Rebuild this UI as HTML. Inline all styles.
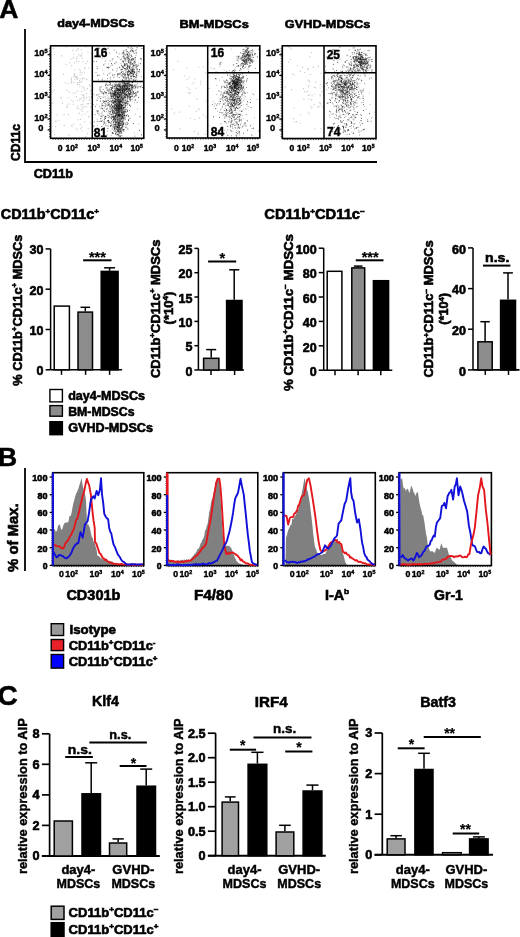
<!DOCTYPE html>
<html><head><meta charset="utf-8"><style>
html,body{margin:0;padding:0;background:#fff;}
svg{display:block;will-change:transform;font-family:"Liberation Sans", sans-serif;font-weight:bold;}
</style></head><body>
<svg width="520" height="937" viewBox="0 0 520 937">
<defs><filter id="soft" x="0" y="0" width="1" height="1"><feGaussianBlur stdDeviation="0.35"/></filter></defs>
<rect width="520" height="937" fill="#fff"/>
<text x="-0.7" y="17.6" font-size="26.5" stroke="#000" stroke-width="0.5">A</text>
<path d="M25 29V162H377" fill="none" stroke="#000" stroke-width="1.8"/>
<text x="57.3" y="27.4" font-size="11.8" textLength="77.3" lengthAdjust="spacingAndGlyphs" stroke="#000" stroke-width="0.6">day4-MDSCs</text>
<text x="179.6" y="27.8" font-size="11.8" textLength="69.2" lengthAdjust="spacingAndGlyphs" stroke="#000" stroke-width="0.6">BM-MDSCs</text>
<text x="284.8" y="27.8" font-size="11.8" textLength="85.6" lengthAdjust="spacingAndGlyphs" stroke="#000" stroke-width="0.6">GVHD-MDSCs</text>
<text x="19.8" y="142.5" font-size="12.5" text-anchor="middle" textLength="37.0" lengthAdjust="spacingAndGlyphs" transform="rotate(-90 19.8 142.5)" stroke="#000" stroke-width="0.6">CD11c</text>
<text x="33.7" y="178.3" font-size="12.5" textLength="39.3" lengthAdjust="spacingAndGlyphs" stroke="#000" stroke-width="0.6">CD11b</text>
<g filter="url(#soft)">
<path d="M120.2 104.1h.9M115.4 102.2h.9M117.2 121.3h.9M116.5 103.9h.9M120.4 130.1h.9M119.4 115.5h.9M118.9 108.3h.9M117.2 104.8h.9M111.4 94.2h.9M118.1 109.9h.9M120.1 111.7h.9M118.3 99.6h.9M118.8 115.6h.9M112.9 110.3h.9M115.8 108.1h.9M123.2 112.9h.9M118.9 105.3h.9M116.7 106.6h.9M119.3 116.5h.9M112.8 107.0h.9M127.0 100.0h.9M122.0 118.6h.9M119.3 126.2h.9M124.8 97.8h.9M119.8 108.6h.9M119.5 110.6h.9M114.3 103.3h.9M116.7 111.4h.9M122.6 109.3h.9M123.6 113.1h.9M113.7 104.6h.9M111.0 114.9h.9M118.6 109.6h.9M124.0 117.8h.9M118.0 119.1h.9M120.4 99.6h.9M114.5 97.9h.9M117.2 116.9h.9M123.7 119.1h.9M123.2 112.0h.9M113.8 104.8h.9M120.4 109.6h.9M115.4 118.5h.9M121.8 124.8h.9M118.7 100.8h.9M119.1 114.6h.9M114.8 115.7h.9M122.9 112.9h.9M119.8 114.6h.9M119.4 108.3h.9M116.6 117.7h.9M111.0 114.4h.9M114.5 100.2h.9M112.0 112.2h.9M122.0 101.3h.9M124.0 117.7h.9M118.4 108.2h.9M118.8 106.9h.9M124.0 117.7h.9M116.8 105.4h.9M116.3 112.7h.9M114.8 109.5h.9M120.3 109.4h.9M116.0 111.3h.9M116.8 94.1h.9M124.3 122.5h.9M117.2 111.5h.9M119.1 110.7h.9M123.7 110.1h.9M120.5 114.0h.9M121.2 106.5h.9M117.2 106.7h.9M114.0 110.0h.9M122.4 129.7h.9M121.0 118.7h.9M122.3 103.1h.9M122.4 105.8h.9M112.4 99.5h.9M118.3 119.0h.9M118.8 102.7h.9M116.4 95.4h.9M115.0 121.5h.9M115.5 88.6h.9M120.4 110.4h.9M118.6 90.8h.9M117.2 110.1h.9M123.6 112.0h.9M118.9 103.2h.9M116.2 128.6h.9M106.0 111.6h.9M119.2 110.9h.9M115.2 104.4h.9M123.5 107.2h.9M119.2 105.3h.9M121.2 108.6h.9M114.8 107.5h.9M113.7 106.4h.9M124.8 99.8h.9M117.1 120.4h.9M122.1 109.3h.9M108.5 104.8h.9M120.0 103.2h.9M118.8 110.4h.9M116.8 114.5h.9M117.4 97.6h.9M111.7 102.5h.9M122.9 111.7h.9M118.0 110.2h.9M125.0 103.8h.9M118.8 109.4h.9M125.4 109.8h.9M118.7 112.7h.9M122.5 117.9h.9M117.4 104.8h.9M118.1 109.4h.9M121.3 113.3h.9M125.1 104.0h.9M116.6 93.5h.9M119.8 99.2h.9M115.0 90.4h.9M120.8 106.1h.9M115.4 101.7h.9M125.1 110.9h.9M118.2 116.9h.9M124.9 107.8h.9M117.0 110.8h.9M118.2 105.9h.9M120.2 101.4h.9M119.8 117.4h.9M119.2 106.9h.9M120.6 123.9h.9M122.4 101.7h.9M128.0 119.7h.9M119.9 105.9h.9M118.8 111.4h.9M114.4 119.0h.9M119.5 119.3h.9M123.3 114.6h.9M121.1 111.7h.9M123.0 118.0h.9M115.9 88.1h.9M123.1 110.7h.9M114.1 104.9h.9M117.5 115.7h.9M117.5 103.0h.9M122.9 120.8h.9M117.2 111.8h.9M115.7 113.3h.9M114.9 120.9h.9M118.8 118.0h.9M122.4 122.5h.9M125.0 119.5h.9M115.9 114.0h.9M118.1 117.5h.9M118.4 109.7h.9M119.2 94.5h.9M118.8 110.6h.9M121.6 108.5h.9M123.4 103.9h.9M116.0 87.0h.9M120.5 110.9h.9M119.6 119.7h.9M119.2 113.6h.9M126.6 100.6h.9M114.8 120.4h.9M112.8 98.5h.9M122.0 116.5h.9M115.2 112.3h.9M114.7 98.2h.9M123.2 104.8h.9M114.7 93.3h.9M122.3 126.1h.9M117.4 96.3h.9M115.5 103.2h.9M117.4 107.2h.9M118.7 97.8h.9M118.7 113.9h.9M116.6 103.5h.9M114.8 93.8h.9M118.6 112.5h.9M120.0 104.1h.9M118.3 90.8h.9M119.9 131.2h.9M119.0 99.4h.9M119.3 119.5h.9M117.8 99.1h.9M117.5 124.5h.9M117.9 121.5h.9M119.9 98.8h.9M119.6 107.5h.9M120.8 107.6h.9M118.0 119.3h.9M119.8 116.7h.9M112.9 98.4h.9M123.7 97.8h.9M123.0 110.0h.9M119.9 122.9h.9M122.8 110.9h.9M108.9 99.2h.9M120.5 98.5h.9M119.4 96.9h.9M118.8 109.9h.9M121.3 96.9h.9M115.0 116.2h.9M120.2 121.7h.9M112.2 103.4h.9M110.0 100.2h.9M122.6 107.2h.9M120.5 109.9h.9M108.0 110.9h.9M118.5 119.2h.9M116.8 101.0h.9M126.8 100.1h.9M118.4 106.0h.9M124.9 104.1h.9M123.2 131.6h.9M113.0 116.2h.9M120.3 107.5h.9M116.4 101.7h.9M112.9 101.3h.9M121.0 105.4h.9M117.1 115.3h.9M123.1 105.6h.9M119.8 124.2h.9M115.1 107.8h.9M119.5 110.3h.9M120.8 112.9h.9M121.7 115.3h.9M119.9 113.8h.9M118.9 108.0h.9M116.0 121.0h.9M117.6 98.7h.9M112.6 107.3h.9M117.5 108.1h.9M121.0 108.9h.9M121.7 99.7h.9M125.8 99.2h.9M121.3 99.7h.9M110.9 110.0h.9M121.7 108.4h.9M117.6 119.7h.9M116.0 109.4h.9M123.9 99.1h.9M126.9 114.6h.9M111.8 103.2h.9M117.7 127.6h.9M118.7 114.8h.9M126.9 107.6h.9M121.8 107.5h.9M116.3 106.5h.9M124.8 105.2h.9M118.7 105.9h.9M117.8 108.7h.9M119.4 109.9h.9M117.3 99.1h.9M119.5 101.8h.9M125.0 111.6h.9M121.7 102.6h.9M124.6 123.3h.9M122.0 103.4h.9M117.8 108.4h.9M117.5 107.2h.9M120.7 107.6h.9M111.1 110.6h.9M121.8 126.5h.9M118.6 110.8h.9M121.5 114.1h.9M123.9 107.9h.9M120.6 90.7h.9M119.8 106.8h.9M113.6 107.1h.9M119.4 98.2h.9M117.9 110.2h.9M118.6 105.8h.9M116.1 104.1h.9M119.4 101.9h.9M118.8 121.9h.9M129.3 105.1h.9M115.0 115.7h.9M115.6 94.3h.9M117.1 106.2h.9M115.2 90.9h.9M117.1 113.2h.9M119.6 99.2h.9M118.7 100.5h.9M125.1 92.6h.9M118.6 90.0h.9M124.4 95.2h.9M129.2 98.4h.9M122.9 89.9h.9M121.3 89.4h.9M132.1 95.9h.9M127.4 89.1h.9M124.4 97.6h.9M123.9 90.9h.9M126.7 89.2h.9M126.8 93.2h.9M115.5 90.1h.9M137.7 91.3h.9M112.3 100.3h.9M117.5 90.0h.9M134.6 94.0h.9M113.5 91.1h.9M116.6 94.0h.9M129.1 90.8h.9M129.2 91.1h.9M114.5 93.1h.9M106.9 95.3h.9M116.9 86.7h.9M113.7 92.4h.9M126.7 94.6h.9M116.0 90.5h.9M123.4 89.8h.9M131.9 96.1h.9M116.8 90.0h.9M124.2 94.1h.9M122.8 83.7h.9M137.7 87.3h.9M113.7 95.7h.9M118.0 89.8h.9M117.6 93.5h.9M107.7 89.7h.9M120.1 93.7h.9M124.2 90.7h.9M113.4 88.2h.9M115.3 92.6h.9M119.9 90.9h.9M124.2 91.7h.9M122.1 90.9h.9M130.4 95.9h.9M127.9 101.8h.9M127.0 95.5h.9M123.6 97.1h.9M123.6 100.3h.9M128.9 97.4h.9M128.9 93.5h.9M120.3 88.1h.9M113.1 81.9h.9M137.1 83.6h.9M115.0 92.5h.9M124.5 100.3h.9M117.1 97.2h.9M126.2 94.2h.9M114.8 96.7h.9M121.9 88.4h.9M125.8 91.5h.9M118.4 88.1h.9M127.7 89.2h.9M121.6 89.1h.9M120.9 95.5h.9M120.1 89.6h.9M118.0 94.6h.9M117.7 96.7h.9M136.0 93.9h.9M125.1 92.6h.9M124.1 86.1h.9M131.9 91.0h.9M121.9 87.6h.9M115.8 94.5h.9M134.7 90.0h.9M119.6 89.9h.9M123.0 94.1h.9M119.6 82.5h.9M119.3 89.2h.9M108.5 97.5h.9M119.1 89.0h.9M115.3 89.4h.9M121.0 83.1h.9M126.2 89.4h.9M116.5 86.6h.9M117.5 92.1h.9M118.5 85.3h.9M110.9 92.6h.9M113.0 95.5h.9M113.5 91.4h.9M128.4 87.9h.9M117.2 96.6h.9M126.4 89.0h.9M119.6 90.5h.9M127.0 99.5h.9M113.0 93.5h.9M123.7 104.1h.9M123.1 93.2h.9M113.2 97.0h.9M115.9 96.1h.9M124.4 96.9h.9M112.3 97.3h.9M121.5 91.1h.9M127.0 87.9h.9M131.2 86.4h.9M109.7 93.1h.9M114.7 95.1h.9M130.7 92.7h.9M111.3 97.5h.9M123.1 86.5h.9M118.7 93.1h.9M116.7 94.0h.9M116.7 94.2h.9M133.7 84.5h.9M119.6 95.6h.9M125.6 94.8h.9M132.2 101.1h.9M117.4 93.4h.9M122.0 98.1h.9M116.8 85.0h.9M113.7 99.1h.9M122.4 99.4h.9M122.8 93.1h.9M112.3 95.3h.9M135.1 94.5h.9M132.9 97.2h.9M134.1 102.9h.9M125.8 94.5h.9M113.2 86.1h.9M106.5 90.5h.9M126.2 88.8h.9M129.3 86.5h.9M122.5 87.0h.9M130.5 94.3h.9M112.3 92.3h.9M120.4 84.8h.9M127.2 98.0h.9M128.9 86.2h.9M123.1 92.4h.9M111.8 87.8h.9M129.5 94.3h.9M118.4 101.5h.9M131.0 86.0h.9M121.6 83.0h.9M113.0 94.8h.9M126.3 86.9h.9M125.9 83.5h.9M132.6 94.7h.9M131.0 89.1h.9M120.2 98.8h.9M117.2 86.1h.9M111.7 90.9h.9M132.0 93.8h.9M116.5 87.0h.9M120.8 88.7h.9M112.1 90.6h.9M120.1 85.8h.9M123.1 91.5h.9M126.4 88.7h.9M119.8 94.5h.9M110.2 92.2h.9M122.4 97.8h.9M117.6 98.9h.9M122.6 99.5h.9M119.6 92.6h.9M112.1 98.4h.9M123.8 97.5h.9M114.3 86.6h.9M120.4 94.4h.9M124.7 90.6h.9M117.9 88.4h.9M123.0 97.6h.9M123.1 88.4h.9M124.9 96.3h.9M126.9 96.9h.9M107.8 96.9h.9M132.3 88.1h.9M137.9 91.7h.9M128.9 97.2h.9M121.2 96.1h.9M116.3 99.8h.9M116.4 84.7h.9M121.1 86.9h.9M120.9 95.1h.9M130.4 96.1h.9M136.7 87.8h.9M124.3 87.0h.9M119.0 83.8h.9M115.6 88.3h.9M126.5 85.3h.9M114.6 90.9h.9M119.4 88.9h.9M124.0 96.9h.9M115.1 90.8h.9M122.7 90.4h.9M119.8 94.8h.9M120.2 100.6h.9M129.1 84.0h.9M124.6 84.2h.9M120.7 75.9h.9M129.9 86.1h.9M117.4 85.9h.9M126.1 85.3h.9M127.4 88.2h.9M126.4 88.6h.9M124.8 81.3h.9M126.6 85.5h.9M123.0 80.5h.9M118.2 88.0h.9M122.5 85.9h.9M122.2 83.7h.9M127.8 86.2h.9M123.9 87.9h.9M120.5 90.7h.9M123.5 87.7h.9M125.7 86.6h.9M129.7 91.4h.9M124.8 83.5h.9M122.4 83.5h.9M128.4 94.3h.9M122.8 85.7h.9M128.8 84.0h.9M133.5 74.7h.9M126.6 80.5h.9M124.9 93.6h.9M124.1 86.4h.9M129.7 81.4h.9M123.4 89.8h.9M128.5 90.4h.9M120.2 85.9h.9M127.9 91.4h.9M124.7 86.1h.9M126.2 84.7h.9M133.2 86.9h.9M127.4 80.8h.9M119.8 86.2h.9M129.2 84.8h.9M120.0 95.9h.9M120.3 83.0h.9M126.1 90.0h.9M124.8 90.0h.9M120.1 87.8h.9M122.8 84.7h.9M123.9 82.0h.9M120.8 86.2h.9M120.5 85.3h.9M125.3 83.2h.9M128.6 87.7h.9M119.4 86.1h.9M128.1 88.4h.9M119.4 88.2h.9M118.8 125.9h.9M118.7 132.6h.9M120.3 124.8h.9M117.7 129.2h.9M117.1 128.2h.9M115.6 123.3h.9M112.9 122.5h.9M122.2 135.8h.9M118.2 120.3h.9M119.0 121.5h.9M124.5 126.4h.9M119.2 121.5h.9M118.4 124.3h.9M118.9 135.8h.9M110.8 135.6h.9M118.1 114.2h.9M120.3 121.4h.9M114.7 124.8h.9M122.4 118.8h.9M113.7 126.3h.9M122.1 124.3h.9M118.7 129.0h.9M115.7 125.3h.9M114.9 126.1h.9M111.8 129.2h.9M114.7 130.0h.9M115.8 135.1h.9M122.1 126.8h.9M121.6 124.5h.9M119.7 116.0h.9M114.7 119.3h.9M118.9 123.8h.9M117.8 129.3h.9M116.5 114.6h.9M123.4 124.7h.9M113.2 130.7h.9M115.8 121.1h.9M121.6 125.2h.9M115.7 132.4h.9M114.1 124.8h.9M115.9 124.9h.9M119.0 114.0h.9M119.7 131.6h.9M111.0 125.1h.9M123.5 129.4h.9M114.8 129.0h.9M117.2 134.5h.9M115.6 133.4h.9M124.1 117.3h.9M121.5 127.6h.9M116.4 121.9h.9M118.4 128.4h.9M115.5 127.7h.9M118.8 123.3h.9M111.8 121.0h.9M123.9 119.4h.9M125.7 125.1h.9M121.0 135.6h.9M126.4 126.9h.9M122.0 121.4h.9M119.4 114.4h.9M118.8 120.2h.9M115.1 126.0h.9M116.6 124.8h.9M117.2 129.5h.9M120.4 118.4h.9M119.9 125.1h.9M121.8 118.1h.9M117.9 123.6h.9M121.6 122.6h.9M114.8 126.8h.9M118.7 127.7h.9M118.3 120.3h.9M121.3 123.3h.9M119.1 132.4h.9M103.2 124.8h.9M112.5 105.8h.9M99.0 97.0h.9M111.6 123.8h.9M103.0 124.2h.9M113.8 113.4h.9M110.1 114.2h.9M101.6 103.7h.9M115.7 112.5h.9M112.9 94.5h.9M116.4 109.1h.9M112.6 133.7h.9M119.6 91.8h.9M102.0 111.9h.9M122.4 105.0h.9M111.6 110.6h.9M95.8 104.3h.9M106.6 126.0h.9M103.2 101.8h.9M102.0 120.3h.9M113.5 101.4h.9M112.3 96.4h.9M111.1 124.1h.9M110.9 96.0h.9M116.2 83.0h.9M108.2 98.5h.9M112.9 102.7h.9M110.1 117.4h.9M98.5 96.6h.9M93.1 104.6h.9M110.4 95.2h.9M111.4 125.1h.9M112.9 107.7h.9M110.4 130.8h.9M113.8 88.4h.9M108.9 112.1h.9M108.4 117.1h.9M113.5 103.4h.9M100.3 96.6h.9M104.0 127.6h.9M106.7 98.5h.9M112.8 110.4h.9M96.9 112.1h.9M102.8 115.5h.9M109.1 103.6h.9M109.2 108.1h.9M114.2 87.8h.9M113.3 108.6h.9M103.5 96.1h.9M99.3 106.7h.9M115.4 86.1h.9M103.8 111.7h.9M108.0 112.2h.9M110.2 112.3h.9M99.5 93.6h.9M99.5 113.8h.9M111.9 102.2h.9M103.9 91.8h.9M107.3 109.6h.9M131.0 71.5h.9M127.1 65.4h.9M120.4 69.7h.9M128.5 69.2h.9M122.7 61.9h.9M134.2 72.5h.9M132.0 84.7h.9M132.8 64.1h.9M126.6 73.7h.9M128.1 77.4h.9M133.0 80.3h.9M124.7 75.8h.9M130.5 61.4h.9M136.6 70.5h.9M135.0 64.9h.9M125.7 63.9h.9M132.1 69.5h.9M133.9 71.5h.9M137.4 73.2h.9M128.7 71.7h.9M131.0 71.0h.9M135.8 72.4h.9M133.4 65.6h.9M128.4 70.9h.9M128.9 61.4h.9M121.2 58.3h.9M129.7 63.7h.9M126.3 69.7h.9M132.5 68.9h.9M130.9 81.9h.9M133.4 79.9h.9M134.5 62.7h.9M129.6 63.0h.9M128.7 67.7h.9M136.1 67.0h.9M130.6 64.1h.9M130.5 74.8h.9M124.8 69.4h.9M129.7 68.0h.9M129.9 69.9h.9M125.3 65.5h.9M127.4 61.3h.9M132.3 71.0h.9M133.9 61.0h.9M120.4 69.6h.9M125.6 77.3h.9M129.3 83.3h.9M130.1 75.7h.9M128.1 70.3h.9M130.1 61.7h.9M119.7 74.6h.9M127.8 76.3h.9M127.7 67.7h.9M128.3 84.9h.9M124.9 68.8h.9M126.9 65.9h.9M121.3 53.9h.9M126.0 56.9h.9M123.0 54.1h.9M123.5 65.4h.9M124.3 70.2h.9M123.7 65.4h.9M125.3 64.0h.9M135.5 55.5h.9M126.5 67.6h.9M125.6 73.3h.9M135.2 74.8h.9M132.6 71.0h.9M126.5 67.6h.9M127.3 75.3h.9M129.3 68.1h.9M131.5 78.6h.9M124.8 73.9h.9M125.0 70.9h.9M131.3 56.7h.9M127.2 72.1h.9M130.1 62.2h.9M130.8 70.2h.9M127.4 71.6h.9M127.6 67.4h.9M129.0 75.0h.9M128.7 52.9h.9M132.6 65.7h.9M128.6 61.9h.9M137.0 75.9h.9M130.5 55.4h.9M135.7 67.9h.9M122.2 76.2h.9M125.7 69.7h.9M135.7 54.0h.9M131.0 49.8h.9M131.9 56.8h.9M123.4 52.5h.9M124.8 55.3h.9M129.0 54.5h.9M127.0 51.5h.9M126.2 53.1h.9M132.6 51.9h.9M124.2 57.9h.9M132.9 59.0h.9M133.1 52.7h.9M125.6 50.2h.9M124.0 59.2h.9M130.2 50.8h.9M129.9 57.5h.9M126.6 59.4h.9M130.3 51.2h.9M107.6 84.5h.9M119.5 68.2h.9M105.8 84.6h.9M110.4 79.7h.9M101.8 78.1h.9M110.2 66.2h.9M109.1 67.4h.9M102.3 70.3h.9M108.2 64.0h.9M104.5 80.3h.9M93.3 61.4h.9M104.6 63.8h.9M110.1 72.8h.9M126.7 68.7h.9M124.0 64.6h.9M117.3 74.4h.9M118.8 57.9h.9M91.9 88.4h.9M105.7 52.4h.9M107.7 47.9h.9M99.6 54.3h.9M135.5 52.6h.9M138.3 63.0h.9M119.8 72.4h.9M134.3 72.1h.9M136.0 75.3h.9M132.5 48.4h.9M101.8 58.2h.9M134.2 78.5h.9M114.3 94.3h.9M97.0 125.7h.9M93.9 121.6h.9M105.9 93.0h.9M104.9 98.9h.9M106.8 134.8h.9M137.2 108.9h.9M116.3 127.9h.9M126.9 115.0h.9M137.9 124.1h.9M95.3 132.0h.9M104.1 121.1h.9M135.7 84.7h.9M134.0 133.0h.9M111.7 128.3h.9M124.8 116.1h.9M96.6 119.6h.9M94.2 122.1h.9M96.1 132.5h.9M93.8 94.7h.9M135.2 114.4h.9" stroke="#000" stroke-width=".9" opacity="0.35"/>
<path d="M119.2 118.9h.9M124.4 104.9h.9M121.8 111.8h.9M113.8 106.6h.9M111.6 109.1h.9M113.9 120.2h.9M119.6 115.9h.9M108.9 116.4h.9M119.5 111.2h.9M117.1 124.2h.9M115.1 101.1h.9M115.8 115.3h.9M122.5 111.6h.9M114.1 108.8h.9M124.4 100.8h.9M119.5 99.9h.9M121.3 107.1h.9M121.7 110.0h.9M121.7 122.2h.9M116.3 118.0h.9M117.1 121.0h.9M117.1 110.3h.9M121.8 105.1h.9M125.1 97.2h.9M117.8 103.6h.9M118.5 119.7h.9M118.2 108.2h.9M119.0 106.0h.9M118.9 112.5h.9M117.6 103.5h.9M117.8 105.4h.9M119.7 110.8h.9M128.0 116.5h.9M115.7 119.2h.9M116.5 114.0h.9M119.8 128.3h.9M121.0 102.0h.9M121.1 123.5h.9M120.0 115.3h.9M110.5 107.1h.9M122.4 101.4h.9M122.1 95.7h.9M119.5 108.8h.9M112.9 113.2h.9M124.8 107.8h.9M118.7 117.9h.9M123.4 118.0h.9M116.8 106.1h.9M116.5 109.7h.9M113.9 101.3h.9M118.4 105.6h.9M116.2 112.0h.9M117.5 112.2h.9M117.8 124.1h.9M115.8 103.4h.9M125.6 105.8h.9M118.2 107.1h.9M116.5 90.1h.9M112.0 112.2h.9M120.8 96.8h.9M114.6 91.6h.9M114.1 100.8h.9M120.2 114.5h.9M118.9 97.3h.9M117.0 106.3h.9M122.9 123.8h.9M118.4 92.1h.9M122.1 116.5h.9M122.7 102.3h.9M125.1 97.3h.9M126.5 101.6h.9M112.2 102.0h.9M119.0 116.3h.9M120.0 103.1h.9M118.0 115.4h.9M112.4 116.4h.9M120.6 100.9h.9M120.4 107.1h.9M122.6 118.7h.9M118.9 109.0h.9M119.3 103.6h.9M117.8 115.7h.9M111.1 96.6h.9M114.3 107.2h.9M119.9 101.4h.9M116.3 112.1h.9M118.4 109.5h.9M119.0 107.9h.9M114.7 118.7h.9M118.3 89.7h.9M123.8 102.8h.9M125.1 118.0h.9M121.7 118.0h.9M119.9 120.0h.9M119.2 114.2h.9M121.2 100.0h.9M116.7 100.9h.9M121.0 128.9h.9M114.6 107.6h.9M118.1 102.0h.9M118.1 95.1h.9M115.6 100.4h.9M117.7 106.9h.9M119.0 122.8h.9M118.0 105.8h.9M118.2 102.1h.9M114.8 108.5h.9M114.0 108.3h.9M123.3 104.3h.9M120.0 114.4h.9M121.2 116.6h.9M119.2 120.8h.9M122.8 107.5h.9M115.6 97.4h.9M120.2 104.5h.9M119.9 94.2h.9M117.8 108.8h.9M118.7 108.3h.9M126.5 101.9h.9M121.4 112.4h.9M112.3 114.2h.9M111.2 108.7h.9M121.8 96.6h.9M118.4 98.8h.9M117.5 110.9h.9M116.3 96.1h.9M121.5 114.6h.9M118.3 114.4h.9M114.4 119.1h.9M123.4 120.6h.9M117.6 105.9h.9M113.2 121.3h.9M122.2 114.7h.9M118.2 110.9h.9M119.9 116.9h.9M112.1 111.9h.9M119.7 103.3h.9M120.6 105.1h.9M119.8 119.1h.9M122.2 126.2h.9M120.9 105.2h.9M111.4 98.5h.9M121.4 112.6h.9M117.8 104.9h.9M129.1 110.5h.9M116.4 111.8h.9M114.0 108.6h.9M114.8 116.6h.9M118.8 103.9h.9M117.8 113.9h.9M113.8 112.6h.9M122.5 121.9h.9M112.9 110.4h.9M116.9 101.8h.9M120.5 123.6h.9M121.4 110.5h.9M118.8 104.5h.9M114.7 108.7h.9M122.8 111.2h.9M115.4 101.3h.9M112.1 116.1h.9M111.8 95.5h.9M112.9 114.3h.9M114.6 110.6h.9M114.5 102.6h.9M115.8 122.2h.9M116.1 111.4h.9M121.3 111.2h.9M116.0 97.0h.9M120.7 121.2h.9M111.7 107.1h.9M126.4 95.2h.9M120.0 132.0h.9M115.0 107.2h.9M122.3 112.5h.9M115.1 110.5h.9M124.5 112.5h.9M114.5 99.2h.9M118.5 100.6h.9M115.9 113.5h.9M116.0 114.3h.9M118.8 113.9h.9M116.1 106.6h.9M110.7 114.3h.9M119.4 102.9h.9M119.6 87.6h.9M115.1 101.3h.9M116.8 122.5h.9M114.2 108.8h.9M117.2 94.5h.9M121.2 109.8h.9M120.0 108.1h.9M121.5 102.4h.9M120.7 106.1h.9M121.2 106.6h.9M113.0 121.4h.9M113.8 129.1h.9M116.5 113.1h.9M124.1 102.9h.9M120.1 106.2h.9M118.6 111.4h.9M114.0 104.1h.9M120.7 94.4h.9M115.9 100.9h.9M121.9 112.9h.9M120.6 101.0h.9M120.4 123.5h.9M112.4 106.0h.9M121.3 121.5h.9M118.8 96.1h.9M117.5 85.4h.9M116.6 131.5h.9M116.6 96.4h.9M118.9 103.2h.9M122.0 113.0h.9M121.2 109.7h.9M121.7 129.0h.9M123.5 111.2h.9M120.2 98.3h.9M122.1 120.3h.9M118.8 113.5h.9M122.6 108.5h.9M119.8 104.9h.9M118.9 114.5h.9M118.3 111.4h.9M115.3 108.7h.9M123.2 100.5h.9M118.0 107.3h.9M123.4 98.6h.9M116.2 115.8h.9M115.3 115.1h.9M119.3 132.0h.9M117.6 98.6h.9M116.5 123.4h.9M117.2 112.6h.9M123.8 115.5h.9M128.0 119.9h.9M119.3 112.5h.9M125.1 103.1h.9M118.5 103.6h.9M115.7 96.7h.9M112.4 126.2h.9M118.4 108.2h.9M117.7 94.4h.9M115.4 134.4h.9M114.9 117.7h.9M118.1 110.4h.9M121.8 121.8h.9M122.8 122.5h.9M118.1 114.8h.9M123.8 86.4h.9M117.0 105.1h.9M121.7 121.6h.9M121.6 122.5h.9M120.7 101.3h.9M116.6 103.9h.9M117.6 125.9h.9M123.4 115.3h.9M115.4 109.2h.9M114.2 94.4h.9M118.6 109.2h.9M116.6 115.4h.9M124.3 91.8h.9M114.7 98.4h.9M117.5 107.0h.9M118.0 104.5h.9M121.1 118.4h.9M121.8 105.6h.9M114.5 106.4h.9M118.2 110.9h.9M116.3 99.5h.9M116.9 101.7h.9M121.4 110.1h.9M112.7 111.8h.9M116.3 101.0h.9M121.2 111.4h.9M113.0 118.7h.9M125.3 101.9h.9M118.2 104.6h.9M112.9 127.5h.9M115.3 104.5h.9M114.1 104.2h.9M120.4 121.3h.9M119.4 111.4h.9M120.6 106.9h.9M118.3 105.7h.9M125.5 112.5h.9M114.2 101.1h.9M112.2 111.5h.9M116.1 100.0h.9M117.1 96.5h.9M122.1 98.0h.9M115.1 109.8h.9M113.2 103.4h.9M117.3 105.5h.9M121.2 113.8h.9M115.6 90.5h.9M107.7 91.1h.9M130.7 88.7h.9M116.5 95.7h.9M129.4 90.0h.9M130.7 89.7h.9M123.2 92.9h.9M122.6 86.2h.9M115.5 98.7h.9M120.0 97.0h.9M112.8 96.2h.9M126.5 88.3h.9M121.3 90.1h.9M116.7 93.0h.9M122.6 92.9h.9M120.3 97.7h.9M127.7 93.4h.9M117.7 91.1h.9M116.2 89.3h.9M130.3 91.9h.9M117.1 90.7h.9M129.8 94.3h.9M127.8 96.1h.9M120.8 88.1h.9M112.1 90.6h.9M128.9 90.5h.9M122.5 94.7h.9M124.6 84.9h.9M131.6 85.3h.9M123.0 86.1h.9M114.3 84.8h.9M119.3 90.4h.9M124.1 96.5h.9M111.1 89.0h.9M128.3 74.7h.9M115.3 95.1h.9M128.5 94.9h.9M129.2 99.2h.9M112.7 100.1h.9M105.9 92.9h.9M127.3 90.8h.9M114.5 91.1h.9M134.9 93.2h.9M123.7 91.4h.9M129.1 93.5h.9M129.9 84.6h.9M119.5 86.7h.9M135.3 95.4h.9M116.3 87.9h.9M129.9 90.8h.9M123.2 88.2h.9M126.0 92.2h.9M119.2 92.8h.9M113.7 93.9h.9M124.5 79.2h.9M122.4 88.5h.9M129.2 90.7h.9M132.9 88.1h.9M129.1 89.2h.9M129.9 85.2h.9M125.5 93.4h.9M121.4 93.0h.9M119.8 88.6h.9M119.8 92.0h.9M123.4 95.4h.9M128.5 96.3h.9M120.2 89.0h.9M126.2 88.2h.9M118.9 84.7h.9M112.6 86.8h.9M132.4 94.9h.9M121.4 96.7h.9M122.0 91.7h.9M129.8 92.1h.9M121.6 98.3h.9M121.4 98.7h.9M124.1 92.5h.9M136.7 102.5h.9M126.9 84.2h.9M128.5 80.8h.9M130.8 92.3h.9M112.2 81.3h.9M121.3 100.4h.9M117.2 97.9h.9M116.8 103.7h.9M132.6 91.1h.9M125.4 95.6h.9M126.9 90.3h.9M124.6 84.2h.9M120.3 85.2h.9M124.0 92.4h.9M120.9 97.6h.9M128.9 89.6h.9M130.5 94.5h.9M122.2 88.2h.9M121.5 95.6h.9M127.7 97.8h.9M134.2 88.2h.9M126.5 89.8h.9M131.6 91.8h.9M118.2 93.9h.9M121.4 96.4h.9M140.9 86.0h.9M122.7 98.5h.9M119.4 96.0h.9M120.8 100.5h.9M118.2 88.3h.9M116.5 94.0h.9M119.4 94.2h.9M114.2 84.1h.9M123.6 84.4h.9M120.7 88.8h.9M125.0 97.0h.9M128.6 93.9h.9M112.5 92.5h.9M124.5 96.2h.9M127.7 91.2h.9M122.7 84.9h.9M114.7 91.7h.9M124.7 93.4h.9M118.1 97.4h.9M127.6 94.3h.9M132.2 87.6h.9M121.9 96.0h.9M115.3 84.6h.9M120.2 105.0h.9M109.9 94.6h.9M117.4 88.6h.9M114.9 99.7h.9M126.2 94.5h.9M119.5 95.7h.9M113.9 86.2h.9M115.5 89.4h.9M119.9 91.4h.9M136.0 95.1h.9M136.7 87.9h.9M116.9 94.7h.9M121.1 96.0h.9M121.0 107.7h.9M121.9 87.5h.9M133.1 86.7h.9M121.6 89.3h.9M119.9 91.0h.9M122.2 84.9h.9M121.3 90.3h.9M116.6 95.4h.9M125.3 103.4h.9M111.0 88.1h.9M127.3 95.7h.9M119.1 89.5h.9M130.1 96.8h.9M102.3 93.4h.9M122.3 89.5h.9M139.4 87.0h.9M124.5 86.5h.9M133.0 92.8h.9M123.9 85.6h.9M115.4 92.7h.9M117.1 93.9h.9M130.0 100.1h.9M125.3 89.9h.9M125.4 90.3h.9M128.0 86.3h.9M125.9 89.4h.9M134.6 99.8h.9M120.0 94.3h.9M115.2 92.2h.9M108.9 89.0h.9M123.9 94.8h.9M120.3 93.1h.9M114.1 81.2h.9M122.0 87.2h.9M115.7 86.4h.9M135.1 92.6h.9M127.1 101.4h.9M116.6 88.6h.9M131.8 87.9h.9M116.4 90.7h.9M128.1 90.8h.9M114.8 95.0h.9M112.3 91.1h.9M115.0 96.0h.9M128.7 95.5h.9M120.1 97.4h.9M117.2 100.8h.9M124.3 84.1h.9M108.6 91.3h.9M117.0 92.8h.9M113.5 91.8h.9M116.3 105.4h.9M129.5 88.3h.9M132.2 96.4h.9M122.5 88.0h.9M130.3 97.7h.9M116.6 97.3h.9M115.1 82.0h.9M110.8 85.5h.9M115.4 95.7h.9M132.2 99.0h.9M135.7 93.0h.9M124.7 87.8h.9M129.1 93.3h.9M122.4 89.5h.9M116.0 95.2h.9M121.1 81.2h.9M128.5 84.3h.9M122.6 86.2h.9M127.9 83.3h.9M125.6 83.3h.9M125.8 92.3h.9M128.0 83.0h.9M114.6 86.3h.9M131.2 81.8h.9M124.1 94.6h.9M126.4 84.5h.9M121.4 94.3h.9M120.5 86.3h.9M129.0 88.5h.9M121.9 87.3h.9M125.3 84.5h.9M122.2 82.2h.9M128.9 90.0h.9M124.8 86.0h.9M127.3 88.0h.9M126.0 86.7h.9M130.9 85.0h.9M128.8 88.9h.9M121.7 75.8h.9M122.2 86.6h.9M123.9 88.8h.9M123.2 88.4h.9M124.7 88.8h.9M125.1 86.4h.9M118.3 84.3h.9M126.5 83.2h.9M124.9 94.7h.9M129.4 85.1h.9M127.1 81.6h.9M128.8 91.2h.9M119.3 85.0h.9M126.4 80.4h.9M123.6 82.2h.9M118.6 85.6h.9M127.4 85.0h.9M123.8 89.7h.9M121.7 86.2h.9M123.1 87.8h.9M133.1 92.4h.9M126.1 91.3h.9M127.4 90.0h.9M126.9 83.6h.9M122.6 90.1h.9M127.9 93.9h.9M124.9 85.2h.9M128.7 85.0h.9M123.8 85.1h.9M117.9 123.8h.9M123.8 116.2h.9M120.9 131.0h.9M115.5 124.7h.9M120.2 129.2h.9M119.4 131.3h.9M122.4 117.5h.9M119.8 135.7h.9M114.3 124.7h.9M114.2 126.4h.9M113.8 122.1h.9M117.4 134.8h.9M118.4 126.3h.9M120.3 130.2h.9M117.5 129.4h.9M119.6 133.5h.9M123.3 118.1h.9M112.9 133.2h.9M117.7 129.5h.9M115.5 121.5h.9M119.2 127.4h.9M115.9 129.1h.9M120.1 123.2h.9M118.1 129.1h.9M120.4 128.9h.9M122.6 127.0h.9M122.2 126.2h.9M115.6 122.6h.9M123.1 124.8h.9M119.1 121.2h.9M118.3 126.1h.9M116.5 117.5h.9M119.9 121.1h.9M111.8 133.4h.9M117.9 130.7h.9M117.7 121.7h.9M117.3 120.0h.9M118.0 130.9h.9M117.4 120.8h.9M121.5 114.3h.9M118.0 125.4h.9M117.8 125.4h.9M115.1 122.9h.9M114.3 131.3h.9M118.7 126.7h.9M114.3 121.2h.9M115.9 126.2h.9M114.2 118.6h.9M114.3 129.0h.9M119.4 131.2h.9M114.9 125.8h.9M118.3 129.7h.9M113.8 130.0h.9M118.4 122.4h.9M121.5 133.0h.9M119.1 125.7h.9M117.2 127.4h.9M122.4 123.8h.9M119.5 124.1h.9M118.3 129.3h.9M115.5 130.2h.9M120.1 118.3h.9M117.2 127.3h.9M112.8 111.8h.9M114.5 124.4h.9M107.8 117.6h.9M118.6 99.6h.9M100.4 121.1h.9M113.5 94.2h.9M105.8 83.1h.9M105.5 93.8h.9M109.0 84.7h.9M99.5 88.8h.9M107.1 105.2h.9M109.9 111.1h.9M112.7 126.6h.9M103.8 127.8h.9M115.5 125.8h.9M101.7 103.8h.9M107.3 131.1h.9M101.7 105.2h.9M117.2 114.8h.9M115.9 101.9h.9M104.7 101.1h.9M97.5 98.3h.9M111.2 93.9h.9M105.6 104.7h.9M91.7 113.1h.9M108.1 93.7h.9M104.1 91.9h.9M110.4 101.3h.9M103.4 121.7h.9M112.7 94.4h.9M101.9 92.0h.9M107.6 120.8h.9M113.9 128.9h.9M117.5 110.8h.9M101.5 120.8h.9M102.8 89.5h.9M120.9 108.8h.9M108.9 111.4h.9M107.1 78.6h.9M113.6 108.3h.9M104.4 103.1h.9M114.1 112.4h.9M102.2 108.8h.9M108.8 73.7h.9M109.6 118.0h.9M102.2 80.0h.9M95.1 106.6h.9M104.1 122.9h.9M104.8 96.9h.9M101.4 113.1h.9M98.7 115.0h.9M117.3 96.0h.9M104.5 105.8h.9M109.6 89.5h.9M108.4 115.5h.9M114.7 108.8h.9M103.2 110.4h.9M105.5 123.0h.9M103.0 94.1h.9M111.0 125.7h.9M103.4 93.6h.9M110.3 87.5h.9M103.8 108.1h.9M110.7 105.2h.9M109.6 84.9h.9M105.1 103.8h.9M94.7 114.6h.9M116.2 113.0h.9M107.6 120.5h.9M107.8 126.2h.9M113.5 101.5h.9M117.4 108.1h.9M95.9 110.9h.9M102.3 114.9h.9M102.6 97.4h.9M106.1 109.6h.9M119.7 133.2h.9M112.3 116.9h.9M104.4 116.3h.9M96.7 121.4h.9M106.8 105.8h.9M114.2 102.1h.9M134.9 59.8h.9M135.5 79.6h.9M125.7 78.3h.9M125.1 68.4h.9M132.8 69.3h.9M133.8 69.5h.9M135.6 74.3h.9M123.2 72.0h.9M132.8 62.9h.9M131.4 68.7h.9M136.5 71.9h.9M127.8 77.9h.9M136.3 65.3h.9M133.1 74.9h.9M131.1 60.1h.9M125.6 61.1h.9M133.7 69.9h.9M131.2 73.4h.9M131.4 60.6h.9M131.6 75.2h.9M127.7 57.1h.9M129.7 72.5h.9M123.1 68.0h.9M120.2 84.0h.9M129.1 71.6h.9M129.2 67.2h.9M132.8 73.2h.9M127.4 71.8h.9M123.8 83.2h.9M123.9 73.7h.9M118.9 77.5h.9M133.4 69.9h.9M134.9 62.2h.9M132.9 77.0h.9M135.8 67.0h.9M128.0 62.7h.9M131.3 70.7h.9M140.3 59.1h.9M133.6 61.3h.9M126.9 75.0h.9M127.1 58.9h.9M122.3 73.6h.9M131.4 67.5h.9M128.7 71.3h.9M122.5 56.7h.9M119.9 73.7h.9M134.2 53.3h.9M132.0 69.1h.9M132.9 79.7h.9M135.6 64.5h.9M127.3 67.1h.9M115.5 82.4h.9M120.6 63.9h.9M120.9 86.0h.9M132.8 80.1h.9M122.2 67.1h.9M125.2 72.3h.9M130.4 76.3h.9M133.4 81.7h.9M126.3 67.9h.9M129.7 51.8h.9M137.7 71.5h.9M126.9 63.9h.9M129.7 72.1h.9M131.2 64.2h.9M131.8 76.0h.9M129.6 66.6h.9M128.4 65.5h.9M126.7 58.1h.9M132.5 70.2h.9M127.1 64.4h.9M133.1 71.3h.9M130.2 60.9h.9M131.7 73.6h.9M131.0 62.9h.9M134.3 57.9h.9M133.1 65.2h.9M123.5 66.5h.9M136.0 66.8h.9M132.1 71.2h.9M129.5 73.5h.9M130.3 78.3h.9M127.0 68.3h.9M121.8 66.1h.9M131.8 82.8h.9M122.6 61.7h.9M127.9 61.1h.9M127.1 54.5h.9M122.4 61.3h.9M124.4 65.4h.9M127.3 57.5h.9M123.5 50.4h.9M135.0 50.6h.9M131.9 51.3h.9M130.1 48.1h.9M128.5 58.5h.9M129.2 53.8h.9M124.8 58.1h.9M122.2 53.0h.9M130.3 51.1h.9M126.6 53.6h.9M123.5 58.0h.9M123.2 51.1h.9M130.6 55.1h.9M131.3 47.2h.9M128.8 59.0h.9M116.8 68.4h.9M97.9 79.8h.9M121.3 75.2h.9M95.6 72.4h.9M116.4 70.8h.9M109.3 53.0h.9M130.5 71.7h.9M134.6 67.8h.9M121.7 69.1h.9M96.4 66.7h.9M124.8 85.0h.9M107.9 68.3h.9M91.7 121.4h.9M96.2 61.4h.9M136.0 49.9h.9M107.0 67.5h.9M103.3 73.8h.9M109.6 60.9h.9M141.1 76.9h.9M104.8 60.9h.9M114.2 50.1h.9M123.7 58.3h.9M136.0 52.7h.9M126.1 69.9h.9M101.6 52.4h.9M99.8 57.0h.9M117.3 76.9h.9M111.8 59.9h.9M139.2 72.1h.9M101.3 49.2h.9M93.5 61.5h.9M108.1 67.1h.9M121.0 69.8h.9M112.4 58.7h.9M139.8 58.3h.9M125.1 68.8h.9M107.6 48.5h.9M101.7 79.9h.9M118.7 53.8h.9M127.5 123.5h.9M93.3 131.3h.9M110.7 114.7h.9M132.7 93.1h.9M97.6 135.8h.9M134.5 136.1h.9M128.3 101.6h.9M127.9 85.8h.9M119.4 136.3h.9M103.4 128.6h.9M101.0 86.8h.9M96.1 95.0h.9M122.1 91.3h.9" stroke="#000" stroke-width=".9" opacity="0.55"/>
<path d="M119.0 114.4h.9M117.9 99.1h.9M115.0 110.9h.9M117.0 117.0h.9M121.0 107.7h.9M115.3 104.7h.9M113.6 119.3h.9M116.8 126.8h.9M118.6 110.0h.9M119.4 107.9h.9M119.3 99.3h.9M122.4 114.7h.9M116.4 110.6h.9M114.2 128.7h.9M118.2 115.3h.9M118.7 109.9h.9M118.2 115.3h.9M115.8 90.9h.9M121.6 116.7h.9M117.7 103.0h.9M117.5 107.4h.9M117.3 119.1h.9M121.6 105.4h.9M121.7 115.1h.9M119.0 108.7h.9M121.3 104.4h.9M112.2 109.3h.9M110.9 104.2h.9M118.3 115.9h.9M118.2 106.3h.9M114.9 92.4h.9M115.6 108.4h.9M118.5 89.8h.9M120.5 117.1h.9M115.6 101.2h.9M117.9 109.2h.9M115.1 113.9h.9M115.8 107.6h.9M122.9 112.9h.9M119.1 102.0h.9M117.7 112.3h.9M119.0 126.2h.9M113.5 117.2h.9M124.6 106.6h.9M113.2 93.6h.9M121.9 102.8h.9M118.9 102.9h.9M119.3 107.1h.9M118.4 99.9h.9M117.0 100.0h.9M121.5 108.5h.9M117.8 113.8h.9M118.4 123.9h.9M121.7 100.7h.9M116.7 106.9h.9M113.5 116.1h.9M122.8 108.6h.9M122.3 106.0h.9M122.5 99.6h.9M124.9 105.6h.9M114.4 117.5h.9M114.9 116.5h.9M110.6 95.8h.9M119.2 90.0h.9M119.2 103.6h.9M115.6 113.1h.9M112.9 124.9h.9M115.1 99.2h.9M121.0 118.8h.9M115.0 108.1h.9M119.8 99.6h.9M115.9 106.7h.9M127.1 111.3h.9M113.4 107.2h.9M113.2 102.9h.9M122.0 110.9h.9M118.7 101.2h.9M110.2 126.3h.9M116.9 130.3h.9M124.3 115.7h.9M119.6 104.3h.9M119.2 115.3h.9M118.8 105.6h.9M122.2 98.8h.9M121.0 117.9h.9M123.4 113.3h.9M113.9 112.0h.9M125.9 115.5h.9M120.5 102.6h.9M119.3 102.9h.9M117.9 102.4h.9M120.3 91.9h.9M119.0 108.7h.9M125.3 124.1h.9M122.7 109.0h.9M119.4 129.8h.9M118.2 112.0h.9M116.5 108.5h.9M119.3 101.8h.9M117.6 108.0h.9M119.4 101.1h.9M112.6 113.6h.9M122.5 105.8h.9M115.9 109.3h.9M127.1 110.9h.9M120.3 109.0h.9M114.6 93.0h.9M124.1 107.7h.9M126.8 104.8h.9M116.6 119.0h.9M113.6 118.7h.9M115.2 116.0h.9M118.8 116.6h.9M121.0 107.4h.9M113.4 96.3h.9M112.2 120.1h.9M115.9 103.3h.9M114.3 106.1h.9M123.3 96.0h.9M117.1 107.9h.9M118.5 105.7h.9M117.4 116.7h.9M113.8 101.1h.9M117.5 100.6h.9M115.3 99.4h.9M124.4 111.0h.9M124.4 103.0h.9M114.5 101.2h.9M118.3 115.6h.9M125.4 103.6h.9M119.7 108.2h.9M112.3 133.0h.9M123.3 107.9h.9M120.3 115.1h.9M117.0 119.8h.9M116.9 104.4h.9M119.0 96.4h.9M116.4 99.0h.9M115.1 96.8h.9M116.0 108.1h.9M121.4 107.3h.9M118.6 122.7h.9M114.7 115.6h.9M118.8 118.4h.9M115.1 124.4h.9M114.2 109.2h.9M117.7 116.5h.9M118.9 115.1h.9M113.7 111.4h.9M113.4 102.5h.9M117.6 98.0h.9M124.6 109.5h.9M107.7 103.0h.9M121.1 97.9h.9M117.9 97.5h.9M113.0 95.1h.9M111.4 116.8h.9M118.9 106.2h.9M118.7 123.5h.9M118.6 106.1h.9M118.8 111.9h.9M124.2 111.6h.9M126.5 97.3h.9M121.4 106.3h.9M115.2 115.4h.9M118.1 122.4h.9M116.8 90.4h.9M113.6 117.1h.9M113.6 117.4h.9M116.5 110.3h.9M118.4 133.0h.9M117.3 115.0h.9M119.4 122.2h.9M118.4 90.3h.9M112.3 100.6h.9M120.1 125.4h.9M120.5 120.0h.9M116.4 108.6h.9M112.8 102.6h.9M118.4 101.4h.9M117.5 115.0h.9M126.0 115.8h.9M125.4 111.5h.9M118.0 114.2h.9M116.2 105.6h.9M120.6 105.2h.9M123.0 107.8h.9M123.3 102.1h.9M117.8 115.3h.9M115.5 122.4h.9M117.7 110.4h.9M125.8 102.9h.9M120.3 92.7h.9M118.8 104.6h.9M124.4 115.4h.9M115.1 101.3h.9M118.2 108.1h.9M122.1 117.7h.9M121.0 105.6h.9M115.4 123.0h.9M115.6 113.3h.9M121.7 121.7h.9M120.0 106.9h.9M122.7 119.0h.9M127.0 103.3h.9M119.9 101.5h.9M113.3 119.1h.9M116.0 105.9h.9M121.5 112.6h.9M121.0 115.5h.9M117.6 92.9h.9M123.5 112.2h.9M114.9 105.4h.9M117.5 110.0h.9M129.1 105.1h.9M118.6 101.1h.9M121.8 116.6h.9M127.2 98.1h.9M126.7 122.4h.9M118.2 111.8h.9M112.2 117.2h.9M120.5 109.0h.9M117.7 108.0h.9M109.8 109.1h.9M120.0 104.8h.9M119.1 107.8h.9M117.0 97.6h.9M119.3 116.0h.9M111.0 104.8h.9M120.4 112.3h.9M113.0 119.6h.9M120.2 114.7h.9M116.8 105.9h.9M112.3 112.6h.9M118.9 101.5h.9M126.4 109.6h.9M118.8 94.6h.9M118.7 114.5h.9M128.1 120.4h.9M118.7 103.0h.9M122.7 118.2h.9M120.1 89.8h.9M125.2 100.2h.9M119.3 101.5h.9M111.2 101.2h.9M116.3 110.1h.9M116.9 112.5h.9M115.3 116.5h.9M110.7 101.9h.9M116.4 104.7h.9M120.5 110.6h.9M120.2 100.1h.9M116.0 105.5h.9M116.4 114.6h.9M119.2 96.7h.9M120.7 108.4h.9M113.2 116.5h.9M118.0 105.3h.9M116.4 108.5h.9M121.2 119.0h.9M122.9 116.2h.9M114.4 105.5h.9M118.9 104.6h.9M110.6 96.9h.9M118.3 97.3h.9M111.9 100.4h.9M117.1 108.9h.9M122.2 114.0h.9M115.5 102.3h.9M124.4 83.5h.9M130.6 92.9h.9M106.6 88.0h.9M126.5 88.2h.9M105.4 92.2h.9M117.4 73.7h.9M128.1 92.5h.9M109.1 82.5h.9M117.1 89.1h.9M120.1 87.4h.9M114.8 97.9h.9M134.1 96.8h.9M109.9 92.4h.9M130.2 91.1h.9M130.1 93.2h.9M115.9 88.6h.9M117.3 99.3h.9M138.0 97.4h.9M127.6 103.8h.9M125.4 94.7h.9M118.5 94.0h.9M116.7 84.7h.9M122.8 97.8h.9M130.1 106.1h.9M127.0 96.4h.9M124.8 87.6h.9M125.2 89.0h.9M118.2 96.8h.9M119.9 89.7h.9M112.2 85.1h.9M113.9 98.5h.9M119.5 95.8h.9M124.6 86.0h.9M121.5 90.0h.9M111.2 96.3h.9M118.8 90.6h.9M116.7 96.5h.9M124.5 89.4h.9M127.1 86.1h.9M130.4 93.9h.9M122.1 91.9h.9M115.2 94.9h.9M119.0 86.6h.9M126.1 94.7h.9M120.7 104.4h.9M117.4 90.5h.9M112.4 93.7h.9M129.4 98.9h.9M114.4 92.8h.9M124.8 97.9h.9M118.4 91.4h.9M134.1 93.3h.9M121.3 92.9h.9M136.2 81.5h.9M117.0 92.3h.9M126.7 101.4h.9M134.6 86.0h.9M124.1 94.1h.9M105.7 87.9h.9M123.9 91.6h.9M129.1 93.9h.9M131.9 82.6h.9M120.3 92.2h.9M122.9 92.1h.9M124.4 97.6h.9M115.7 94.3h.9M118.5 92.8h.9M121.6 92.2h.9M121.2 97.1h.9M131.3 96.4h.9M137.3 91.9h.9M124.3 81.6h.9M115.0 94.7h.9M119.7 101.6h.9M121.6 86.7h.9M114.2 90.3h.9M125.7 94.2h.9M121.2 94.6h.9M114.7 102.2h.9M122.7 89.0h.9M120.9 93.7h.9M111.1 89.5h.9M114.4 95.0h.9M132.8 93.1h.9M131.9 87.3h.9M116.8 97.3h.9M113.7 94.3h.9M122.3 90.5h.9M116.2 92.6h.9M114.3 91.2h.9M122.0 99.7h.9M125.4 90.7h.9M134.8 100.1h.9M107.3 89.9h.9M117.3 90.5h.9M122.8 77.0h.9M115.8 91.8h.9M127.5 96.7h.9M118.5 90.2h.9M126.6 85.3h.9M110.7 93.8h.9M123.7 90.0h.9M129.7 100.8h.9M128.8 95.2h.9M134.0 85.9h.9M124.1 90.4h.9M117.7 96.0h.9M122.0 86.2h.9M131.3 89.0h.9M114.0 94.0h.9M117.4 85.8h.9M105.4 92.6h.9M136.8 92.2h.9M123.0 89.9h.9M118.8 86.0h.9M128.0 93.2h.9M125.7 102.6h.9M125.4 95.1h.9M135.0 87.8h.9M112.3 93.6h.9M119.5 86.9h.9M122.1 92.8h.9M112.6 93.9h.9M129.3 94.6h.9M129.4 96.5h.9M124.4 96.8h.9M118.0 83.9h.9M135.4 95.9h.9M119.6 95.6h.9M125.6 88.7h.9M115.6 85.2h.9M130.2 97.1h.9M128.7 97.2h.9M124.0 90.9h.9M118.1 93.9h.9M123.6 82.6h.9M126.8 86.8h.9M122.5 89.1h.9M120.2 101.9h.9M126.5 95.0h.9M115.1 85.3h.9M115.5 95.4h.9M130.1 97.9h.9M127.0 88.0h.9M118.8 95.0h.9M125.3 85.2h.9M108.7 90.3h.9M119.3 84.2h.9M125.5 89.6h.9M117.0 93.1h.9M118.2 89.4h.9M110.6 90.9h.9M112.1 86.9h.9M117.2 102.1h.9M114.1 92.3h.9M125.3 88.4h.9M140.0 86.8h.9M135.5 85.8h.9M108.7 93.1h.9M128.1 89.7h.9M129.1 88.7h.9M112.1 88.3h.9M117.9 86.2h.9M128.8 79.0h.9M122.6 91.3h.9M117.1 88.5h.9M135.2 87.2h.9M114.6 88.8h.9M117.0 89.8h.9M131.9 89.9h.9M127.2 86.1h.9M132.9 91.7h.9M122.7 93.3h.9M120.5 92.0h.9M126.6 95.8h.9M130.3 90.0h.9M118.4 90.1h.9M121.5 88.7h.9M114.4 93.7h.9M114.6 93.6h.9M122.0 92.1h.9M130.9 85.6h.9M127.1 91.6h.9M127.7 88.9h.9M121.7 93.3h.9M124.2 86.4h.9M132.1 86.6h.9M123.1 85.4h.9M124.6 85.4h.9M122.0 90.4h.9M131.2 87.0h.9M114.2 86.7h.9M118.4 94.1h.9M135.4 77.0h.9M130.7 87.7h.9M128.7 80.5h.9M128.2 88.1h.9M119.6 86.7h.9M126.4 89.3h.9M118.9 82.0h.9M128.9 85.0h.9M122.2 87.7h.9M123.0 98.8h.9M120.4 90.0h.9M130.2 85.4h.9M124.2 93.7h.9M130.5 84.6h.9M126.2 88.7h.9M117.2 90.0h.9M122.7 80.6h.9M122.0 80.5h.9M119.1 86.1h.9M127.1 83.6h.9M125.6 83.1h.9M124.2 88.9h.9M128.9 89.0h.9M126.9 87.5h.9M132.3 85.4h.9M126.0 89.5h.9M117.6 86.4h.9M115.8 87.4h.9M124.0 87.3h.9M126.1 86.1h.9M116.6 88.2h.9M124.5 80.4h.9M119.2 89.1h.9M118.3 89.5h.9M129.0 86.5h.9M121.9 82.1h.9M120.5 87.9h.9M124.6 84.1h.9M127.5 84.8h.9M118.7 92.6h.9M113.1 117.0h.9M115.0 119.3h.9M121.3 127.7h.9M120.6 125.0h.9M121.2 127.0h.9M119.7 129.1h.9M126.8 124.4h.9M121.7 112.8h.9M119.7 120.3h.9M117.9 123.1h.9M123.6 129.6h.9M120.2 136.8h.9M121.1 132.8h.9M119.6 136.1h.9M119.2 125.0h.9M124.2 113.7h.9M117.7 125.8h.9M115.0 133.7h.9M116.8 126.7h.9M115.6 127.0h.9M118.0 124.1h.9M121.4 125.1h.9M116.4 132.3h.9M122.2 130.1h.9M116.9 126.4h.9M116.4 129.1h.9M120.8 131.6h.9M115.3 131.8h.9M116.6 122.2h.9M123.0 123.5h.9M122.4 116.2h.9M123.0 129.6h.9M111.9 132.5h.9M117.7 127.3h.9M114.4 113.5h.9M122.7 124.4h.9M114.4 128.7h.9M117.6 130.5h.9M116.6 117.9h.9M114.1 127.3h.9M119.3 129.8h.9M115.2 120.0h.9M116.6 126.8h.9M114.6 120.9h.9M118.1 131.2h.9M116.8 127.5h.9M117.6 127.9h.9M118.6 128.0h.9M114.5 124.4h.9M119.8 128.0h.9M118.1 125.0h.9M117.6 134.2h.9M121.7 128.1h.9M118.2 135.8h.9M117.7 123.5h.9M117.6 131.4h.9M117.8 127.7h.9M120.3 131.0h.9M119.4 127.9h.9M119.6 125.4h.9M117.5 125.0h.9M116.6 126.9h.9M118.3 134.7h.9M123.4 130.7h.9M125.5 127.6h.9M118.4 131.6h.9M114.5 127.8h.9M118.5 125.3h.9M110.9 121.9h.9M122.2 124.9h.9M111.1 117.0h.9M101.9 108.7h.9M113.8 116.6h.9M110.1 125.6h.9M102.8 100.9h.9M112.5 108.0h.9M110.8 88.0h.9M112.0 106.5h.9M105.4 116.5h.9M107.6 102.8h.9M105.3 106.2h.9M98.7 121.6h.9M111.0 118.7h.9M103.3 102.3h.9M119.4 100.9h.9M98.4 133.7h.9M105.3 125.2h.9M110.0 106.0h.9M117.3 130.9h.9M103.9 119.7h.9M105.2 116.8h.9M105.4 84.9h.9M99.6 89.9h.9M115.6 115.9h.9M110.6 98.4h.9M99.9 101.0h.9M110.0 82.8h.9M109.3 113.7h.9M112.5 96.5h.9M100.3 98.5h.9M101.4 126.6h.9M108.5 105.0h.9M111.7 87.7h.9M113.0 122.9h.9M106.6 108.4h.9M100.6 108.2h.9M100.8 121.5h.9M112.1 110.7h.9M97.5 113.2h.9M107.4 128.4h.9M104.1 118.1h.9M100.4 118.6h.9M101.0 92.0h.9M107.0 121.0h.9M102.9 93.1h.9M120.8 101.6h.9M97.7 111.1h.9M96.6 100.3h.9M109.3 106.7h.9M100.6 116.1h.9M108.2 120.5h.9M99.9 91.1h.9M104.6 101.4h.9M103.7 122.9h.9M109.2 122.3h.9M108.1 122.6h.9M105.2 118.5h.9M104.3 101.4h.9M102.5 105.6h.9M106.0 101.7h.9M117.1 110.7h.9M107.3 115.0h.9M110.9 107.7h.9M110.2 93.6h.9M97.5 94.8h.9M104.2 111.1h.9M112.5 105.9h.9M105.0 116.8h.9M106.5 100.4h.9M108.3 104.9h.9M108.4 105.0h.9M110.3 111.7h.9M108.2 121.1h.9M130.0 72.5h.9M133.6 65.5h.9M132.5 64.4h.9M120.4 59.7h.9M140.0 63.7h.9M128.1 60.3h.9M130.7 78.9h.9M130.8 76.6h.9M126.4 77.9h.9M126.7 71.9h.9M134.2 72.1h.9M138.6 71.1h.9M132.2 63.6h.9M129.4 62.8h.9M124.2 63.6h.9M131.9 71.6h.9M131.2 56.1h.9M141.1 59.0h.9M123.4 77.3h.9M124.4 75.3h.9M132.6 66.4h.9M137.3 66.2h.9M127.8 75.1h.9M132.3 71.2h.9M132.7 69.0h.9M125.8 79.1h.9M130.1 73.2h.9M128.8 56.1h.9M122.9 67.3h.9M135.7 77.7h.9M132.5 73.3h.9M137.7 65.1h.9M122.8 74.4h.9M129.5 59.7h.9M131.1 73.5h.9M137.0 69.2h.9M134.7 80.5h.9M127.6 76.9h.9M134.1 72.9h.9M127.7 72.3h.9M127.0 68.9h.9M121.2 65.7h.9M123.3 78.0h.9M127.3 83.0h.9M139.0 69.5h.9M131.7 85.3h.9M125.8 63.8h.9M129.5 66.2h.9M125.5 54.8h.9M134.5 65.8h.9M123.0 62.1h.9M137.5 86.4h.9M132.6 74.7h.9M136.3 69.0h.9M131.7 59.9h.9M124.7 64.6h.9M127.9 71.4h.9M134.2 76.7h.9M131.9 69.8h.9M127.9 75.6h.9M133.9 72.2h.9M130.3 63.1h.9M122.1 66.9h.9M131.3 59.5h.9M128.9 71.4h.9M126.8 57.3h.9M134.6 80.9h.9M133.1 76.3h.9M132.7 67.0h.9M133.3 71.9h.9M131.6 70.9h.9M124.1 68.5h.9M124.5 76.1h.9M133.5 76.5h.9M128.0 70.3h.9M127.2 66.3h.9M130.7 76.7h.9M124.5 74.5h.9M128.8 82.7h.9M133.3 58.7h.9M123.1 55.9h.9M129.4 73.9h.9M129.9 69.9h.9M121.4 81.7h.9M127.4 74.4h.9M124.6 85.9h.9M127.3 73.2h.9M124.3 65.6h.9M129.8 64.8h.9M121.7 69.4h.9M131.9 81.8h.9M128.5 66.5h.9M132.8 74.1h.9M129.0 67.6h.9M128.0 83.0h.9M134.3 61.7h.9M127.6 56.8h.9M128.4 79.0h.9M127.1 66.0h.9M124.9 77.8h.9M131.8 72.4h.9M129.2 68.5h.9M128.5 74.7h.9M130.7 72.6h.9M130.9 70.0h.9M124.9 74.7h.9M134.4 63.0h.9M124.0 54.1h.9M124.7 60.7h.9M128.2 58.4h.9M126.9 54.6h.9M128.7 60.1h.9M131.8 58.5h.9M123.5 56.7h.9M127.8 52.8h.9M132.2 50.5h.9M127.3 54.9h.9M131.3 59.1h.9M127.7 47.7h.9M124.5 58.7h.9M133.2 59.7h.9M131.6 50.8h.9M135.0 57.6h.9M133.2 51.2h.9M126.5 51.5h.9M122.9 52.7h.9M106.1 55.7h.9M113.5 77.2h.9M122.7 61.0h.9M111.0 63.6h.9M121.6 71.4h.9M114.4 63.7h.9M117.0 74.9h.9M123.7 82.8h.9M107.6 67.4h.9M121.1 72.5h.9M111.7 65.1h.9M113.7 74.8h.9M121.9 79.7h.9M116.0 52.2h.9M106.6 67.3h.9M112.1 75.1h.9M115.7 62.2h.9M122.5 73.8h.9M112.2 69.9h.9M103.3 64.9h.9M118.4 74.7h.9M125.2 59.0h.9M128.2 62.3h.9M117.3 56.8h.9M127.6 55.7h.9M141.5 48.5h.9M136.6 47.7h.9M122.8 53.1h.9M119.2 67.3h.9M97.1 75.2h.9M118.7 73.7h.9M136.2 73.9h.9M96.8 68.6h.9M127.0 74.3h.9M124.2 64.8h.9M98.8 48.2h.9M107.2 75.0h.9M131.6 49.0h.9M125.7 49.8h.9M136.1 75.8h.9M95.3 49.2h.9M109.8 77.8h.9M98.6 75.3h.9M109.9 84.0h.9M107.4 85.4h.9M97.3 111.1h.9M139.5 116.8h.9M116.7 134.4h.9M101.5 106.1h.9M113.0 97.3h.9M109.8 123.2h.9M141.1 134.9h.9M105.2 85.6h.9M130.5 99.6h.9M114.0 95.6h.9M124.1 86.0h.9M109.0 101.6h.9M139.1 130.3h.9M123.9 114.9h.9M129.5 118.3h.9M128.1 115.9h.9M132.9 123.6h.9M99.6 87.2h.9M101.4 116.6h.9M142.0 87.6h.9M127.4 129.0h.9M107.8 100.5h.9M93.4 126.2h.9" stroke="#000" stroke-width=".9" opacity="0.8"/>
<path d="M82.5 61.5h1.1M88.1 67.7h1.1M90.2 122.9h1.1M88.2 117.0h1.1M87.4 52.3h1.1M72.8 58.3h1.1M83.5 96.3h1.1M75.8 61.8h1.1M70.6 82.4h1.1M70.9 78.1h1.1M83.5 100.3h1.1M77.0 84.6h1.1M76.3 50.4h1.1M79.4 98.8h1.1M87.9 103.6h1.1M77.0 82.6h1.1M71.2 80.7h1.1M82.8 97.6h1.1M63.5 114.6h1.1M81.1 91.4h1.1M89.3 99.7h1.1M82.5 86.9h1.1M86.3 79.6h1.1M84.0 67.8h1.1M85.8 93.6h1.1M81.2 81.4h1.1M73.4 82.6h1.1M78.2 108.5h1.1M79.4 98.7h1.1M90.1 107.1h1.1M83.4 100.3h1.1M74.0 75.0h1.1M74.2 70.2h1.1M78.5 69.3h1.1M91.1 114.7h1.1M82.7 106.2h1.1M79.6 72.2h1.1M73.9 63.0h1.1M87.1 88.3h1.1M82.3 77.9h1.1M79.6 124.5h1.1M80.8 55.9h1.1M78.7 82.4h1.1M89.9 90.9h1.1M80.4 104.6h1.1M87.1 133.6h1.1M79.0 80.5h1.1M73.4 76.0h1.1M77.9 49.3h1.1M72.7 93.4h1.1M84.1 106.8h1.1M80.1 82.3h1.1M84.5 114.0h1.1M86.6 88.7h1.1M55.0 121.3h1.1M82.5 95.3h1.1M65.6 64.7h1.1M81.3 74.0h1.1M73.0 54.3h1.1M80.8 49.8h1.1M90.9 93.9h1.1M66.3 107.1h1.1M81.5 131.0h1.1M79.4 86.8h1.1M64.9 82.8h1.1M85.2 63.6h1.1M80.3 109.7h1.1M75.9 96.6h1.1M74.2 74.9h1.1M76.8 100.3h1.1M65.6 46.9h1.1M72.6 104.3h1.1M77.1 91.0h1.1M76.9 79.4h1.1M79.4 78.8h1.1M71.6 126.5h1.1M84.3 121.8h1.1M76.1 128.2h1.1M69.1 62.7h1.1M73.5 73.6h1.1M76.9 107.9h1.1M86.8 61.4h1.1M83.9 72.2h1.1M77.3 48.3h1.1M80.2 128.8h1.1M81.7 111.4h1.1M75.1 92.8h1.1M83.7 78.8h1.1M85.8 79.2h1.1M72.4 101.5h1.1M81.5 72.3h1.1M81.3 115.0h1.1M76.2 77.2h1.1M84.5 68.8h1.1M88.2 116.6h1.1M89.0 84.8h1.1M78.5 100.2h1.1M81.5 78.9h1.1M71.2 100.0h1.1M81.8 58.4h1.1M87.1 111.8h1.1M81.2 53.9h1.1M85.2 47.0h1.1M81.4 94.8h1.1M86.0 97.4h1.1M90.3 90.3h1.1M78.2 61.3h1.1M81.6 107.5h1.1M79.6 55.8h1.1M76.8 77.8h1.1M79.8 70.7h1.1M70.9 79.7h1.1M86.0 106.8h1.1M90.2 103.3h1.1M72.3 50.4h1.1M74.3 79.6h1.1M79.6 75.0h1.1M86.7 103.9h1.1M82.3 104.4h1.1M78.8 84.3h1.1M73.0 57.6h1.1M83.4 88.1h1.1M76.3 76.2h1.1M88.4 100.5h1.1M89.8 86.1h1.1M69.0 104.0h1.1M76.0 78.5h1.1M77.4 119.7h1.1M71.1 65.6h1.1M80.7 98.8h1.1M78.3 54.8h1.1M66.8 104.2h1.1M75.7 61.2h1.1M84.2 90.1h1.1M90.8 97.0h1.1M90.6 97.9h1.1M90.6 93.5h1.1M87.7 128.9h1.1M82.5 101.0h1.1M63.0 74.4h1.1M67.0 106.7h1.1M74.9 76.6h1.1M88.6 97.0h1.1M61.0 55.9h1.1M68.2 97.8h1.1M53.5 90.1h1.1M61.0 98.0h1.1M84.2 98.5h1.1M78.7 113.4h1.1M70.5 59.0h1.1M67.8 114.6h1.1M61.9 103.1h1.1M82.4 109.0h1.1M71.0 83.0h1.1M53.9 54.7h1.1M76.7 130.0h1.1M54.0 134.8h1.1M55.1 126.6h1.1M63.6 125.4h1.1M91.0 96.5h1.1M90.9 128.0h1.1M58.6 120.3h1.1M80.5 56.2h1.1M76.1 59.0h1.1M67.3 83.7h1.1M83.1 95.0h1.1M77.0 105.7h1.1M60.2 97.8h1.1M71.1 125.8h1.1M80.1 119.1h1.1M76.5 56.2h1.1M73.3 77.5h1.1M81.2 126.9h1.1M56.5 115.0h1.1M52.8 48.4h1.1M52.3 103.4h1.1M76.4 58.4h1.1M68.8 92.3h1.1M85.3 136.5h1.1M90.8 53.8h1.1M55.6 121.1h1.1M66.5 90.5h1.1M68.2 135.1h1.1M73.4 124.4h1.1" stroke="#000" stroke-width="1.1" opacity="0.22"/>
<path d="M241.8 55.7h.9M245.1 67.6h.9M244.5 63.5h.9M249.6 58.8h.9M245.0 59.5h.9M247.3 52.9h.9M246.5 58.6h.9M250.6 57.7h.9M238.8 56.8h.9M243.5 53.5h.9M247.1 57.4h.9M245.2 66.8h.9M249.1 53.7h.9M247.9 57.4h.9M247.6 58.0h.9M244.5 57.9h.9M245.7 49.8h.9M246.6 51.9h.9M250.8 56.4h.9M249.5 57.0h.9M249.5 56.3h.9M248.1 58.9h.9M245.6 61.4h.9M245.3 63.3h.9M247.1 54.4h.9M242.1 57.0h.9M247.5 60.0h.9M248.0 57.6h.9M247.1 53.9h.9M245.2 52.2h.9M252.1 49.5h.9M245.0 57.6h.9M245.8 51.7h.9M253.8 55.2h.9M245.9 58.3h.9M242.4 59.3h.9M251.4 52.5h.9M248.4 59.1h.9M245.5 56.7h.9M246.0 62.8h.9M243.4 56.3h.9M243.7 61.0h.9M244.3 56.2h.9M249.6 58.2h.9M248.7 66.5h.9M251.1 50.6h.9M244.4 51.2h.9M249.8 58.8h.9M251.9 52.0h.9M242.5 51.7h.9M246.3 59.9h.9M247.4 54.8h.9M243.9 58.5h.9M251.1 60.9h.9M248.6 51.4h.9M252.4 57.7h.9M246.6 50.8h.9M245.4 60.4h.9M251.1 59.2h.9M250.5 60.7h.9M250.3 57.4h.9M246.0 49.4h.9M240.9 56.8h.9M244.9 55.9h.9M243.1 59.8h.9M244.8 49.8h.9M246.4 58.5h.9M252.2 62.6h.9M242.8 59.5h.9M245.7 61.8h.9M246.2 63.9h.9M245.3 54.7h.9M252.6 60.0h.9M237.7 60.3h.9M247.6 59.3h.9M244.8 64.5h.9M237.3 60.2h.9M242.5 54.8h.9M242.2 60.5h.9M247.0 64.1h.9M236.2 57.0h.9M242.2 62.2h.9M243.2 61.9h.9M248.8 58.9h.9M243.2 64.7h.9M243.7 68.6h.9M239.8 59.3h.9M242.1 67.4h.9M248.4 66.9h.9M244.6 59.3h.9M238.3 66.5h.9M243.8 61.8h.9M240.1 57.9h.9M243.9 63.8h.9M243.2 68.7h.9M239.6 66.8h.9M240.7 53.5h.9M240.3 64.8h.9M241.6 64.7h.9M238.2 62.0h.9M230.2 80.1h.9M232.7 81.0h.9M237.9 76.6h.9M231.2 79.0h.9M225.1 82.9h.9M231.4 88.3h.9M233.5 87.2h.9M240.8 78.6h.9M236.1 81.5h.9M237.5 89.5h.9M237.7 89.7h.9M229.1 70.7h.9M233.1 82.1h.9M227.1 83.0h.9M235.8 88.0h.9M237.9 85.2h.9M236.9 81.7h.9M232.0 95.6h.9M235.9 83.2h.9M233.9 81.2h.9M234.6 88.1h.9M227.7 92.2h.9M235.8 84.4h.9M229.0 90.3h.9M235.2 85.4h.9M229.1 88.0h.9M235.8 89.9h.9M235.2 70.7h.9M233.3 88.0h.9M232.2 87.4h.9M235.9 75.6h.9M234.2 88.0h.9M237.1 81.4h.9M238.5 80.9h.9M239.4 87.7h.9M237.0 79.0h.9M236.4 85.2h.9M236.6 89.4h.9M232.9 88.0h.9M234.0 90.2h.9M237.9 79.6h.9M234.5 75.7h.9M235.4 78.0h.9M235.3 67.8h.9M236.4 85.1h.9M239.6 92.7h.9M235.4 88.4h.9M238.4 87.8h.9M241.0 85.4h.9M230.6 80.2h.9M233.8 80.4h.9M240.6 86.8h.9M237.3 79.7h.9M235.2 85.0h.9M238.0 77.5h.9M236.6 81.2h.9M236.9 82.4h.9M238.1 78.9h.9M240.9 88.9h.9M231.8 89.5h.9M239.0 87.0h.9M232.2 80.4h.9M237.2 88.4h.9M237.9 87.5h.9M238.5 83.3h.9M235.3 86.6h.9M238.1 80.6h.9M234.1 86.1h.9M234.1 83.8h.9M235.8 86.5h.9M244.4 89.9h.9M232.2 84.3h.9M236.3 89.2h.9M228.3 89.7h.9M233.8 80.0h.9M232.6 83.0h.9M238.6 83.1h.9M232.2 84.4h.9M235.6 82.9h.9M237.7 79.8h.9M238.7 89.6h.9M234.2 80.5h.9M237.4 83.0h.9M236.3 81.3h.9M233.1 80.3h.9M236.8 80.4h.9M232.5 80.1h.9M232.3 89.1h.9M243.2 86.8h.9M239.2 82.6h.9M229.1 82.9h.9M237.1 92.5h.9M235.8 81.5h.9M234.9 87.2h.9M235.2 87.7h.9M235.7 90.8h.9M237.7 85.7h.9M233.9 83.5h.9M229.7 94.4h.9M238.1 82.5h.9M241.7 83.6h.9M237.0 81.2h.9M232.9 78.1h.9M238.7 87.6h.9M237.8 87.8h.9M235.8 84.7h.9M231.3 81.9h.9M228.9 86.1h.9M236.3 86.3h.9M234.9 90.8h.9M234.7 85.6h.9M241.0 80.1h.9M236.3 96.0h.9M243.5 83.7h.9M239.0 89.9h.9M231.6 80.8h.9M237.2 81.3h.9M232.7 80.2h.9M244.1 80.7h.9M236.2 77.0h.9M232.4 84.0h.9M231.1 79.1h.9M240.9 79.8h.9M238.3 93.1h.9M237.9 85.2h.9M234.9 82.9h.9M230.1 87.9h.9M233.6 84.0h.9M236.7 79.0h.9M232.9 81.1h.9M236.5 86.1h.9M238.5 89.6h.9M237.6 81.9h.9M241.1 81.5h.9M230.3 86.9h.9M233.3 80.0h.9M231.4 83.6h.9M233.2 85.1h.9M229.6 82.7h.9M239.2 80.2h.9M239.2 81.0h.9M234.5 84.6h.9M231.6 85.8h.9M240.9 88.8h.9M232.3 82.4h.9M237.9 80.0h.9M230.9 86.7h.9M233.5 82.6h.9M238.3 89.2h.9M236.3 81.5h.9M244.2 81.6h.9M235.2 87.5h.9M238.5 80.5h.9M236.6 78.6h.9M233.8 83.1h.9M232.3 70.4h.9M239.7 85.1h.9M242.8 87.8h.9M230.9 78.4h.9M232.7 97.9h.9M231.5 91.6h.9M233.7 93.3h.9M232.6 94.1h.9M218.9 80.1h.9M236.2 88.0h.9M227.5 89.4h.9M233.2 97.6h.9M230.5 88.5h.9M237.8 98.0h.9M226.9 85.7h.9M226.2 97.3h.9M229.7 86.9h.9M226.0 88.8h.9M223.1 92.3h.9M233.8 92.5h.9M218.2 91.1h.9M231.0 91.2h.9M231.9 91.0h.9M234.8 92.1h.9M221.7 77.5h.9M242.9 100.7h.9M235.9 82.9h.9M224.4 93.5h.9M221.9 95.4h.9M232.0 90.4h.9M227.3 82.0h.9M216.2 85.5h.9M241.1 95.8h.9M224.6 102.6h.9M231.6 81.5h.9M227.4 84.1h.9M232.6 90.5h.9M227.7 95.8h.9M229.0 94.7h.9M229.6 103.7h.9M225.2 112.4h.9M231.0 109.3h.9M222.7 115.4h.9M237.0 101.0h.9M234.0 89.1h.9M233.9 100.5h.9M235.7 89.4h.9M230.6 113.5h.9M231.0 105.1h.9M229.9 113.8h.9M232.5 98.3h.9M233.8 87.6h.9M239.3 104.0h.9M229.6 116.6h.9M239.2 92.1h.9M228.1 112.5h.9M231.7 74.0h.9M220.3 99.3h.9M234.0 108.9h.9M236.3 98.9h.9M234.0 116.9h.9M227.5 97.9h.9M243.2 109.3h.9M238.5 105.8h.9M235.8 102.8h.9M231.0 95.7h.9M224.2 130.2h.9M234.0 99.4h.9M232.8 115.3h.9M235.9 93.4h.9M233.3 89.0h.9M225.9 96.5h.9M235.3 108.9h.9M227.5 102.0h.9M221.4 108.6h.9M232.1 105.9h.9M241.6 90.8h.9M224.5 103.7h.9M233.6 105.3h.9M234.9 104.9h.9M235.1 99.9h.9M239.0 97.6h.9M227.6 113.7h.9M245.0 96.6h.9M237.3 99.5h.9M236.8 89.8h.9M230.7 100.6h.9M243.4 85.1h.9M232.4 112.9h.9M244.6 67.3h.9M228.7 119.6h.9M236.6 125.1h.9M230.6 107.2h.9M231.2 88.7h.9M222.6 103.7h.9M235.5 112.6h.9M217.1 111.3h.9M230.7 115.4h.9M225.2 96.8h.9M243.7 99.1h.9M229.5 110.8h.9M227.6 104.1h.9M231.2 104.7h.9M242.6 97.1h.9M233.6 95.3h.9M235.6 104.8h.9M232.4 99.8h.9M225.6 105.7h.9M232.6 85.4h.9M226.5 91.1h.9M243.6 95.8h.9M234.8 110.9h.9M236.2 97.1h.9M229.5 87.4h.9M233.0 99.9h.9M230.5 92.4h.9M223.9 110.6h.9M236.1 102.4h.9M235.6 93.8h.9M235.0 85.8h.9M229.6 109.4h.9M241.7 101.7h.9M231.0 111.6h.9M221.5 107.3h.9M229.5 100.5h.9M238.2 87.5h.9M231.9 95.4h.9M231.1 103.3h.9M235.9 113.0h.9M238.4 104.3h.9M233.1 89.5h.9M234.1 97.2h.9M225.8 100.7h.9M239.8 111.0h.9M238.6 88.4h.9M219.0 104.3h.9M231.4 100.0h.9M230.3 103.1h.9M236.7 99.5h.9M252.1 93.7h.9M234.7 92.6h.9M235.9 97.8h.9M228.9 109.8h.9M241.2 111.6h.9M223.8 86.2h.9M226.7 86.6h.9M226.6 101.4h.9M238.5 92.8h.9M229.7 101.1h.9M245.4 126.2h.9M239.2 110.7h.9M225.0 106.0h.9M230.6 91.9h.9M226.1 96.4h.9M236.4 99.1h.9M232.4 111.0h.9M230.9 93.2h.9M230.4 100.8h.9M229.1 98.5h.9M236.7 101.9h.9M232.5 109.1h.9M233.8 110.5h.9M230.5 90.1h.9M232.7 102.5h.9M234.5 101.5h.9M230.2 107.9h.9M231.9 126.8h.9M239.7 106.8h.9M232.4 113.6h.9M229.0 115.6h.9M232.3 125.7h.9M235.8 122.1h.9M239.6 113.7h.9M241.1 120.9h.9M242.0 115.4h.9M236.7 122.9h.9M242.7 118.6h.9M230.1 122.8h.9M240.4 119.7h.9M236.6 119.6h.9M237.8 119.6h.9M236.0 130.8h.9M240.6 123.5h.9M232.0 127.0h.9M227.5 117.2h.9M245.5 109.1h.9M238.5 121.1h.9M239.3 116.4h.9M231.9 111.9h.9M228.0 122.1h.9M237.9 131.3h.9M234.8 114.9h.9M235.3 128.0h.9M227.3 114.3h.9M229.9 127.6h.9M245.3 125.1h.9M238.3 132.4h.9M242.9 104.8h.9M222.4 112.5h.9M224.8 122.1h.9M231.0 113.5h.9M237.6 131.4h.9M237.7 124.7h.9M237.5 113.3h.9M240.2 114.3h.9M240.7 127.8h.9M230.0 108.6h.9M235.8 124.0h.9M235.7 118.6h.9M231.4 119.5h.9M232.3 128.5h.9M249.1 51.2h.9M232.7 103.9h.9M236.0 136.3h.9M208.7 88.2h.9M219.4 66.2h.9M216.2 94.6h.9M257.2 99.5h.9M245.3 108.8h.9M246.3 75.5h.9M223.8 70.2h.9M219.4 101.1h.9M234.4 125.5h.9M226.0 132.3h.9M246.2 125.9h.9M231.3 93.4h.9M254.0 117.6h.9M213.8 106.2h.9M230.7 49.2h.9M208.7 126.2h.9M208.5 88.5h.9M212.8 101.7h.9M210.8 68.2h.9" stroke="#000" stroke-width=".9" opacity="0.35"/>
<path d="M248.5 55.8h.9M245.0 55.7h.9M247.5 57.3h.9M240.0 52.6h.9M246.1 47.1h.9M242.6 49.9h.9M245.6 51.4h.9M250.3 50.8h.9M250.3 55.0h.9M246.0 50.8h.9M247.7 58.4h.9M249.5 63.7h.9M253.3 61.1h.9M249.9 52.7h.9M248.0 55.8h.9M239.7 58.5h.9M254.4 54.5h.9M255.2 68.3h.9M249.1 55.6h.9M243.0 63.5h.9M245.7 51.0h.9M251.9 54.0h.9M242.4 53.4h.9M246.3 52.5h.9M254.8 54.0h.9M244.5 56.0h.9M241.3 57.8h.9M248.2 52.8h.9M245.0 61.5h.9M246.3 54.2h.9M242.7 49.3h.9M250.2 63.1h.9M254.0 53.4h.9M242.5 60.4h.9M251.7 50.5h.9M247.3 48.2h.9M245.8 54.7h.9M243.6 49.6h.9M247.3 49.0h.9M248.7 52.3h.9M249.1 65.7h.9M249.7 61.7h.9M250.8 60.2h.9M248.4 65.9h.9M252.6 51.3h.9M246.3 54.8h.9M245.3 51.9h.9M255.3 53.6h.9M248.5 60.0h.9M245.3 62.3h.9M244.6 53.2h.9M248.2 58.9h.9M246.4 50.2h.9M248.4 56.4h.9M246.0 62.9h.9M248.7 62.7h.9M248.2 61.2h.9M244.5 62.2h.9M246.5 57.9h.9M250.5 53.9h.9M250.5 59.4h.9M247.1 50.6h.9M246.0 55.0h.9M245.6 47.9h.9M246.2 52.2h.9M247.8 51.7h.9M245.8 61.0h.9M241.9 67.2h.9M241.1 58.9h.9M245.8 59.2h.9M247.6 69.1h.9M247.3 62.4h.9M240.7 69.4h.9M236.5 60.2h.9M241.9 63.8h.9M236.8 56.3h.9M244.0 60.7h.9M237.8 66.1h.9M237.9 57.6h.9M238.0 56.7h.9M241.4 60.3h.9M235.6 80.9h.9M237.8 77.2h.9M240.9 82.3h.9M229.8 82.6h.9M239.1 75.5h.9M240.3 78.4h.9M235.1 86.0h.9M236.9 80.6h.9M236.9 79.0h.9M240.0 85.7h.9M239.2 80.0h.9M239.4 84.7h.9M229.0 78.2h.9M237.6 87.3h.9M236.6 77.5h.9M234.3 85.8h.9M240.3 82.5h.9M231.8 80.8h.9M234.4 83.4h.9M236.7 83.5h.9M234.1 77.5h.9M236.2 81.7h.9M235.0 87.7h.9M240.6 84.4h.9M239.7 82.8h.9M235.9 88.2h.9M238.1 81.7h.9M230.6 79.0h.9M231.5 85.5h.9M236.1 81.0h.9M235.6 78.8h.9M233.9 89.0h.9M237.7 83.9h.9M235.5 79.4h.9M229.2 82.4h.9M232.0 77.0h.9M231.8 94.8h.9M242.5 75.8h.9M237.2 80.7h.9M230.5 85.6h.9M236.9 76.8h.9M234.8 86.4h.9M234.4 80.7h.9M226.6 87.0h.9M235.1 85.5h.9M236.5 85.0h.9M236.8 92.1h.9M237.5 89.1h.9M235.8 79.6h.9M226.5 82.5h.9M242.7 80.8h.9M232.4 80.7h.9M235.9 83.5h.9M238.0 88.0h.9M231.3 87.5h.9M237.0 85.3h.9M241.6 81.2h.9M241.6 82.5h.9M235.5 79.4h.9M238.6 92.8h.9M233.4 86.1h.9M232.5 89.1h.9M234.1 87.2h.9M236.9 82.1h.9M237.5 72.6h.9M230.8 88.5h.9M233.3 88.0h.9M247.0 78.5h.9M234.6 85.5h.9M236.0 88.9h.9M232.6 91.2h.9M233.6 86.1h.9M239.2 77.0h.9M230.9 89.4h.9M231.8 77.8h.9M238.4 87.6h.9M228.4 84.3h.9M234.0 84.4h.9M232.0 88.6h.9M236.4 88.2h.9M233.3 76.2h.9M234.8 87.2h.9M232.6 76.3h.9M231.9 87.5h.9M233.3 91.5h.9M240.8 86.3h.9M242.8 86.8h.9M235.8 87.0h.9M233.8 82.7h.9M238.0 87.1h.9M241.7 85.3h.9M239.7 80.8h.9M235.7 80.4h.9M230.2 78.7h.9M237.6 79.2h.9M230.7 89.7h.9M239.1 77.4h.9M233.5 82.8h.9M232.8 83.6h.9M241.8 94.3h.9M239.5 72.7h.9M236.4 89.1h.9M232.5 84.7h.9M236.9 81.2h.9M236.3 73.4h.9M240.0 83.8h.9M235.2 80.6h.9M233.4 82.4h.9M232.4 86.4h.9M237.3 92.4h.9M233.6 81.5h.9M237.6 91.2h.9M235.2 83.2h.9M238.4 81.7h.9M230.9 81.2h.9M237.1 82.9h.9M237.4 85.0h.9M242.3 82.0h.9M236.4 86.7h.9M233.9 86.0h.9M233.8 79.6h.9M233.5 83.0h.9M236.7 79.6h.9M239.6 78.7h.9M236.5 80.2h.9M227.4 80.8h.9M236.4 78.9h.9M231.2 90.1h.9M232.8 83.7h.9M235.9 88.2h.9M231.0 88.4h.9M228.8 84.6h.9M232.3 79.4h.9M235.9 83.3h.9M236.6 85.8h.9M233.5 82.5h.9M238.9 81.7h.9M235.3 82.6h.9M232.7 87.7h.9M235.9 83.8h.9M239.5 80.3h.9M240.8 82.1h.9M242.2 87.8h.9M242.6 77.2h.9M232.2 99.2h.9M234.2 83.9h.9M236.0 84.5h.9M241.0 86.4h.9M235.5 80.6h.9M234.1 71.4h.9M235.3 87.9h.9M235.3 86.5h.9M238.4 85.7h.9M233.1 77.8h.9M234.4 93.3h.9M241.3 81.1h.9M237.8 82.9h.9M228.7 87.9h.9M235.9 74.5h.9M232.9 80.6h.9M229.1 83.7h.9M234.1 85.4h.9M238.9 84.9h.9M231.6 94.2h.9M243.8 91.9h.9M237.4 95.7h.9M229.6 102.5h.9M226.3 92.9h.9M230.6 92.6h.9M236.1 89.2h.9M239.5 96.5h.9M234.0 88.1h.9M227.0 87.4h.9M233.3 96.6h.9M235.3 91.3h.9M233.7 94.7h.9M239.3 107.6h.9M239.7 101.8h.9M223.0 96.2h.9M229.2 83.6h.9M225.5 87.4h.9M233.3 100.1h.9M226.6 98.6h.9M232.2 97.1h.9M229.8 88.2h.9M228.6 93.3h.9M236.9 99.7h.9M230.3 94.7h.9M237.1 98.7h.9M235.2 87.4h.9M224.7 97.0h.9M226.7 97.2h.9M223.6 86.7h.9M229.0 99.5h.9M225.7 93.3h.9M233.3 95.5h.9M230.0 86.9h.9M236.4 90.1h.9M224.8 91.0h.9M222.6 98.1h.9M227.3 90.1h.9M221.6 94.1h.9M237.1 94.6h.9M229.3 95.8h.9M233.5 96.8h.9M236.8 104.8h.9M225.7 80.8h.9M233.7 114.9h.9M236.8 108.1h.9M238.6 100.6h.9M232.1 112.6h.9M237.1 116.1h.9M232.9 107.0h.9M231.2 89.8h.9M234.0 104.1h.9M232.3 99.7h.9M232.2 116.5h.9M219.7 99.1h.9M232.7 106.1h.9M230.7 107.9h.9M230.5 98.3h.9M230.6 109.8h.9M230.3 108.3h.9M230.7 101.4h.9M234.6 99.0h.9M229.2 106.6h.9M224.6 116.5h.9M228.5 110.2h.9M230.2 88.0h.9M232.5 97.7h.9M238.0 114.6h.9M239.5 85.1h.9M220.0 94.9h.9M236.6 122.1h.9M236.8 83.1h.9M238.2 87.8h.9M230.8 110.1h.9M223.5 103.8h.9M229.3 102.8h.9M232.3 105.9h.9M233.8 110.4h.9M225.3 100.4h.9M236.4 89.5h.9M225.8 115.7h.9M239.2 100.6h.9M231.2 115.9h.9M230.5 88.1h.9M243.4 88.5h.9M240.4 102.3h.9M228.4 116.8h.9M232.1 97.1h.9M233.7 118.0h.9M226.2 116.3h.9M224.5 99.4h.9M241.7 95.0h.9M240.3 102.6h.9M234.6 99.1h.9M230.2 99.8h.9M229.4 95.8h.9M233.6 100.3h.9M233.2 103.4h.9M222.1 106.2h.9M230.9 103.2h.9M230.4 113.2h.9M231.8 86.4h.9M236.2 118.3h.9M236.6 94.0h.9M237.1 84.6h.9M232.3 98.6h.9M237.4 85.0h.9M233.3 108.1h.9M222.8 95.0h.9M226.2 109.5h.9M226.8 105.5h.9M230.2 92.4h.9M217.3 103.7h.9M236.5 103.6h.9M229.1 92.1h.9M223.4 80.8h.9M223.8 110.5h.9M224.8 108.5h.9M238.5 91.8h.9M239.0 98.2h.9M232.4 87.9h.9M233.4 124.0h.9M235.5 105.2h.9M236.6 102.6h.9M228.8 103.4h.9M230.6 99.6h.9M231.9 95.0h.9M237.5 96.3h.9M225.9 98.3h.9M232.2 105.7h.9M241.0 98.9h.9M219.5 103.3h.9M227.8 104.4h.9M233.9 117.1h.9M229.3 97.9h.9M228.7 107.6h.9M232.6 114.6h.9M246.7 92.7h.9M236.1 114.5h.9M231.5 99.8h.9M235.9 101.4h.9M228.8 94.6h.9M232.4 105.5h.9M238.3 108.1h.9M232.3 115.7h.9M230.9 112.3h.9M230.6 95.6h.9M226.8 112.6h.9M225.0 87.5h.9M214.6 103.8h.9M228.7 88.5h.9M226.1 115.6h.9M247.7 106.7h.9M231.7 104.1h.9M238.4 98.4h.9M237.4 102.9h.9M226.6 101.8h.9M237.4 133.5h.9M234.7 125.4h.9M240.5 102.9h.9M234.8 122.0h.9M245.8 114.5h.9M236.2 135.7h.9M227.4 130.0h.9M237.8 114.3h.9M234.8 109.4h.9M237.6 117.4h.9M232.4 114.4h.9M226.0 123.2h.9M229.5 110.8h.9M235.0 110.3h.9M239.1 103.8h.9M241.0 119.9h.9M236.8 133.9h.9M228.6 121.6h.9M237.0 117.4h.9M226.7 110.2h.9M230.3 126.5h.9M235.6 135.2h.9M231.9 111.1h.9M237.2 128.2h.9M236.2 122.1h.9M232.1 120.9h.9M231.6 124.2h.9M241.3 111.0h.9M230.7 118.5h.9M229.4 106.5h.9M239.0 133.0h.9M251.6 128.5h.9M236.1 107.5h.9M218.5 90.9h.9M216.6 72.2h.9M246.1 81.7h.9M258.2 130.9h.9M215.4 72.2h.9M246.0 87.6h.9M253.3 94.7h.9M239.3 135.0h.9M221.9 132.6h.9M212.1 104.6h.9M221.1 127.9h.9M230.6 124.7h.9M220.1 109.9h.9M240.1 124.8h.9M220.6 62.3h.9M215.5 79.0h.9M258.2 49.4h.9M237.8 125.7h.9M213.7 68.8h.9M220.5 123.7h.9M235.7 107.4h.9M219.7 62.5h.9M249.8 99.3h.9M219.7 64.1h.9M224.9 99.3h.9M231.0 135.8h.9" stroke="#000" stroke-width=".9" opacity="0.55"/>
<path d="M248.3 54.6h.9M244.4 53.2h.9M256.9 56.9h.9M251.9 62.0h.9M243.5 60.0h.9M245.2 50.8h.9M246.9 49.3h.9M248.1 55.0h.9M251.6 60.1h.9M243.0 60.3h.9M247.8 60.6h.9M246.7 54.3h.9M246.3 56.1h.9M251.9 54.4h.9M244.9 59.3h.9M249.5 62.9h.9M245.2 56.6h.9M247.0 55.6h.9M243.7 55.0h.9M251.9 61.1h.9M249.2 58.2h.9M249.3 55.0h.9M244.7 57.0h.9M249.2 55.9h.9M243.7 64.4h.9M245.6 62.8h.9M247.3 48.1h.9M250.4 59.8h.9M250.9 61.7h.9M247.3 53.1h.9M247.1 54.3h.9M249.5 56.2h.9M242.8 54.2h.9M242.6 56.6h.9M247.7 57.8h.9M243.1 53.9h.9M248.7 55.2h.9M243.6 60.4h.9M249.6 58.4h.9M250.2 60.6h.9M242.2 57.3h.9M243.7 51.8h.9M248.1 51.2h.9M244.0 61.5h.9M252.8 57.3h.9M247.8 52.5h.9M243.7 55.0h.9M244.1 56.3h.9M246.3 56.3h.9M248.1 48.1h.9M247.2 53.6h.9M252.3 55.4h.9M247.4 54.2h.9M246.1 55.3h.9M243.2 57.9h.9M246.0 59.6h.9M249.3 59.7h.9M244.8 60.4h.9M248.0 56.1h.9M246.6 60.9h.9M234.3 69.9h.9M240.2 68.6h.9M246.4 61.6h.9M244.0 62.2h.9M244.0 58.3h.9M242.9 65.5h.9M242.3 55.6h.9M246.3 60.4h.9M242.2 63.2h.9M242.2 66.8h.9M250.3 65.7h.9M239.4 70.5h.9M236.3 63.5h.9M241.5 58.2h.9M243.0 66.3h.9M250.2 54.9h.9M245.4 63.3h.9M246.7 64.2h.9M237.6 58.7h.9M248.1 71.5h.9M240.6 65.1h.9M248.6 59.8h.9M245.1 64.2h.9M236.5 66.2h.9M247.3 59.0h.9M242.9 61.2h.9M240.9 63.5h.9M234.9 85.5h.9M235.6 91.3h.9M224.6 81.8h.9M236.5 79.5h.9M233.6 86.1h.9M237.8 79.4h.9M233.8 86.1h.9M236.9 84.1h.9M238.2 78.9h.9M236.0 85.1h.9M241.4 88.0h.9M235.2 76.7h.9M236.9 92.4h.9M229.5 86.7h.9M233.7 84.9h.9M235.8 96.5h.9M237.7 83.9h.9M237.9 77.8h.9M243.0 77.1h.9M232.9 70.5h.9M229.6 83.1h.9M234.9 78.1h.9M240.0 89.4h.9M245.3 72.5h.9M241.8 73.6h.9M231.7 88.9h.9M236.6 76.5h.9M237.8 74.6h.9M232.9 83.8h.9M231.0 90.6h.9M235.9 84.0h.9M233.6 73.8h.9M235.3 90.9h.9M235.9 84.2h.9M239.7 80.0h.9M235.1 90.6h.9M235.1 87.4h.9M240.6 79.7h.9M233.7 76.0h.9M231.7 87.2h.9M231.1 87.3h.9M235.1 85.5h.9M233.1 74.4h.9M240.7 81.8h.9M237.6 80.3h.9M233.5 78.7h.9M230.1 84.3h.9M237.5 86.6h.9M235.2 77.4h.9M235.4 88.4h.9M231.7 72.0h.9M226.0 71.9h.9M238.1 89.7h.9M232.8 89.1h.9M231.0 85.8h.9M237.6 82.1h.9M227.0 75.1h.9M232.8 81.3h.9M241.6 78.0h.9M236.4 78.8h.9M235.2 82.8h.9M233.0 78.4h.9M240.0 88.0h.9M239.5 82.6h.9M233.3 82.4h.9M234.8 83.7h.9M231.6 81.9h.9M237.8 79.9h.9M237.2 81.8h.9M236.6 88.9h.9M234.0 87.2h.9M234.4 83.4h.9M238.4 87.5h.9M238.4 77.5h.9M237.7 87.7h.9M236.7 85.3h.9M234.4 76.4h.9M227.8 83.1h.9M236.7 88.5h.9M237.2 84.5h.9M240.0 84.0h.9M238.5 88.1h.9M237.5 85.7h.9M234.2 80.5h.9M239.5 77.7h.9M236.4 84.9h.9M239.7 74.4h.9M234.9 84.2h.9M238.1 92.5h.9M231.6 80.1h.9M236.5 76.4h.9M233.9 91.3h.9M233.7 72.8h.9M229.2 90.3h.9M233.0 76.2h.9M230.5 76.4h.9M236.5 84.0h.9M238.6 78.4h.9M233.5 83.8h.9M234.6 90.5h.9M232.0 83.9h.9M235.4 92.9h.9M239.0 80.0h.9M238.5 74.7h.9M237.9 79.6h.9M240.0 80.8h.9M236.0 75.2h.9M235.0 85.3h.9M236.2 81.9h.9M231.5 76.8h.9M233.9 82.7h.9M234.3 81.5h.9M232.5 71.8h.9M235.9 78.5h.9M232.9 81.3h.9M234.7 91.5h.9M235.3 79.3h.9M238.7 82.4h.9M238.5 80.5h.9M236.7 79.6h.9M235.8 83.4h.9M226.2 85.2h.9M233.7 82.2h.9M235.7 82.4h.9M228.8 83.7h.9M243.1 82.1h.9M238.2 83.6h.9M230.7 96.1h.9M240.7 88.0h.9M231.9 81.2h.9M241.7 94.1h.9M241.1 85.2h.9M241.9 89.3h.9M235.4 84.3h.9M234.4 83.1h.9M238.6 86.4h.9M232.9 77.4h.9M240.8 85.6h.9M234.5 83.4h.9M234.7 81.9h.9M236.3 88.2h.9M241.3 77.9h.9M234.9 81.7h.9M239.1 77.4h.9M236.1 83.0h.9M238.6 76.1h.9M235.7 81.2h.9M240.7 91.1h.9M230.3 82.1h.9M233.1 83.3h.9M240.8 80.7h.9M242.6 76.7h.9M235.6 86.8h.9M234.6 86.3h.9M229.5 75.1h.9M233.9 86.2h.9M241.4 88.2h.9M233.0 89.9h.9M229.5 86.7h.9M229.9 94.8h.9M237.4 98.4h.9M236.8 94.5h.9M235.3 91.5h.9M236.5 84.6h.9M234.0 95.2h.9M232.6 98.6h.9M221.9 97.3h.9M234.9 99.1h.9M227.2 93.0h.9M234.4 88.7h.9M239.3 90.6h.9M220.7 92.0h.9M234.0 93.2h.9M233.4 103.5h.9M238.0 102.5h.9M231.3 92.6h.9M224.2 87.3h.9M228.3 90.1h.9M228.6 99.6h.9M238.5 98.8h.9M235.7 93.1h.9M233.9 90.5h.9M239.7 87.0h.9M244.3 92.8h.9M236.5 82.4h.9M227.3 92.8h.9M234.9 79.2h.9M220.9 87.8h.9M229.2 86.5h.9M224.4 82.4h.9M231.9 83.7h.9M230.3 104.6h.9M222.5 96.0h.9M229.7 86.7h.9M243.1 87.1h.9M232.8 94.4h.9M232.9 90.4h.9M234.8 93.7h.9M231.9 88.0h.9M232.7 82.1h.9M229.8 97.5h.9M226.7 94.1h.9M235.3 93.2h.9M226.0 115.0h.9M227.5 103.8h.9M236.7 91.8h.9M238.6 84.1h.9M237.4 101.0h.9M234.0 105.6h.9M223.5 93.5h.9M225.8 113.4h.9M232.1 105.0h.9M231.4 102.9h.9M237.5 96.9h.9M234.3 102.0h.9M228.8 91.9h.9M234.0 102.7h.9M233.8 86.9h.9M241.2 87.1h.9M229.9 92.1h.9M235.2 108.4h.9M232.4 83.2h.9M231.6 93.8h.9M225.7 92.9h.9M219.9 101.5h.9M235.6 103.4h.9M230.9 106.1h.9M234.4 84.8h.9M228.6 84.1h.9M234.8 93.4h.9M227.2 99.2h.9M244.7 93.7h.9M242.7 90.9h.9M235.9 100.3h.9M223.5 114.3h.9M234.0 99.6h.9M236.1 107.2h.9M226.9 91.7h.9M234.0 102.0h.9M231.9 99.8h.9M225.2 96.5h.9M232.5 91.8h.9M224.1 92.3h.9M230.0 106.3h.9M232.0 105.2h.9M249.9 102.4h.9M221.6 86.2h.9M234.8 104.4h.9M230.9 109.2h.9M232.3 102.0h.9M226.4 110.4h.9M230.7 85.5h.9M233.4 102.0h.9M234.3 75.3h.9M233.3 96.2h.9M240.0 100.1h.9M231.4 97.2h.9M230.8 104.1h.9M232.5 100.4h.9M230.7 99.5h.9M239.0 119.2h.9M247.1 101.7h.9M221.6 98.8h.9M237.3 108.4h.9M239.6 99.2h.9M234.4 75.5h.9M225.9 109.8h.9M230.9 112.8h.9M224.8 114.8h.9M236.1 101.4h.9M240.2 100.6h.9M228.1 93.9h.9M240.8 105.5h.9M238.4 104.5h.9M228.1 94.2h.9M233.4 100.3h.9M234.5 100.1h.9M233.0 106.6h.9M228.0 105.6h.9M228.1 101.7h.9M234.7 103.4h.9M233.0 100.3h.9M238.2 92.4h.9M221.3 112.9h.9M238.9 103.9h.9M229.2 86.8h.9M238.1 93.5h.9M231.4 131.3h.9M226.3 91.6h.9M225.6 111.1h.9M231.1 96.5h.9M240.0 97.1h.9M236.2 94.3h.9M230.7 110.2h.9M238.9 101.0h.9M234.6 115.0h.9M239.1 99.1h.9M231.2 118.4h.9M250.6 107.4h.9M237.1 82.2h.9M234.1 87.5h.9M222.6 100.8h.9M234.3 94.7h.9M233.9 100.4h.9M237.7 94.9h.9M231.6 106.0h.9M235.8 83.6h.9M234.3 107.1h.9M233.4 97.4h.9M226.2 80.1h.9M227.0 100.6h.9M229.0 111.5h.9M246.4 104.3h.9M235.5 90.4h.9M234.7 104.1h.9M233.0 114.8h.9M223.4 104.4h.9M230.1 96.6h.9M235.5 83.0h.9M230.1 92.1h.9M232.1 105.1h.9M239.5 120.4h.9M230.7 122.5h.9M232.8 117.2h.9M238.7 116.9h.9M224.4 118.1h.9M236.7 123.8h.9M240.2 115.1h.9M239.1 131.9h.9M238.0 124.4h.9M229.4 117.2h.9M227.3 126.3h.9M229.5 113.3h.9M238.8 128.3h.9M230.8 121.1h.9M242.6 92.7h.9M244.5 123.1h.9M234.9 119.4h.9M219.5 112.4h.9M224.7 121.7h.9M232.7 124.3h.9M239.1 114.6h.9M244.6 123.2h.9M223.9 121.5h.9M243.6 125.2h.9M238.7 127.2h.9M237.7 104.9h.9M239.9 103.6h.9M227.4 135.3h.9M239.2 116.7h.9M229.9 125.7h.9M243.2 133.2h.9M235.8 132.5h.9M230.3 130.3h.9M234.7 127.8h.9M251.4 135.1h.9M242.2 126.8h.9M234.7 114.7h.9M230.9 121.0h.9M233.9 119.9h.9M239.1 121.1h.9M235.1 97.7h.9M250.0 125.8h.9M239.5 85.2h.9M241.8 59.9h.9M248.5 67.1h.9M238.4 56.2h.9M247.2 130.2h.9M246.4 80.1h.9M224.2 97.3h.9M215.3 108.5h.9M219.0 117.4h.9M246.9 120.8h.9M219.6 64.0h.9M217.9 130.5h.9M241.5 111.2h.9M216.3 105.2h.9M253.1 128.2h.9M234.2 81.5h.9M217.0 55.9h.9M213.1 116.8h.9M237.9 127.3h.9M215.3 78.5h.9M242.2 78.1h.9M234.9 95.1h.9M232.3 81.2h.9M232.9 64.9h.9M238.2 65.5h.9M215.7 56.1h.9" stroke="#000" stroke-width=".9" opacity="0.8"/>
<path d="M198.6 109.0h1.1M205.3 72.9h1.1M204.8 134.4h1.1M199.0 118.1h1.1M202.4 114.7h1.1M199.9 83.9h1.1M193.8 131.7h1.1M197.6 133.2h1.1M189.9 118.3h1.1M194.4 79.0h1.1M186.9 87.8h1.1M197.8 134.3h1.1M205.3 116.9h1.1M188.8 93.8h1.1M205.6 101.0h1.1M200.3 81.4h1.1M189.6 92.9h1.1M191.7 83.7h1.1M195.3 88.3h1.1M188.7 106.2h1.1M188.9 77.7h1.1M195.8 111.4h1.1M196.4 99.1h1.1M179.6 128.9h1.1M186.5 67.8h1.1M187.5 92.5h1.1M173.8 113.1h1.1M188.6 89.4h1.1M174.8 49.3h1.1M171.0 108.8h1.1M177.3 61.4h1.1M172.9 69.8h1.1M202.5 66.7h1.1M178.9 112.1h1.1M193.6 82.7h1.1M194.1 119.5h1.1M206.1 131.0h1.1M198.0 109.2h1.1M198.3 67.2h1.1M184.1 75.8h1.1M186.6 79.5h1.1" stroke="#000" stroke-width="1.1" opacity="0.22"/>
<path d="M352.2 54.5h.9M357.5 53.1h.9M360.0 58.6h.9M370.1 64.9h.9M358.9 63.2h.9M365.9 53.9h.9M362.3 68.3h.9M356.2 51.6h.9M360.5 63.9h.9M365.1 57.4h.9M354.4 65.1h.9M363.2 73.6h.9M368.5 68.1h.9M359.2 62.1h.9M364.0 66.7h.9M355.1 56.7h.9M361.9 67.6h.9M365.3 63.4h.9M359.6 61.4h.9M360.9 67.5h.9M361.6 56.4h.9M368.2 65.8h.9M357.4 59.1h.9M360.4 57.6h.9M355.3 60.1h.9M354.2 53.8h.9M361.3 56.9h.9M360.8 60.5h.9M354.3 49.5h.9M353.0 65.2h.9M367.0 61.8h.9M358.2 58.6h.9M362.2 68.4h.9M360.3 66.3h.9M364.4 60.7h.9M362.3 59.1h.9M366.3 63.6h.9M356.9 60.7h.9M359.3 62.3h.9M361.9 58.1h.9M353.4 60.6h.9M360.3 63.7h.9M362.8 55.8h.9M351.8 48.0h.9M363.6 60.7h.9M356.7 57.0h.9M364.5 61.3h.9M368.4 57.9h.9M363.9 65.0h.9M368.9 69.0h.9M362.3 59.3h.9M363.6 58.7h.9M361.7 54.8h.9M360.4 66.2h.9M355.4 59.4h.9M357.4 51.9h.9M365.7 58.6h.9M360.6 59.8h.9M365.0 70.4h.9M358.6 57.8h.9M354.4 59.3h.9M362.5 57.6h.9M365.4 72.9h.9M358.8 69.0h.9M355.7 62.7h.9M353.9 62.2h.9M359.3 55.0h.9M358.4 54.4h.9M360.1 60.5h.9M355.2 57.9h.9M366.0 69.0h.9M359.0 60.4h.9M358.6 59.1h.9M367.3 62.8h.9M363.6 62.1h.9M357.6 50.8h.9M363.0 63.4h.9M367.2 68.2h.9M368.0 62.0h.9M363.6 59.7h.9M360.3 59.6h.9M367.0 55.3h.9M360.9 61.8h.9M365.6 69.0h.9M365.0 64.7h.9M362.0 60.4h.9M363.6 51.1h.9M365.8 61.5h.9M355.9 58.6h.9M364.4 69.6h.9M362.9 62.9h.9M353.5 59.9h.9M363.7 59.2h.9M369.1 67.5h.9M360.0 63.6h.9M366.1 69.2h.9M357.4 56.9h.9M360.5 54.8h.9M356.9 57.7h.9M357.3 78.5h.9M353.7 64.7h.9M350.9 69.9h.9M353.5 64.7h.9M359.6 75.7h.9M351.8 58.0h.9M361.1 63.5h.9M355.6 65.1h.9M358.1 65.7h.9M348.1 68.2h.9M363.5 61.3h.9M350.4 71.1h.9M350.8 70.3h.9M348.8 70.3h.9M364.7 74.8h.9M358.8 64.6h.9M359.0 57.4h.9M356.9 63.6h.9M346.4 76.6h.9M350.6 65.1h.9M353.3 57.8h.9M351.4 68.6h.9M359.4 54.5h.9M359.1 70.8h.9M342.8 64.5h.9M357.4 60.7h.9M350.7 69.4h.9M360.9 67.6h.9M354.0 67.3h.9M363.5 72.9h.9M357.9 70.8h.9M347.6 66.6h.9M341.2 80.5h.9M340.7 77.7h.9M349.3 79.8h.9M344.9 84.0h.9M351.5 87.6h.9M357.7 84.0h.9M346.7 87.5h.9M347.1 79.4h.9M342.8 90.2h.9M336.2 85.1h.9M343.6 100.2h.9M336.1 82.1h.9M339.1 82.7h.9M341.6 87.0h.9M336.0 84.5h.9M341.2 91.4h.9M344.8 81.6h.9M346.2 83.2h.9M348.8 92.5h.9M338.2 82.4h.9M344.9 94.1h.9M348.5 88.3h.9M358.6 88.0h.9M360.7 91.6h.9M346.8 89.9h.9M348.8 101.6h.9M359.5 83.4h.9M352.5 85.2h.9M334.9 76.9h.9M340.9 86.3h.9M342.3 87.4h.9M345.4 97.7h.9M343.2 73.6h.9M345.2 84.0h.9M339.9 97.9h.9M342.1 86.7h.9M349.2 93.3h.9M343.3 89.0h.9M341.1 88.0h.9M346.3 73.7h.9M343.9 84.1h.9M341.9 79.8h.9M344.2 83.2h.9M342.1 84.5h.9M339.3 84.7h.9M351.0 84.3h.9M360.2 75.7h.9M360.2 91.2h.9M336.6 94.3h.9M354.2 91.4h.9M347.5 94.3h.9M339.8 77.7h.9M344.7 82.9h.9M351.4 84.5h.9M332.2 87.5h.9M346.8 90.9h.9M337.3 92.5h.9M345.8 87.2h.9M336.1 75.4h.9M334.3 80.6h.9M338.1 84.3h.9M345.9 102.8h.9M327.8 79.2h.9M340.4 75.8h.9M343.5 88.2h.9M356.7 85.0h.9M345.9 93.8h.9M351.6 81.5h.9M344.1 79.2h.9M344.2 80.0h.9M350.4 86.1h.9M340.5 75.2h.9M339.8 91.8h.9M352.5 91.2h.9M337.1 80.6h.9M336.6 91.6h.9M338.9 90.4h.9M338.1 77.0h.9M349.6 84.0h.9M353.8 81.1h.9M345.6 78.0h.9M350.0 102.4h.9M345.7 76.9h.9M343.5 89.7h.9M340.1 91.9h.9M351.1 93.2h.9M340.0 89.5h.9M344.2 72.6h.9M342.2 91.6h.9M337.6 84.8h.9M348.6 86.2h.9M356.6 90.0h.9M340.1 99.0h.9M332.2 97.3h.9M337.7 73.2h.9M343.0 83.9h.9M338.6 98.0h.9M341.1 93.0h.9M345.7 84.3h.9M346.8 91.0h.9M338.1 85.8h.9M353.4 90.6h.9M340.9 82.9h.9M350.9 87.3h.9M341.0 89.1h.9M344.7 82.0h.9M348.3 105.2h.9M338.5 94.8h.9M330.7 88.5h.9M344.8 79.0h.9M335.7 77.7h.9M335.1 81.0h.9M336.5 87.5h.9M343.4 84.9h.9M341.0 84.1h.9M348.2 71.0h.9M340.8 89.5h.9M342.2 93.5h.9M354.4 86.0h.9M353.9 88.0h.9M345.3 91.9h.9M337.1 82.2h.9M342.5 94.4h.9M331.6 85.4h.9M337.2 86.7h.9M342.3 90.9h.9M351.1 85.7h.9M339.7 85.1h.9M357.9 97.2h.9M349.8 77.2h.9M337.4 90.3h.9M345.6 101.0h.9M346.3 80.6h.9M342.8 83.0h.9M336.5 80.2h.9M343.0 87.9h.9M344.9 90.7h.9M331.5 79.8h.9M362.6 91.2h.9M339.2 76.8h.9M353.9 81.1h.9M332.1 86.4h.9M337.5 75.2h.9M339.7 89.4h.9M347.7 82.7h.9M350.1 88.3h.9M361.3 90.0h.9M333.1 78.5h.9M338.4 77.8h.9M337.3 77.1h.9M339.6 92.5h.9M335.6 88.7h.9M350.9 77.7h.9M341.7 82.0h.9M349.7 89.7h.9M346.6 92.5h.9M333.3 80.3h.9M356.3 81.8h.9M357.8 86.6h.9M323.3 95.0h.9M347.0 112.9h.9M352.4 106.5h.9M340.5 115.0h.9M336.0 111.3h.9M341.1 96.4h.9M344.2 97.5h.9M331.2 93.0h.9M365.6 109.3h.9M342.9 100.2h.9M343.8 114.7h.9M354.2 116.9h.9M351.1 91.2h.9M351.5 117.2h.9M339.0 91.3h.9M338.2 110.9h.9M335.5 96.3h.9M346.3 113.9h.9M346.0 86.3h.9M346.8 103.2h.9M341.6 105.8h.9M346.4 90.1h.9M350.1 102.4h.9M340.8 108.6h.9M347.6 100.8h.9M335.8 111.4h.9M334.0 117.6h.9M339.8 98.0h.9M363.0 100.5h.9M338.6 96.3h.9M337.8 117.5h.9M346.7 121.1h.9M337.7 90.3h.9M360.7 118.0h.9M335.4 97.0h.9M362.7 98.3h.9M339.2 112.2h.9M356.6 103.2h.9M349.4 87.7h.9M336.2 106.1h.9M337.5 112.0h.9M355.5 103.9h.9M344.1 107.5h.9M342.6 101.8h.9M345.6 94.5h.9M353.4 109.3h.9M333.2 104.1h.9M348.6 107.7h.9M339.5 116.9h.9M349.6 85.9h.9M334.1 106.0h.9M361.5 94.4h.9M344.2 95.6h.9M346.6 104.3h.9M340.4 99.7h.9M342.6 103.1h.9M342.7 108.1h.9M348.8 118.0h.9M356.7 112.1h.9M342.0 102.5h.9M333.4 106.6h.9M345.1 111.4h.9M347.3 106.7h.9M346.4 104.7h.9M357.2 106.5h.9M331.4 114.3h.9M338.4 89.3h.9M331.9 93.9h.9M349.7 88.3h.9M340.1 109.1h.9M351.2 106.1h.9M344.4 108.0h.9M359.3 122.8h.9M345.7 92.5h.9M348.9 107.7h.9M364.2 106.3h.9M341.9 111.0h.9M352.7 116.3h.9M337.3 118.8h.9M358.0 130.4h.9M344.7 123.8h.9M347.2 119.8h.9M354.4 103.1h.9M348.6 119.1h.9M351.3 132.1h.9M350.8 128.3h.9M331.1 129.1h.9M345.3 126.8h.9M354.2 118.1h.9M354.4 123.9h.9M333.9 127.1h.9M337.3 126.2h.9M364.5 54.1h.9M371.9 59.2h.9M334.6 101.2h.9M337.6 131.2h.9M327.0 85.4h.9M346.2 124.5h.9M337.3 60.2h.9M369.6 104.4h.9M348.2 105.0h.9M367.2 50.6h.9M328.0 93.6h.9M350.5 59.2h.9M345.4 116.4h.9M374.2 112.1h.9M369.1 93.1h.9M362.4 130.0h.9M339.7 47.3h.9M352.4 80.6h.9M326.2 89.8h.9M342.2 109.8h.9M342.0 109.6h.9M338.8 47.3h.9M354.7 50.6h.9M346.5 67.4h.9M340.1 115.8h.9M355.0 80.8h.9M361.0 121.9h.9M362.9 102.5h.9M341.2 94.6h.9M337.2 85.4h.9" stroke="#000" stroke-width=".9" opacity="0.35"/>
<path d="M366.3 63.3h.9M366.0 55.2h.9M366.0 60.9h.9M358.3 61.8h.9M370.2 67.5h.9M359.8 56.7h.9M360.5 65.5h.9M361.4 59.5h.9M357.5 65.1h.9M363.2 63.3h.9M355.0 56.8h.9M358.0 57.7h.9M359.6 65.2h.9M358.6 54.0h.9M356.1 57.0h.9M360.4 61.2h.9M358.2 62.0h.9M363.0 66.4h.9M357.0 69.1h.9M361.4 63.3h.9M356.0 59.6h.9M363.5 59.1h.9M355.2 64.2h.9M355.1 59.0h.9M360.0 56.4h.9M362.3 67.0h.9M363.5 64.1h.9M366.4 59.3h.9M364.7 60.0h.9M364.9 70.0h.9M361.9 64.1h.9M365.3 54.3h.9M358.9 62.2h.9M358.3 62.2h.9M371.2 70.2h.9M368.5 65.4h.9M361.7 59.7h.9M359.8 54.3h.9M360.5 67.3h.9M359.9 61.8h.9M360.0 58.7h.9M352.7 56.5h.9M363.9 59.5h.9M359.2 61.5h.9M361.6 52.3h.9M365.0 62.4h.9M358.6 62.0h.9M367.6 70.5h.9M367.5 57.9h.9M360.5 58.3h.9M365.5 59.9h.9M359.8 67.4h.9M360.7 58.5h.9M361.0 60.0h.9M358.7 59.1h.9M368.1 64.8h.9M349.6 65.1h.9M359.8 59.1h.9M366.7 69.0h.9M367.9 64.4h.9M368.6 57.4h.9M369.5 65.9h.9M362.1 56.4h.9M365.8 72.7h.9M361.8 61.7h.9M361.3 59.7h.9M364.0 63.9h.9M366.1 59.6h.9M361.0 60.2h.9M359.7 65.5h.9M361.8 56.1h.9M360.4 64.8h.9M362.5 67.1h.9M356.3 59.9h.9M357.0 59.5h.9M360.1 49.2h.9M358.4 62.5h.9M358.8 54.8h.9M356.9 65.3h.9M361.4 57.6h.9M369.8 57.3h.9M360.7 61.6h.9M357.5 53.6h.9M358.6 58.5h.9M355.9 55.0h.9M352.8 58.6h.9M354.7 62.9h.9M360.5 68.5h.9M362.9 64.2h.9M359.3 54.6h.9M362.1 68.5h.9M371.5 71.6h.9M362.6 67.1h.9M358.3 70.8h.9M364.3 65.7h.9M353.9 68.1h.9M348.6 71.2h.9M357.7 66.7h.9M357.0 66.9h.9M351.9 72.4h.9M363.5 66.0h.9M361.1 62.9h.9M351.3 63.0h.9M351.2 59.6h.9M354.8 63.9h.9M356.4 65.6h.9M349.5 82.3h.9M361.4 68.8h.9M358.8 64.3h.9M360.9 54.9h.9M356.2 57.3h.9M353.5 66.5h.9M352.3 71.0h.9M345.5 71.0h.9M355.8 66.5h.9M352.8 65.5h.9M351.6 72.4h.9M357.9 64.6h.9M356.3 65.2h.9M350.8 84.6h.9M349.1 82.9h.9M343.5 90.9h.9M335.3 87.5h.9M333.9 76.1h.9M340.8 80.6h.9M364.1 83.6h.9M343.6 83.7h.9M340.6 71.1h.9M346.8 77.4h.9M350.3 84.2h.9M347.5 82.1h.9M339.9 75.9h.9M336.7 75.3h.9M344.4 84.2h.9M342.3 78.9h.9M340.6 86.7h.9M339.0 84.7h.9M340.2 78.9h.9M357.8 97.3h.9M344.3 87.4h.9M336.5 94.1h.9M345.2 89.5h.9M338.1 83.6h.9M353.6 84.1h.9M347.9 91.8h.9M351.4 85.7h.9M345.6 80.8h.9M349.4 93.5h.9M342.8 92.1h.9M332.1 84.6h.9M334.0 92.3h.9M351.9 87.9h.9M343.2 83.0h.9M346.6 80.0h.9M334.2 71.2h.9M345.5 81.0h.9M341.1 78.1h.9M338.9 72.9h.9M345.7 83.4h.9M352.5 84.2h.9M334.0 76.3h.9M338.3 86.8h.9M342.3 67.9h.9M358.8 79.0h.9M343.1 92.7h.9M348.0 78.9h.9M343.1 87.2h.9M359.5 98.6h.9M334.8 81.7h.9M348.6 93.8h.9M331.0 82.8h.9M350.0 78.4h.9M335.9 93.0h.9M338.8 87.1h.9M341.4 90.8h.9M339.6 77.8h.9M332.0 94.9h.9M332.5 81.7h.9M356.0 79.7h.9M357.2 97.4h.9M343.2 87.2h.9M342.2 95.1h.9M339.9 88.7h.9M349.5 70.4h.9M341.2 87.1h.9M335.5 94.9h.9M345.7 84.0h.9M335.9 86.3h.9M350.8 87.7h.9M347.3 91.3h.9M345.7 84.4h.9M340.7 82.2h.9M347.4 86.7h.9M334.7 80.6h.9M339.1 87.2h.9M341.2 82.3h.9M351.0 73.9h.9M341.1 96.7h.9M337.9 88.2h.9M338.9 89.5h.9M353.8 80.6h.9M339.7 81.6h.9M342.9 86.2h.9M345.1 100.5h.9M336.2 90.4h.9M355.5 93.1h.9M351.4 71.6h.9M346.1 71.8h.9M345.7 77.7h.9M342.5 88.6h.9M350.8 98.8h.9M347.6 86.7h.9M335.7 93.6h.9M352.6 76.6h.9M346.5 92.1h.9M347.2 91.5h.9M344.4 87.0h.9M342.0 86.4h.9M345.4 92.7h.9M348.7 91.8h.9M341.0 82.0h.9M333.7 81.3h.9M341.0 81.5h.9M340.5 93.3h.9M339.8 90.8h.9M339.9 88.1h.9M347.8 74.6h.9M328.0 87.8h.9M354.4 89.2h.9M351.8 96.3h.9M345.8 83.2h.9M330.7 82.9h.9M358.8 94.5h.9M354.1 86.1h.9M352.1 92.4h.9M345.7 72.1h.9M344.6 88.0h.9M346.2 83.8h.9M341.6 86.5h.9M342.2 83.7h.9M334.0 75.8h.9M341.0 77.8h.9M337.3 83.2h.9M339.0 84.9h.9M345.5 85.2h.9M340.5 81.5h.9M339.9 77.0h.9M343.3 100.6h.9M334.5 84.5h.9M348.0 81.9h.9M344.8 96.6h.9M336.8 82.8h.9M348.8 92.0h.9M350.7 89.8h.9M345.6 83.0h.9M363.4 89.0h.9M346.9 95.1h.9M346.2 86.3h.9M350.6 79.7h.9M345.0 84.9h.9M347.5 82.5h.9M352.2 82.6h.9M335.1 94.6h.9M341.9 82.7h.9M332.1 77.2h.9M356.3 86.8h.9M352.1 86.8h.9M357.9 79.7h.9M348.0 86.0h.9M331.1 86.5h.9M345.0 97.8h.9M348.3 71.6h.9M346.6 91.2h.9M331.4 76.8h.9M342.9 89.4h.9M346.7 75.5h.9M342.1 88.8h.9M349.2 95.5h.9M343.9 93.2h.9M344.6 94.6h.9M340.5 71.9h.9M334.3 88.8h.9M336.4 89.3h.9M333.1 89.7h.9M346.3 78.0h.9M334.0 82.2h.9M331.3 93.1h.9M349.1 90.1h.9M343.6 81.1h.9M343.1 81.5h.9M343.7 80.4h.9M348.2 86.7h.9M343.0 86.3h.9M338.6 83.4h.9M348.5 81.5h.9M338.1 78.9h.9M349.8 102.9h.9M349.9 89.6h.9M354.2 86.1h.9M340.6 85.0h.9M344.1 90.6h.9M345.2 85.1h.9M341.7 75.6h.9M348.8 90.8h.9M351.6 78.2h.9M342.4 79.4h.9M327.3 72.4h.9M337.9 102.2h.9M338.5 95.9h.9M337.3 96.2h.9M338.2 87.3h.9M354.5 115.2h.9M350.6 104.7h.9M338.6 106.7h.9M344.3 94.9h.9M354.0 96.5h.9M359.7 90.4h.9M353.4 119.9h.9M341.1 105.7h.9M352.0 82.5h.9M348.4 105.4h.9M336.7 99.2h.9M346.1 106.3h.9M354.2 102.3h.9M335.1 99.1h.9M361.2 92.5h.9M360.2 114.6h.9M350.8 100.6h.9M349.6 89.3h.9M352.7 101.9h.9M347.4 102.5h.9M355.0 117.3h.9M333.7 92.9h.9M347.5 112.1h.9M340.9 92.0h.9M336.1 109.6h.9M343.4 89.5h.9M354.4 111.6h.9M347.3 95.0h.9M345.8 98.3h.9M341.7 107.4h.9M344.7 100.7h.9M339.9 121.8h.9M343.1 101.3h.9M347.8 107.2h.9M347.9 114.7h.9M355.8 100.2h.9M347.8 93.2h.9M345.7 80.4h.9M340.5 90.9h.9M355.4 95.6h.9M339.2 97.7h.9M346.5 109.5h.9M346.5 105.7h.9M329.8 93.6h.9M353.3 101.4h.9M343.1 103.4h.9M350.3 110.2h.9M355.6 114.4h.9M341.9 106.6h.9M336.0 106.6h.9M335.5 114.6h.9M352.9 97.3h.9M341.6 92.6h.9M341.7 108.3h.9M356.1 106.9h.9M352.5 97.6h.9M336.4 108.1h.9M342.0 110.9h.9M338.0 107.5h.9M361.1 115.4h.9M347.4 98.4h.9M350.6 96.9h.9M343.1 120.5h.9M340.5 104.8h.9M331.6 93.4h.9M361.3 102.3h.9M356.9 82.8h.9M349.6 94.7h.9M339.1 96.5h.9M344.3 111.1h.9M345.3 112.4h.9M355.3 82.7h.9M350.6 99.1h.9M352.2 97.6h.9M334.7 95.0h.9M348.5 120.4h.9M353.6 109.1h.9M329.3 114.9h.9M330.2 112.0h.9M345.6 102.7h.9M342.4 103.1h.9M344.9 100.8h.9M354.1 85.0h.9M334.6 100.7h.9M354.4 128.9h.9M364.1 129.2h.9M351.0 116.8h.9M336.0 115.8h.9M347.7 119.5h.9M343.7 131.5h.9M345.2 131.2h.9M340.0 120.5h.9M351.0 125.7h.9M353.3 107.5h.9M330.3 128.6h.9M346.6 134.4h.9M343.1 128.3h.9M343.9 123.8h.9M360.6 131.0h.9M339.5 128.5h.9M339.6 129.6h.9M351.3 123.0h.9M352.6 114.8h.9M343.3 126.3h.9M352.7 119.1h.9M353.1 126.7h.9M340.6 121.2h.9M347.0 130.9h.9M371.4 117.8h.9M369.5 59.9h.9M329.4 117.3h.9M351.7 71.2h.9M351.1 98.5h.9M344.0 117.4h.9M329.6 93.9h.9M354.0 70.3h.9M362.6 96.1h.9M367.1 119.9h.9M344.9 131.9h.9M332.8 49.9h.9M360.1 125.2h.9M351.2 99.6h.9M353.8 71.2h.9M341.9 66.3h.9M356.9 78.2h.9M333.5 83.3h.9M326.8 103.4h.9M342.0 122.0h.9M370.9 77.9h.9M350.6 81.2h.9M351.2 122.6h.9M344.4 103.9h.9M331.9 103.0h.9M361.3 92.9h.9M349.9 83.8h.9M370.6 121.2h.9M325.2 66.2h.9M325.9 57.0h.9M359.2 135.0h.9M340.1 97.0h.9M371.8 69.9h.9M332.1 89.8h.9M339.3 75.8h.9M353.0 133.2h.9M369.1 78.7h.9M332.9 92.5h.9M339.5 58.9h.9M333.8 127.4h.9M357.3 98.1h.9M348.8 49.8h.9M361.0 118.5h.9" stroke="#000" stroke-width=".9" opacity="0.55"/>
<path d="M355.7 57.7h.9M361.1 65.5h.9M355.5 60.3h.9M349.9 56.3h.9M368.6 50.6h.9M356.7 61.0h.9M366.4 62.2h.9M362.2 69.8h.9M366.4 60.9h.9M368.4 60.0h.9M366.3 66.0h.9M362.4 63.8h.9M358.1 54.4h.9M362.3 62.4h.9M360.0 62.9h.9M363.1 69.5h.9M364.4 60.1h.9M359.5 58.9h.9M358.7 52.1h.9M353.4 61.6h.9M359.9 63.4h.9M367.0 68.2h.9M362.8 59.7h.9M366.5 58.3h.9M363.7 61.7h.9M354.4 61.2h.9M363.1 71.2h.9M361.0 61.6h.9M362.2 63.9h.9M365.6 67.5h.9M362.6 60.0h.9M354.3 56.5h.9M361.2 52.5h.9M365.2 62.9h.9M361.2 56.7h.9M360.2 64.6h.9M360.7 59.8h.9M359.2 55.0h.9M359.9 64.5h.9M365.8 70.9h.9M365.0 64.1h.9M366.9 66.0h.9M360.9 65.9h.9M358.7 49.8h.9M354.8 50.5h.9M361.4 64.0h.9M367.3 63.1h.9M364.3 61.3h.9M359.5 59.2h.9M361.4 62.1h.9M360.1 65.1h.9M358.4 57.9h.9M365.0 59.2h.9M357.3 58.8h.9M363.9 73.2h.9M354.7 59.0h.9M362.8 63.4h.9M363.3 59.1h.9M354.6 67.3h.9M356.3 61.4h.9M365.3 59.0h.9M364.3 67.2h.9M363.9 63.2h.9M360.1 55.2h.9M363.6 62.2h.9M359.1 53.6h.9M356.9 65.6h.9M358.0 56.2h.9M356.6 56.7h.9M371.5 61.5h.9M367.1 63.8h.9M363.5 53.5h.9M358.2 62.2h.9M359.2 61.8h.9M358.6 59.8h.9M365.9 63.9h.9M365.0 59.1h.9M359.9 59.3h.9M361.8 62.3h.9M355.5 60.8h.9M359.5 63.0h.9M353.7 65.3h.9M351.8 52.9h.9M366.7 67.0h.9M353.6 47.8h.9M365.7 71.5h.9M362.6 57.8h.9M356.9 60.7h.9M360.4 61.8h.9M361.7 62.2h.9M362.0 59.1h.9M358.8 52.6h.9M366.0 67.9h.9M362.4 68.4h.9M360.5 54.2h.9M353.3 58.7h.9M364.9 70.8h.9M358.1 62.1h.9M361.6 65.8h.9M362.3 57.6h.9M358.2 70.9h.9M354.1 61.7h.9M366.8 62.8h.9M361.4 56.9h.9M352.7 57.4h.9M364.3 63.2h.9M359.9 67.0h.9M360.3 58.2h.9M353.2 57.3h.9M361.3 55.0h.9M357.3 59.1h.9M361.1 68.9h.9M356.2 53.3h.9M353.9 60.2h.9M359.9 59.7h.9M364.6 75.8h.9M371.3 59.7h.9M361.2 62.9h.9M367.6 61.7h.9M365.2 64.1h.9M359.5 58.8h.9M363.4 70.0h.9M357.3 70.1h.9M360.3 65.1h.9M365.1 55.1h.9M355.8 57.0h.9M353.2 75.2h.9M348.5 63.1h.9M357.6 75.4h.9M356.1 64.9h.9M352.9 69.7h.9M344.9 62.0h.9M350.7 64.1h.9M358.2 58.8h.9M351.0 65.4h.9M343.7 65.8h.9M349.7 69.5h.9M349.0 64.3h.9M354.2 73.9h.9M355.0 71.9h.9M359.8 70.8h.9M349.8 67.8h.9M352.7 68.9h.9M355.6 72.0h.9M349.5 74.6h.9M355.0 70.0h.9M346.4 67.0h.9M354.9 72.5h.9M350.0 68.5h.9M352.0 71.8h.9M362.5 69.7h.9M356.5 68.3h.9M357.9 66.7h.9M346.5 60.4h.9M353.1 67.7h.9M350.5 61.8h.9M360.2 62.2h.9M349.0 85.8h.9M347.0 88.3h.9M344.8 84.8h.9M347.5 70.2h.9M335.1 90.4h.9M349.7 87.7h.9M335.7 85.6h.9M354.3 94.6h.9M323.3 77.2h.9M349.9 75.2h.9M353.0 88.9h.9M341.0 78.9h.9M340.5 86.8h.9M351.6 86.9h.9M345.5 83.0h.9M333.5 86.2h.9M349.9 96.8h.9M341.2 90.4h.9M342.7 92.0h.9M352.0 84.4h.9M352.1 89.1h.9M347.1 88.7h.9M343.8 83.6h.9M350.0 83.1h.9M352.5 89.8h.9M356.1 87.5h.9M348.1 80.7h.9M345.6 94.0h.9M342.7 93.0h.9M341.9 86.5h.9M341.3 78.2h.9M350.9 79.9h.9M339.7 80.8h.9M356.6 71.0h.9M352.3 75.5h.9M333.0 88.0h.9M341.6 98.2h.9M347.3 91.4h.9M342.7 92.7h.9M339.4 84.4h.9M332.7 69.0h.9M353.9 88.2h.9M344.2 83.1h.9M351.9 77.5h.9M343.6 82.8h.9M342.4 96.7h.9M346.8 83.4h.9M340.3 84.3h.9M341.1 80.8h.9M345.2 100.9h.9M338.0 79.2h.9M338.5 89.7h.9M345.5 81.5h.9M342.5 90.9h.9M351.9 83.6h.9M337.5 73.8h.9M331.0 86.0h.9M352.7 80.8h.9M349.9 97.4h.9M337.2 76.4h.9M346.2 88.1h.9M333.2 81.2h.9M338.6 79.5h.9M342.1 91.8h.9M349.1 76.0h.9M342.6 87.3h.9M345.9 91.1h.9M354.0 82.6h.9M353.2 84.0h.9M348.1 72.9h.9M337.5 73.6h.9M337.6 80.8h.9M342.1 89.0h.9M342.2 71.2h.9M354.4 85.8h.9M345.0 85.1h.9M336.9 74.2h.9M344.8 93.4h.9M341.3 82.2h.9M344.6 81.9h.9M334.4 88.0h.9M338.8 100.6h.9M348.0 86.2h.9M344.2 83.6h.9M340.4 95.9h.9M332.7 89.3h.9M347.0 100.3h.9M336.1 70.6h.9M346.7 84.8h.9M344.2 93.7h.9M350.5 99.6h.9M341.5 78.5h.9M349.8 84.1h.9M348.4 80.0h.9M351.8 95.1h.9M347.5 97.8h.9M343.2 97.0h.9M346.6 82.0h.9M343.7 85.9h.9M336.2 84.3h.9M350.2 81.5h.9M341.9 72.9h.9M351.0 89.1h.9M335.8 95.3h.9M344.7 87.3h.9M354.7 88.5h.9M362.5 90.6h.9M346.7 87.4h.9M351.4 87.3h.9M349.7 89.6h.9M331.3 78.3h.9M346.5 92.5h.9M333.5 83.2h.9M329.3 99.4h.9M347.4 87.8h.9M341.8 71.8h.9M358.0 92.0h.9M334.8 86.3h.9M338.4 87.4h.9M343.8 86.3h.9M338.3 84.5h.9M347.7 97.2h.9M342.3 90.2h.9M340.0 85.8h.9M340.6 75.9h.9M346.7 89.5h.9M340.4 84.8h.9M340.9 86.8h.9M337.5 85.8h.9M335.7 80.1h.9M356.5 87.4h.9M334.6 88.3h.9M345.3 99.2h.9M344.8 83.0h.9M337.2 84.2h.9M349.1 89.0h.9M345.5 95.8h.9M347.2 96.7h.9M342.2 95.1h.9M343.8 88.0h.9M338.5 87.3h.9M335.0 85.3h.9M335.6 88.1h.9M349.1 95.5h.9M340.5 81.1h.9M351.4 88.3h.9M341.4 91.2h.9M352.4 83.7h.9M344.3 75.3h.9M331.3 76.8h.9M353.6 93.5h.9M350.4 85.3h.9M332.7 75.6h.9M338.5 96.8h.9M342.1 106.9h.9M351.2 99.5h.9M345.0 90.8h.9M356.3 89.4h.9M348.3 113.8h.9M343.4 106.2h.9M338.0 110.3h.9M350.4 103.0h.9M355.2 102.2h.9M347.4 101.1h.9M339.7 97.6h.9M350.5 104.3h.9M338.7 109.3h.9M357.0 112.5h.9M346.8 94.4h.9M339.5 77.4h.9M353.5 123.9h.9M327.5 102.9h.9M329.2 111.2h.9M349.9 107.0h.9M342.1 96.6h.9M346.2 105.4h.9M338.7 116.2h.9M340.5 117.7h.9M356.6 84.0h.9M329.9 100.6h.9M339.1 100.9h.9M353.7 105.2h.9M340.5 94.7h.9M341.8 99.7h.9M343.6 94.0h.9M352.8 133.1h.9M349.1 113.5h.9M345.4 127.2h.9M352.9 103.8h.9M349.4 80.8h.9M344.7 98.4h.9M345.3 85.0h.9M344.1 110.5h.9M336.0 110.8h.9M335.3 98.4h.9M351.1 123.1h.9M343.4 99.4h.9M350.5 117.6h.9M351.3 101.3h.9M329.8 102.5h.9M339.4 109.3h.9M336.1 102.5h.9M343.5 96.4h.9M337.5 105.2h.9M348.0 87.5h.9M356.5 114.5h.9M339.3 109.1h.9M344.1 84.6h.9M331.4 98.0h.9M349.6 110.7h.9M355.9 95.6h.9M342.4 111.8h.9M345.1 104.1h.9M362.9 110.5h.9M346.7 92.7h.9M342.0 97.3h.9M355.8 128.1h.9M343.0 127.4h.9M346.1 123.7h.9M343.3 130.0h.9M338.0 129.4h.9M357.5 127.3h.9M335.9 112.2h.9M342.8 132.3h.9M350.5 103.6h.9M349.6 126.6h.9M361.8 123.6h.9M348.9 134.2h.9M335.6 118.4h.9M338.0 125.7h.9M343.2 126.8h.9M350.7 121.5h.9M348.3 130.5h.9M352.4 114.7h.9M358.5 132.1h.9M338.2 119.0h.9M341.3 122.3h.9M345.9 125.0h.9M347.4 129.8h.9M360.5 120.5h.9M355.4 117.6h.9M344.5 130.3h.9M332.9 124.1h.9M356.0 127.9h.9M347.9 129.7h.9M342.1 126.4h.9M333.2 64.3h.9M338.8 50.6h.9M360.9 80.2h.9M357.1 49.8h.9M344.7 61.9h.9M330.5 50.5h.9M346.7 55.2h.9M338.6 90.0h.9M340.0 90.8h.9M325.9 83.6h.9M363.0 129.6h.9M370.5 66.1h.9M335.5 106.1h.9M361.3 80.9h.9M332.1 131.6h.9M332.6 113.9h.9M369.0 113.6h.9M359.3 62.8h.9M326.9 82.8h.9M336.9 72.8h.9M346.5 124.9h.9M367.4 121.4h.9M348.7 83.4h.9M355.7 58.0h.9M342.9 114.5h.9M341.2 109.8h.9M333.5 60.3h.9M363.2 104.7h.9M337.2 62.5h.9M343.1 127.8h.9M350.6 72.9h.9M333.9 123.3h.9M358.5 96.6h.9M362.7 98.3h.9M353.8 52.8h.9M325.3 71.1h.9M332.4 49.8h.9M360.2 57.3h.9M358.7 69.6h.9M354.4 66.8h.9M350.6 94.4h.9" stroke="#000" stroke-width=".9" opacity="0.8"/>
<path d="M308.0 86.9h1.1M319.6 95.9h1.1M317.8 66.8h1.1M303.3 99.1h1.1M311.2 99.6h1.1M310.8 100.0h1.1M317.3 107.1h1.1M304.1 91.6h1.1M306.1 92.0h1.1M314.1 94.3h1.1M319.2 102.6h1.1M303.0 88.6h1.1M299.7 123.2h1.1M320.6 73.2h1.1M318.3 106.4h1.1M320.2 103.9h1.1M304.2 72.5h1.1M310.2 106.3h1.1M313.5 104.9h1.1M315.1 82.1h1.1M311.3 107.9h1.1M319.6 88.0h1.1M308.4 85.2h1.1M307.5 80.1h1.1M308.4 99.2h1.1M307.8 95.5h1.1M312.7 67.4h1.1M310.1 74.5h1.1M308.3 80.7h1.1M322.7 86.6h1.1M314.1 87.4h1.1M309.1 81.6h1.1M321.5 106.5h1.1M307.5 112.3h1.1M311.7 95.7h1.1M311.0 52.5h1.1M307.3 91.3h1.1M321.5 91.9h1.1M317.8 66.0h1.1M293.1 118.6h1.1M287.9 62.1h1.1M319.7 84.6h1.1M301.9 67.4h1.1M289.5 59.5h1.1M299.8 71.4h1.1M319.6 94.9h1.1M320.3 128.5h1.1M290.8 48.9h1.1M309.3 94.9h1.1M288.8 47.6h1.1M315.2 88.0h1.1M293.6 108.2h1.1M307.1 69.7h1.1M291.0 89.6h1.1M294.5 121.8h1.1M309.3 56.9h1.1M296.8 65.8h1.1M291.9 73.9h1.1M296.2 121.6h1.1M314.2 128.8h1.1M300.1 115.0h1.1M307.6 68.6h1.1M293.7 75.1h1.1M308.6 113.7h1.1M284.7 86.9h1.1M285.3 78.0h1.1" stroke="#000" stroke-width="1.1" opacity="0.22"/>
</g>
<rect x="50.6" y="45.8" width="93.2" height="92.5" fill="none" stroke="#000" stroke-width="1.6"/>
<line x1="92.3" y1="45.8" x2="92.3" y2="138.3" stroke="#000" stroke-width="1.5"/>
<line x1="92.3" y1="81.5" x2="143.8" y2="81.5" stroke="#000" stroke-width="1.5"/>
<text x="94.1" y="57.0" font-size="12" textLength="13.3" lengthAdjust="spacingAndGlyphs" stroke="#000" stroke-width="0.45">16</text>
<text x="93.7" y="136.6" font-size="12" textLength="13.3" lengthAdjust="spacingAndGlyphs" stroke="#000" stroke-width="0.45">81</text>
<text x="34.2" y="56.4" font-size="9.3" stroke="#000" stroke-width="0.4">10<tspan font-size="5.6" dy="-3.1">5</tspan></text>
<text x="34.2" y="77.2" font-size="9.3" stroke="#000" stroke-width="0.4">10<tspan font-size="5.6" dy="-3.1">4</tspan></text>
<text x="34.2" y="98.8" font-size="9.3" stroke="#000" stroke-width="0.4">10<tspan font-size="5.6" dy="-3.1">3</tspan></text>
<text x="34.2" y="120.8" font-size="9.3" stroke="#000" stroke-width="0.4">10<tspan font-size="5.6" dy="-3.1">2</tspan></text>
<text x="38.2" y="130.8" font-size="9.3" stroke="#000" stroke-width="0.4">0</text>
<line x1="47.6" y1="54.7" x2="50.6" y2="54.7" stroke="#000" stroke-width="1.2"/>
<line x1="47.6" y1="75.4" x2="50.6" y2="75.4" stroke="#000" stroke-width="1.2"/>
<line x1="47.6" y1="97.0" x2="50.6" y2="97.0" stroke="#000" stroke-width="1.2"/>
<line x1="47.6" y1="119.1" x2="50.6" y2="119.1" stroke="#000" stroke-width="1.2"/>
<line x1="47.6" y1="129.9" x2="50.6" y2="129.9" stroke="#000" stroke-width="1.2"/>
<line x1="49.0" y1="48.3" x2="50.6" y2="48.3" stroke="#000" stroke-width="0.7"/>
<line x1="49.0" y1="50.9" x2="50.6" y2="50.9" stroke="#000" stroke-width="0.7"/>
<line x1="49.0" y1="53.5" x2="50.6" y2="53.5" stroke="#000" stroke-width="0.7"/>
<line x1="49.0" y1="56.1" x2="50.6" y2="56.1" stroke="#000" stroke-width="0.7"/>
<line x1="49.0" y1="58.7" x2="50.6" y2="58.7" stroke="#000" stroke-width="0.7"/>
<line x1="49.0" y1="61.3" x2="50.6" y2="61.3" stroke="#000" stroke-width="0.7"/>
<line x1="49.0" y1="63.9" x2="50.6" y2="63.9" stroke="#000" stroke-width="0.7"/>
<line x1="49.0" y1="66.5" x2="50.6" y2="66.5" stroke="#000" stroke-width="0.7"/>
<line x1="49.0" y1="69.1" x2="50.6" y2="69.1" stroke="#000" stroke-width="0.7"/>
<line x1="49.0" y1="71.7" x2="50.6" y2="71.7" stroke="#000" stroke-width="0.7"/>
<line x1="49.0" y1="74.3" x2="50.6" y2="74.3" stroke="#000" stroke-width="0.7"/>
<line x1="49.0" y1="76.9" x2="50.6" y2="76.9" stroke="#000" stroke-width="0.7"/>
<line x1="49.0" y1="79.5" x2="50.6" y2="79.5" stroke="#000" stroke-width="0.7"/>
<line x1="49.0" y1="82.1" x2="50.6" y2="82.1" stroke="#000" stroke-width="0.7"/>
<line x1="49.0" y1="84.7" x2="50.6" y2="84.7" stroke="#000" stroke-width="0.7"/>
<line x1="49.0" y1="87.3" x2="50.6" y2="87.3" stroke="#000" stroke-width="0.7"/>
<line x1="49.0" y1="89.9" x2="50.6" y2="89.9" stroke="#000" stroke-width="0.7"/>
<line x1="49.0" y1="92.5" x2="50.6" y2="92.5" stroke="#000" stroke-width="0.7"/>
<line x1="49.0" y1="95.1" x2="50.6" y2="95.1" stroke="#000" stroke-width="0.7"/>
<line x1="49.0" y1="97.7" x2="50.6" y2="97.7" stroke="#000" stroke-width="0.7"/>
<line x1="49.0" y1="100.3" x2="50.6" y2="100.3" stroke="#000" stroke-width="0.7"/>
<line x1="49.0" y1="102.9" x2="50.6" y2="102.9" stroke="#000" stroke-width="0.7"/>
<line x1="49.0" y1="105.5" x2="50.6" y2="105.5" stroke="#000" stroke-width="0.7"/>
<line x1="49.0" y1="108.1" x2="50.6" y2="108.1" stroke="#000" stroke-width="0.7"/>
<line x1="49.0" y1="110.7" x2="50.6" y2="110.7" stroke="#000" stroke-width="0.7"/>
<line x1="49.0" y1="113.3" x2="50.6" y2="113.3" stroke="#000" stroke-width="0.7"/>
<line x1="49.0" y1="115.9" x2="50.6" y2="115.9" stroke="#000" stroke-width="0.7"/>
<line x1="49.0" y1="118.5" x2="50.6" y2="118.5" stroke="#000" stroke-width="0.7"/>
<line x1="49.0" y1="121.1" x2="50.6" y2="121.1" stroke="#000" stroke-width="0.7"/>
<line x1="49.0" y1="123.7" x2="50.6" y2="123.7" stroke="#000" stroke-width="0.7"/>
<line x1="49.0" y1="126.3" x2="50.6" y2="126.3" stroke="#000" stroke-width="0.7"/>
<line x1="49.0" y1="128.9" x2="50.6" y2="128.9" stroke="#000" stroke-width="0.7"/>
<line x1="49.0" y1="131.5" x2="50.6" y2="131.5" stroke="#000" stroke-width="0.7"/>
<line x1="49.0" y1="134.1" x2="50.6" y2="134.1" stroke="#000" stroke-width="0.7"/>
<line x1="49.0" y1="136.7" x2="50.6" y2="136.7" stroke="#000" stroke-width="0.7"/>
<line x1="53.1" y1="138.3" x2="53.1" y2="139.9" stroke="#000" stroke-width="0.7"/>
<line x1="55.7" y1="138.3" x2="55.7" y2="139.9" stroke="#000" stroke-width="0.7"/>
<line x1="58.3" y1="138.3" x2="58.3" y2="139.9" stroke="#000" stroke-width="0.7"/>
<line x1="60.9" y1="138.3" x2="60.9" y2="139.9" stroke="#000" stroke-width="0.7"/>
<line x1="63.5" y1="138.3" x2="63.5" y2="139.9" stroke="#000" stroke-width="0.7"/>
<line x1="66.1" y1="138.3" x2="66.1" y2="139.9" stroke="#000" stroke-width="0.7"/>
<line x1="68.7" y1="138.3" x2="68.7" y2="139.9" stroke="#000" stroke-width="0.7"/>
<line x1="71.3" y1="138.3" x2="71.3" y2="139.9" stroke="#000" stroke-width="0.7"/>
<line x1="73.9" y1="138.3" x2="73.9" y2="139.9" stroke="#000" stroke-width="0.7"/>
<line x1="76.5" y1="138.3" x2="76.5" y2="139.9" stroke="#000" stroke-width="0.7"/>
<line x1="79.1" y1="138.3" x2="79.1" y2="139.9" stroke="#000" stroke-width="0.7"/>
<line x1="81.7" y1="138.3" x2="81.7" y2="139.9" stroke="#000" stroke-width="0.7"/>
<line x1="84.3" y1="138.3" x2="84.3" y2="139.9" stroke="#000" stroke-width="0.7"/>
<line x1="86.9" y1="138.3" x2="86.9" y2="139.9" stroke="#000" stroke-width="0.7"/>
<line x1="89.5" y1="138.3" x2="89.5" y2="139.9" stroke="#000" stroke-width="0.7"/>
<line x1="92.1" y1="138.3" x2="92.1" y2="139.9" stroke="#000" stroke-width="0.7"/>
<line x1="94.7" y1="138.3" x2="94.7" y2="139.9" stroke="#000" stroke-width="0.7"/>
<line x1="97.3" y1="138.3" x2="97.3" y2="139.9" stroke="#000" stroke-width="0.7"/>
<line x1="99.9" y1="138.3" x2="99.9" y2="139.9" stroke="#000" stroke-width="0.7"/>
<line x1="102.5" y1="138.3" x2="102.5" y2="139.9" stroke="#000" stroke-width="0.7"/>
<line x1="105.1" y1="138.3" x2="105.1" y2="139.9" stroke="#000" stroke-width="0.7"/>
<line x1="107.7" y1="138.3" x2="107.7" y2="139.9" stroke="#000" stroke-width="0.7"/>
<line x1="110.3" y1="138.3" x2="110.3" y2="139.9" stroke="#000" stroke-width="0.7"/>
<line x1="112.9" y1="138.3" x2="112.9" y2="139.9" stroke="#000" stroke-width="0.7"/>
<line x1="115.5" y1="138.3" x2="115.5" y2="139.9" stroke="#000" stroke-width="0.7"/>
<line x1="118.1" y1="138.3" x2="118.1" y2="139.9" stroke="#000" stroke-width="0.7"/>
<line x1="120.7" y1="138.3" x2="120.7" y2="139.9" stroke="#000" stroke-width="0.7"/>
<line x1="123.3" y1="138.3" x2="123.3" y2="139.9" stroke="#000" stroke-width="0.7"/>
<line x1="125.9" y1="138.3" x2="125.9" y2="139.9" stroke="#000" stroke-width="0.7"/>
<line x1="128.5" y1="138.3" x2="128.5" y2="139.9" stroke="#000" stroke-width="0.7"/>
<line x1="131.1" y1="138.3" x2="131.1" y2="139.9" stroke="#000" stroke-width="0.7"/>
<line x1="133.7" y1="138.3" x2="133.7" y2="139.9" stroke="#000" stroke-width="0.7"/>
<line x1="136.3" y1="138.3" x2="136.3" y2="139.9" stroke="#000" stroke-width="0.7"/>
<line x1="138.9" y1="138.3" x2="138.9" y2="139.9" stroke="#000" stroke-width="0.7"/>
<line x1="141.5" y1="138.3" x2="141.5" y2="139.9" stroke="#000" stroke-width="0.7"/>
<text x="57.7" y="150.5" font-size="8.6" stroke="#000" stroke-width="0.4">0</text>
<text x="65.4" y="150.5" font-size="8.6" stroke="#000" stroke-width="0.4">10<tspan font-size="5.2" dy="-2.8">2</tspan></text>
<text x="87.5" y="150.5" font-size="8.6" stroke="#000" stroke-width="0.4">10<tspan font-size="5.2" dy="-2.8">3</tspan></text>
<text x="109.6" y="150.5" font-size="8.6" stroke="#000" stroke-width="0.4">10<tspan font-size="5.2" dy="-2.8">4</tspan></text>
<text x="130.4" y="150.5" font-size="8.6" stroke="#000" stroke-width="0.4">10<tspan font-size="5.2" dy="-2.8">5</tspan></text>
<rect x="166.9" y="45.8" width="92.9" height="92.2" fill="none" stroke="#000" stroke-width="1.6"/>
<line x1="207.7" y1="45.8" x2="207.7" y2="138.0" stroke="#000" stroke-width="1.5"/>
<line x1="207.7" y1="72.7" x2="259.8" y2="72.7" stroke="#000" stroke-width="1.5"/>
<text x="210.8" y="56.5" font-size="12" textLength="13.3" lengthAdjust="spacingAndGlyphs" stroke="#000" stroke-width="0.45">16</text>
<text x="210.8" y="136.2" font-size="12" textLength="13.3" lengthAdjust="spacingAndGlyphs" stroke="#000" stroke-width="0.45">84</text>
<text x="150.5" y="56.4" font-size="9.3" stroke="#000" stroke-width="0.4">10<tspan font-size="5.6" dy="-3.1">5</tspan></text>
<text x="150.5" y="77.2" font-size="9.3" stroke="#000" stroke-width="0.4">10<tspan font-size="5.6" dy="-3.1">4</tspan></text>
<text x="150.5" y="98.8" font-size="9.3" stroke="#000" stroke-width="0.4">10<tspan font-size="5.6" dy="-3.1">3</tspan></text>
<text x="150.5" y="120.8" font-size="9.3" stroke="#000" stroke-width="0.4">10<tspan font-size="5.6" dy="-3.1">2</tspan></text>
<text x="154.5" y="130.8" font-size="9.3" stroke="#000" stroke-width="0.4">0</text>
<line x1="163.9" y1="54.7" x2="166.9" y2="54.7" stroke="#000" stroke-width="1.2"/>
<line x1="163.9" y1="75.4" x2="166.9" y2="75.4" stroke="#000" stroke-width="1.2"/>
<line x1="163.9" y1="97.0" x2="166.9" y2="97.0" stroke="#000" stroke-width="1.2"/>
<line x1="163.9" y1="119.1" x2="166.9" y2="119.1" stroke="#000" stroke-width="1.2"/>
<line x1="163.9" y1="129.9" x2="166.9" y2="129.9" stroke="#000" stroke-width="1.2"/>
<line x1="165.3" y1="48.3" x2="166.9" y2="48.3" stroke="#000" stroke-width="0.7"/>
<line x1="165.3" y1="50.9" x2="166.9" y2="50.9" stroke="#000" stroke-width="0.7"/>
<line x1="165.3" y1="53.5" x2="166.9" y2="53.5" stroke="#000" stroke-width="0.7"/>
<line x1="165.3" y1="56.1" x2="166.9" y2="56.1" stroke="#000" stroke-width="0.7"/>
<line x1="165.3" y1="58.7" x2="166.9" y2="58.7" stroke="#000" stroke-width="0.7"/>
<line x1="165.3" y1="61.3" x2="166.9" y2="61.3" stroke="#000" stroke-width="0.7"/>
<line x1="165.3" y1="63.9" x2="166.9" y2="63.9" stroke="#000" stroke-width="0.7"/>
<line x1="165.3" y1="66.5" x2="166.9" y2="66.5" stroke="#000" stroke-width="0.7"/>
<line x1="165.3" y1="69.1" x2="166.9" y2="69.1" stroke="#000" stroke-width="0.7"/>
<line x1="165.3" y1="71.7" x2="166.9" y2="71.7" stroke="#000" stroke-width="0.7"/>
<line x1="165.3" y1="74.3" x2="166.9" y2="74.3" stroke="#000" stroke-width="0.7"/>
<line x1="165.3" y1="76.9" x2="166.9" y2="76.9" stroke="#000" stroke-width="0.7"/>
<line x1="165.3" y1="79.5" x2="166.9" y2="79.5" stroke="#000" stroke-width="0.7"/>
<line x1="165.3" y1="82.1" x2="166.9" y2="82.1" stroke="#000" stroke-width="0.7"/>
<line x1="165.3" y1="84.7" x2="166.9" y2="84.7" stroke="#000" stroke-width="0.7"/>
<line x1="165.3" y1="87.3" x2="166.9" y2="87.3" stroke="#000" stroke-width="0.7"/>
<line x1="165.3" y1="89.9" x2="166.9" y2="89.9" stroke="#000" stroke-width="0.7"/>
<line x1="165.3" y1="92.5" x2="166.9" y2="92.5" stroke="#000" stroke-width="0.7"/>
<line x1="165.3" y1="95.1" x2="166.9" y2="95.1" stroke="#000" stroke-width="0.7"/>
<line x1="165.3" y1="97.7" x2="166.9" y2="97.7" stroke="#000" stroke-width="0.7"/>
<line x1="165.3" y1="100.3" x2="166.9" y2="100.3" stroke="#000" stroke-width="0.7"/>
<line x1="165.3" y1="102.9" x2="166.9" y2="102.9" stroke="#000" stroke-width="0.7"/>
<line x1="165.3" y1="105.5" x2="166.9" y2="105.5" stroke="#000" stroke-width="0.7"/>
<line x1="165.3" y1="108.1" x2="166.9" y2="108.1" stroke="#000" stroke-width="0.7"/>
<line x1="165.3" y1="110.7" x2="166.9" y2="110.7" stroke="#000" stroke-width="0.7"/>
<line x1="165.3" y1="113.3" x2="166.9" y2="113.3" stroke="#000" stroke-width="0.7"/>
<line x1="165.3" y1="115.9" x2="166.9" y2="115.9" stroke="#000" stroke-width="0.7"/>
<line x1="165.3" y1="118.5" x2="166.9" y2="118.5" stroke="#000" stroke-width="0.7"/>
<line x1="165.3" y1="121.1" x2="166.9" y2="121.1" stroke="#000" stroke-width="0.7"/>
<line x1="165.3" y1="123.7" x2="166.9" y2="123.7" stroke="#000" stroke-width="0.7"/>
<line x1="165.3" y1="126.3" x2="166.9" y2="126.3" stroke="#000" stroke-width="0.7"/>
<line x1="165.3" y1="128.9" x2="166.9" y2="128.9" stroke="#000" stroke-width="0.7"/>
<line x1="165.3" y1="131.5" x2="166.9" y2="131.5" stroke="#000" stroke-width="0.7"/>
<line x1="165.3" y1="134.1" x2="166.9" y2="134.1" stroke="#000" stroke-width="0.7"/>
<line x1="165.3" y1="136.7" x2="166.9" y2="136.7" stroke="#000" stroke-width="0.7"/>
<line x1="169.4" y1="138.0" x2="169.4" y2="139.6" stroke="#000" stroke-width="0.7"/>
<line x1="172.0" y1="138.0" x2="172.0" y2="139.6" stroke="#000" stroke-width="0.7"/>
<line x1="174.6" y1="138.0" x2="174.6" y2="139.6" stroke="#000" stroke-width="0.7"/>
<line x1="177.2" y1="138.0" x2="177.2" y2="139.6" stroke="#000" stroke-width="0.7"/>
<line x1="179.8" y1="138.0" x2="179.8" y2="139.6" stroke="#000" stroke-width="0.7"/>
<line x1="182.4" y1="138.0" x2="182.4" y2="139.6" stroke="#000" stroke-width="0.7"/>
<line x1="185.0" y1="138.0" x2="185.0" y2="139.6" stroke="#000" stroke-width="0.7"/>
<line x1="187.6" y1="138.0" x2="187.6" y2="139.6" stroke="#000" stroke-width="0.7"/>
<line x1="190.2" y1="138.0" x2="190.2" y2="139.6" stroke="#000" stroke-width="0.7"/>
<line x1="192.8" y1="138.0" x2="192.8" y2="139.6" stroke="#000" stroke-width="0.7"/>
<line x1="195.4" y1="138.0" x2="195.4" y2="139.6" stroke="#000" stroke-width="0.7"/>
<line x1="198.0" y1="138.0" x2="198.0" y2="139.6" stroke="#000" stroke-width="0.7"/>
<line x1="200.6" y1="138.0" x2="200.6" y2="139.6" stroke="#000" stroke-width="0.7"/>
<line x1="203.2" y1="138.0" x2="203.2" y2="139.6" stroke="#000" stroke-width="0.7"/>
<line x1="205.8" y1="138.0" x2="205.8" y2="139.6" stroke="#000" stroke-width="0.7"/>
<line x1="208.4" y1="138.0" x2="208.4" y2="139.6" stroke="#000" stroke-width="0.7"/>
<line x1="211.0" y1="138.0" x2="211.0" y2="139.6" stroke="#000" stroke-width="0.7"/>
<line x1="213.6" y1="138.0" x2="213.6" y2="139.6" stroke="#000" stroke-width="0.7"/>
<line x1="216.2" y1="138.0" x2="216.2" y2="139.6" stroke="#000" stroke-width="0.7"/>
<line x1="218.8" y1="138.0" x2="218.8" y2="139.6" stroke="#000" stroke-width="0.7"/>
<line x1="221.4" y1="138.0" x2="221.4" y2="139.6" stroke="#000" stroke-width="0.7"/>
<line x1="224.0" y1="138.0" x2="224.0" y2="139.6" stroke="#000" stroke-width="0.7"/>
<line x1="226.6" y1="138.0" x2="226.6" y2="139.6" stroke="#000" stroke-width="0.7"/>
<line x1="229.2" y1="138.0" x2="229.2" y2="139.6" stroke="#000" stroke-width="0.7"/>
<line x1="231.8" y1="138.0" x2="231.8" y2="139.6" stroke="#000" stroke-width="0.7"/>
<line x1="234.4" y1="138.0" x2="234.4" y2="139.6" stroke="#000" stroke-width="0.7"/>
<line x1="237.0" y1="138.0" x2="237.0" y2="139.6" stroke="#000" stroke-width="0.7"/>
<line x1="239.6" y1="138.0" x2="239.6" y2="139.6" stroke="#000" stroke-width="0.7"/>
<line x1="242.2" y1="138.0" x2="242.2" y2="139.6" stroke="#000" stroke-width="0.7"/>
<line x1="244.8" y1="138.0" x2="244.8" y2="139.6" stroke="#000" stroke-width="0.7"/>
<line x1="247.4" y1="138.0" x2="247.4" y2="139.6" stroke="#000" stroke-width="0.7"/>
<line x1="250.0" y1="138.0" x2="250.0" y2="139.6" stroke="#000" stroke-width="0.7"/>
<line x1="252.6" y1="138.0" x2="252.6" y2="139.6" stroke="#000" stroke-width="0.7"/>
<line x1="255.2" y1="138.0" x2="255.2" y2="139.6" stroke="#000" stroke-width="0.7"/>
<line x1="257.8" y1="138.0" x2="257.8" y2="139.6" stroke="#000" stroke-width="0.7"/>
<text x="174.0" y="150.5" font-size="8.6" stroke="#000" stroke-width="0.4">0</text>
<text x="181.7" y="150.5" font-size="8.6" stroke="#000" stroke-width="0.4">10<tspan font-size="5.2" dy="-2.8">2</tspan></text>
<text x="203.8" y="150.5" font-size="8.6" stroke="#000" stroke-width="0.4">10<tspan font-size="5.2" dy="-2.8">3</tspan></text>
<text x="225.9" y="150.5" font-size="8.6" stroke="#000" stroke-width="0.4">10<tspan font-size="5.2" dy="-2.8">4</tspan></text>
<text x="246.7" y="150.5" font-size="8.6" stroke="#000" stroke-width="0.4">10<tspan font-size="5.2" dy="-2.8">5</tspan></text>
<rect x="282.3" y="45.8" width="93.7" height="92.7" fill="none" stroke="#000" stroke-width="1.6"/>
<line x1="324.0" y1="45.8" x2="324.0" y2="138.5" stroke="#000" stroke-width="1.5"/>
<line x1="324.0" y1="72.7" x2="376.0" y2="72.7" stroke="#000" stroke-width="1.5"/>
<text x="326.7" y="58.5" font-size="12" textLength="13.3" lengthAdjust="spacingAndGlyphs" stroke="#000" stroke-width="0.45">25</text>
<text x="327.1" y="136.2" font-size="12" textLength="13.3" lengthAdjust="spacingAndGlyphs" stroke="#000" stroke-width="0.45">74</text>
<text x="265.9" y="56.4" font-size="9.3" stroke="#000" stroke-width="0.4">10<tspan font-size="5.6" dy="-3.1">5</tspan></text>
<text x="265.9" y="77.2" font-size="9.3" stroke="#000" stroke-width="0.4">10<tspan font-size="5.6" dy="-3.1">4</tspan></text>
<text x="265.9" y="98.8" font-size="9.3" stroke="#000" stroke-width="0.4">10<tspan font-size="5.6" dy="-3.1">3</tspan></text>
<text x="265.9" y="120.8" font-size="9.3" stroke="#000" stroke-width="0.4">10<tspan font-size="5.6" dy="-3.1">2</tspan></text>
<text x="269.9" y="130.8" font-size="9.3" stroke="#000" stroke-width="0.4">0</text>
<line x1="279.3" y1="54.7" x2="282.3" y2="54.7" stroke="#000" stroke-width="1.2"/>
<line x1="279.3" y1="75.4" x2="282.3" y2="75.4" stroke="#000" stroke-width="1.2"/>
<line x1="279.3" y1="97.0" x2="282.3" y2="97.0" stroke="#000" stroke-width="1.2"/>
<line x1="279.3" y1="119.1" x2="282.3" y2="119.1" stroke="#000" stroke-width="1.2"/>
<line x1="279.3" y1="129.9" x2="282.3" y2="129.9" stroke="#000" stroke-width="1.2"/>
<line x1="280.7" y1="48.3" x2="282.3" y2="48.3" stroke="#000" stroke-width="0.7"/>
<line x1="280.7" y1="50.9" x2="282.3" y2="50.9" stroke="#000" stroke-width="0.7"/>
<line x1="280.7" y1="53.5" x2="282.3" y2="53.5" stroke="#000" stroke-width="0.7"/>
<line x1="280.7" y1="56.1" x2="282.3" y2="56.1" stroke="#000" stroke-width="0.7"/>
<line x1="280.7" y1="58.7" x2="282.3" y2="58.7" stroke="#000" stroke-width="0.7"/>
<line x1="280.7" y1="61.3" x2="282.3" y2="61.3" stroke="#000" stroke-width="0.7"/>
<line x1="280.7" y1="63.9" x2="282.3" y2="63.9" stroke="#000" stroke-width="0.7"/>
<line x1="280.7" y1="66.5" x2="282.3" y2="66.5" stroke="#000" stroke-width="0.7"/>
<line x1="280.7" y1="69.1" x2="282.3" y2="69.1" stroke="#000" stroke-width="0.7"/>
<line x1="280.7" y1="71.7" x2="282.3" y2="71.7" stroke="#000" stroke-width="0.7"/>
<line x1="280.7" y1="74.3" x2="282.3" y2="74.3" stroke="#000" stroke-width="0.7"/>
<line x1="280.7" y1="76.9" x2="282.3" y2="76.9" stroke="#000" stroke-width="0.7"/>
<line x1="280.7" y1="79.5" x2="282.3" y2="79.5" stroke="#000" stroke-width="0.7"/>
<line x1="280.7" y1="82.1" x2="282.3" y2="82.1" stroke="#000" stroke-width="0.7"/>
<line x1="280.7" y1="84.7" x2="282.3" y2="84.7" stroke="#000" stroke-width="0.7"/>
<line x1="280.7" y1="87.3" x2="282.3" y2="87.3" stroke="#000" stroke-width="0.7"/>
<line x1="280.7" y1="89.9" x2="282.3" y2="89.9" stroke="#000" stroke-width="0.7"/>
<line x1="280.7" y1="92.5" x2="282.3" y2="92.5" stroke="#000" stroke-width="0.7"/>
<line x1="280.7" y1="95.1" x2="282.3" y2="95.1" stroke="#000" stroke-width="0.7"/>
<line x1="280.7" y1="97.7" x2="282.3" y2="97.7" stroke="#000" stroke-width="0.7"/>
<line x1="280.7" y1="100.3" x2="282.3" y2="100.3" stroke="#000" stroke-width="0.7"/>
<line x1="280.7" y1="102.9" x2="282.3" y2="102.9" stroke="#000" stroke-width="0.7"/>
<line x1="280.7" y1="105.5" x2="282.3" y2="105.5" stroke="#000" stroke-width="0.7"/>
<line x1="280.7" y1="108.1" x2="282.3" y2="108.1" stroke="#000" stroke-width="0.7"/>
<line x1="280.7" y1="110.7" x2="282.3" y2="110.7" stroke="#000" stroke-width="0.7"/>
<line x1="280.7" y1="113.3" x2="282.3" y2="113.3" stroke="#000" stroke-width="0.7"/>
<line x1="280.7" y1="115.9" x2="282.3" y2="115.9" stroke="#000" stroke-width="0.7"/>
<line x1="280.7" y1="118.5" x2="282.3" y2="118.5" stroke="#000" stroke-width="0.7"/>
<line x1="280.7" y1="121.1" x2="282.3" y2="121.1" stroke="#000" stroke-width="0.7"/>
<line x1="280.7" y1="123.7" x2="282.3" y2="123.7" stroke="#000" stroke-width="0.7"/>
<line x1="280.7" y1="126.3" x2="282.3" y2="126.3" stroke="#000" stroke-width="0.7"/>
<line x1="280.7" y1="128.9" x2="282.3" y2="128.9" stroke="#000" stroke-width="0.7"/>
<line x1="280.7" y1="131.5" x2="282.3" y2="131.5" stroke="#000" stroke-width="0.7"/>
<line x1="280.7" y1="134.1" x2="282.3" y2="134.1" stroke="#000" stroke-width="0.7"/>
<line x1="280.7" y1="136.7" x2="282.3" y2="136.7" stroke="#000" stroke-width="0.7"/>
<line x1="284.8" y1="138.5" x2="284.8" y2="140.1" stroke="#000" stroke-width="0.7"/>
<line x1="287.4" y1="138.5" x2="287.4" y2="140.1" stroke="#000" stroke-width="0.7"/>
<line x1="290.0" y1="138.5" x2="290.0" y2="140.1" stroke="#000" stroke-width="0.7"/>
<line x1="292.6" y1="138.5" x2="292.6" y2="140.1" stroke="#000" stroke-width="0.7"/>
<line x1="295.2" y1="138.5" x2="295.2" y2="140.1" stroke="#000" stroke-width="0.7"/>
<line x1="297.8" y1="138.5" x2="297.8" y2="140.1" stroke="#000" stroke-width="0.7"/>
<line x1="300.4" y1="138.5" x2="300.4" y2="140.1" stroke="#000" stroke-width="0.7"/>
<line x1="303.0" y1="138.5" x2="303.0" y2="140.1" stroke="#000" stroke-width="0.7"/>
<line x1="305.6" y1="138.5" x2="305.6" y2="140.1" stroke="#000" stroke-width="0.7"/>
<line x1="308.2" y1="138.5" x2="308.2" y2="140.1" stroke="#000" stroke-width="0.7"/>
<line x1="310.8" y1="138.5" x2="310.8" y2="140.1" stroke="#000" stroke-width="0.7"/>
<line x1="313.4" y1="138.5" x2="313.4" y2="140.1" stroke="#000" stroke-width="0.7"/>
<line x1="316.0" y1="138.5" x2="316.0" y2="140.1" stroke="#000" stroke-width="0.7"/>
<line x1="318.6" y1="138.5" x2="318.6" y2="140.1" stroke="#000" stroke-width="0.7"/>
<line x1="321.2" y1="138.5" x2="321.2" y2="140.1" stroke="#000" stroke-width="0.7"/>
<line x1="323.8" y1="138.5" x2="323.8" y2="140.1" stroke="#000" stroke-width="0.7"/>
<line x1="326.4" y1="138.5" x2="326.4" y2="140.1" stroke="#000" stroke-width="0.7"/>
<line x1="329.0" y1="138.5" x2="329.0" y2="140.1" stroke="#000" stroke-width="0.7"/>
<line x1="331.6" y1="138.5" x2="331.6" y2="140.1" stroke="#000" stroke-width="0.7"/>
<line x1="334.2" y1="138.5" x2="334.2" y2="140.1" stroke="#000" stroke-width="0.7"/>
<line x1="336.8" y1="138.5" x2="336.8" y2="140.1" stroke="#000" stroke-width="0.7"/>
<line x1="339.4" y1="138.5" x2="339.4" y2="140.1" stroke="#000" stroke-width="0.7"/>
<line x1="342.0" y1="138.5" x2="342.0" y2="140.1" stroke="#000" stroke-width="0.7"/>
<line x1="344.6" y1="138.5" x2="344.6" y2="140.1" stroke="#000" stroke-width="0.7"/>
<line x1="347.2" y1="138.5" x2="347.2" y2="140.1" stroke="#000" stroke-width="0.7"/>
<line x1="349.8" y1="138.5" x2="349.8" y2="140.1" stroke="#000" stroke-width="0.7"/>
<line x1="352.4" y1="138.5" x2="352.4" y2="140.1" stroke="#000" stroke-width="0.7"/>
<line x1="355.0" y1="138.5" x2="355.0" y2="140.1" stroke="#000" stroke-width="0.7"/>
<line x1="357.6" y1="138.5" x2="357.6" y2="140.1" stroke="#000" stroke-width="0.7"/>
<line x1="360.2" y1="138.5" x2="360.2" y2="140.1" stroke="#000" stroke-width="0.7"/>
<line x1="362.8" y1="138.5" x2="362.8" y2="140.1" stroke="#000" stroke-width="0.7"/>
<line x1="365.4" y1="138.5" x2="365.4" y2="140.1" stroke="#000" stroke-width="0.7"/>
<line x1="368.0" y1="138.5" x2="368.0" y2="140.1" stroke="#000" stroke-width="0.7"/>
<line x1="370.6" y1="138.5" x2="370.6" y2="140.1" stroke="#000" stroke-width="0.7"/>
<line x1="373.2" y1="138.5" x2="373.2" y2="140.1" stroke="#000" stroke-width="0.7"/>
<line x1="375.8" y1="138.5" x2="375.8" y2="140.1" stroke="#000" stroke-width="0.7"/>
<text x="289.4" y="150.5" font-size="8.6" stroke="#000" stroke-width="0.4">0</text>
<text x="297.1" y="150.5" font-size="8.6" stroke="#000" stroke-width="0.4">10<tspan font-size="5.2" dy="-2.8">2</tspan></text>
<text x="319.2" y="150.5" font-size="8.6" stroke="#000" stroke-width="0.4">10<tspan font-size="5.2" dy="-2.8">3</tspan></text>
<text x="341.3" y="150.5" font-size="8.6" stroke="#000" stroke-width="0.4">10<tspan font-size="5.2" dy="-2.8">4</tspan></text>
<text x="362.1" y="150.5" font-size="8.6" stroke="#000" stroke-width="0.4">10<tspan font-size="5.2" dy="-2.8">5</tspan></text>
<text x="0.8" y="219.2" font-size="14" textLength="98.0" lengthAdjust="spacingAndGlyphs" stroke="#000" stroke-width="0.6">CD11b<tspan font-size="7.7" dy="-5.0">+</tspan><tspan dy="5.0">CD11c</tspan><tspan font-size="7.7" dy="-5.0">+</tspan></text>
<text x="264.3" y="219.0" font-size="14" textLength="100.5" lengthAdjust="spacingAndGlyphs" stroke="#000" stroke-width="0.6">CD11b<tspan font-size="7.7" dy="-5.0">+</tspan><tspan dy="5.0">CD11c</tspan><tspan font-size="7.7" dy="-5.0">−</tspan></text>
<line x1="50.6" y1="248.9" x2="50.6" y2="369.8" stroke="#000" stroke-width="1.5"/>
<line x1="45.6" y1="369.8" x2="50.6" y2="369.8" stroke="#000" stroke-width="1.5"/>
<text x="43.4" y="375.3" font-size="12.5" text-anchor="end" stroke="#000" stroke-width="0.6">0</text>
<line x1="45.6" y1="329.5" x2="50.6" y2="329.5" stroke="#000" stroke-width="1.5"/>
<text x="43.4" y="335.0" font-size="12.5" text-anchor="end" stroke="#000" stroke-width="0.6">10</text>
<line x1="45.6" y1="289.2" x2="50.6" y2="289.2" stroke="#000" stroke-width="1.5"/>
<text x="43.4" y="294.7" font-size="12.5" text-anchor="end" stroke="#000" stroke-width="0.6">20</text>
<line x1="45.6" y1="248.9" x2="50.6" y2="248.9" stroke="#000" stroke-width="1.5"/>
<text x="43.4" y="254.4" font-size="12.5" text-anchor="end" stroke="#000" stroke-width="0.6">30</text>
<line x1="50.6" y1="369.8" x2="122.1" y2="369.8" stroke="#000" stroke-width="1.6"/>
<line x1="61.5" y1="369.8" x2="61.5" y2="374.8" stroke="#000" stroke-width="1.5"/>
<line x1="85.6" y1="369.8" x2="85.6" y2="374.8" stroke="#000" stroke-width="1.5"/>
<line x1="109.6" y1="369.8" x2="109.6" y2="374.8" stroke="#000" stroke-width="1.5"/>
<rect x="54.2" y="306.1" width="15.2" height="63.7" fill="#fff" stroke="#000" stroke-width="1.5"/>
<line x1="85.3" y1="307.3" x2="85.3" y2="311.4" stroke="#000" stroke-width="1.5"/>
<line x1="80.5" y1="307.3" x2="90.1" y2="307.3" stroke="#000" stroke-width="1.5"/>
<rect x="78.0" y="312.1" width="14.5" height="57.7" fill="#8c8c8c" stroke="#000" stroke-width="1.5"/>
<line x1="109.6" y1="267.8" x2="109.6" y2="270.7" stroke="#000" stroke-width="1.5"/>
<line x1="104.1" y1="267.8" x2="115.1" y2="267.8" stroke="#000" stroke-width="1.5"/>
<rect x="101.2" y="271.4" width="16.9" height="98.4" fill="#000" stroke="#000" stroke-width="1.5"/>
<line x1="83.1" y1="260.3" x2="111.5" y2="260.3" stroke="#000" stroke-width="2"/>
<text x="97.4" y="261.5" font-size="14.5" text-anchor="middle" stroke="#000" stroke-width="0.2">***</text>
<text x="22.4" y="310.2" font-size="13" text-anchor="middle" textLength="151.0" lengthAdjust="spacingAndGlyphs" transform="rotate(-90 22.4 310.2)" stroke="#000" stroke-width="0.6">% CD11b<tspan font-size="8.1" dy="-4.9">+</tspan><tspan dy="4.9">CD11c</tspan><tspan font-size="8.1" dy="-4.9">+</tspan><tspan dy="4.9"> MDSCs</tspan></text>
<line x1="198.4" y1="248.4" x2="198.4" y2="370.0" stroke="#000" stroke-width="1.5"/>
<line x1="194.4" y1="370.0" x2="198.4" y2="370.0" stroke="#000" stroke-width="1.5"/>
<text x="192.4" y="375.5" font-size="12.5" text-anchor="end" stroke="#000" stroke-width="0.6">0</text>
<line x1="194.4" y1="345.7" x2="198.4" y2="345.7" stroke="#000" stroke-width="1.5"/>
<text x="192.4" y="351.2" font-size="12.5" text-anchor="end" stroke="#000" stroke-width="0.6">5</text>
<line x1="194.4" y1="321.4" x2="198.4" y2="321.4" stroke="#000" stroke-width="1.5"/>
<text x="192.4" y="326.9" font-size="12.5" text-anchor="end" stroke="#000" stroke-width="0.6">10</text>
<line x1="194.4" y1="297.0" x2="198.4" y2="297.0" stroke="#000" stroke-width="1.5"/>
<text x="192.4" y="302.5" font-size="12.5" text-anchor="end" stroke="#000" stroke-width="0.6">15</text>
<line x1="194.4" y1="272.7" x2="198.4" y2="272.7" stroke="#000" stroke-width="1.5"/>
<text x="192.4" y="278.2" font-size="12.5" text-anchor="end" stroke="#000" stroke-width="0.6">20</text>
<line x1="194.4" y1="248.4" x2="198.4" y2="248.4" stroke="#000" stroke-width="1.5"/>
<text x="192.4" y="253.9" font-size="12.5" text-anchor="end" stroke="#000" stroke-width="0.6">25</text>
<line x1="198.4" y1="370.0" x2="244.0" y2="370.0" stroke="#000" stroke-width="1.6"/>
<line x1="211.0" y1="370.0" x2="211.0" y2="375.0" stroke="#000" stroke-width="1.5"/>
<line x1="234.6" y1="370.0" x2="234.6" y2="375.0" stroke="#000" stroke-width="1.5"/>
<line x1="211.2" y1="349.6" x2="211.2" y2="357.5" stroke="#000" stroke-width="1.5"/>
<line x1="206.2" y1="349.6" x2="216.2" y2="349.6" stroke="#000" stroke-width="1.5"/>
<rect x="203.6" y="358.3" width="15.3" height="11.7" fill="#8c8c8c" stroke="#000" stroke-width="1.5"/>
<line x1="234.2" y1="269.8" x2="234.2" y2="299.7" stroke="#000" stroke-width="1.5"/>
<line x1="229.2" y1="269.8" x2="239.3" y2="269.8" stroke="#000" stroke-width="1.5"/>
<rect x="226.6" y="300.5" width="15.4" height="69.5" fill="#000" stroke="#000" stroke-width="1.5"/>
<line x1="208.1" y1="261.5" x2="236.2" y2="261.5" stroke="#000" stroke-width="2"/>
<text x="222.3" y="263.4" font-size="14.5" text-anchor="middle" stroke="#000" stroke-width="0.2">*</text>
<text x="160.0" y="308.8" font-size="13" text-anchor="middle" textLength="138.4" lengthAdjust="spacingAndGlyphs" transform="rotate(-90 160.0 308.8)" stroke="#000" stroke-width="0.6">CD11b<tspan font-size="8.1" dy="-4.9">+</tspan><tspan dy="4.9">CD11c</tspan><tspan font-size="8.1" dy="-4.9">+</tspan><tspan dy="4.9"> MDSCs</tspan></text>
<text x="172.5" y="308.0" font-size="12" text-anchor="middle" textLength="32.8" lengthAdjust="spacingAndGlyphs" transform="rotate(-90 172.5 308.0)" stroke="#000" stroke-width="0.6">(*10<tspan font-size="7.4" dy="-4.6">4</tspan><tspan dy="4.6">)</tspan></text>
<line x1="323.7" y1="248.2" x2="323.7" y2="370.2" stroke="#000" stroke-width="1.5"/>
<line x1="318.7" y1="370.2" x2="323.7" y2="370.2" stroke="#000" stroke-width="1.5"/>
<text x="316.7" y="376.0" font-size="12.5" text-anchor="end" stroke="#000" stroke-width="0.6">0</text>
<line x1="318.7" y1="345.8" x2="323.7" y2="345.8" stroke="#000" stroke-width="1.5"/>
<text x="316.7" y="351.6" font-size="12.5" text-anchor="end" stroke="#000" stroke-width="0.6">20</text>
<line x1="318.7" y1="321.4" x2="323.7" y2="321.4" stroke="#000" stroke-width="1.5"/>
<text x="316.7" y="327.2" font-size="12.5" text-anchor="end" stroke="#000" stroke-width="0.6">40</text>
<line x1="318.7" y1="297.0" x2="323.7" y2="297.0" stroke="#000" stroke-width="1.5"/>
<text x="316.7" y="302.8" font-size="12.5" text-anchor="end" stroke="#000" stroke-width="0.6">60</text>
<line x1="318.7" y1="272.6" x2="323.7" y2="272.6" stroke="#000" stroke-width="1.5"/>
<text x="316.7" y="278.4" font-size="12.5" text-anchor="end" stroke="#000" stroke-width="0.6">80</text>
<line x1="318.7" y1="248.2" x2="323.7" y2="248.2" stroke="#000" stroke-width="1.5"/>
<text x="316.7" y="254.0" font-size="12.5" text-anchor="end" stroke="#000" stroke-width="0.6">100</text>
<line x1="323.7" y1="370.2" x2="392.3" y2="370.2" stroke="#000" stroke-width="1.6"/>
<line x1="335.0" y1="370.2" x2="335.0" y2="375.2" stroke="#000" stroke-width="1.5"/>
<line x1="358.1" y1="370.2" x2="358.1" y2="375.2" stroke="#000" stroke-width="1.5"/>
<line x1="380.8" y1="370.2" x2="380.8" y2="375.2" stroke="#000" stroke-width="1.5"/>
<rect x="327.2" y="271.3" width="14.7" height="98.9" fill="#fff" stroke="#000" stroke-width="1.5"/>
<line x1="358.2" y1="266.1" x2="358.2" y2="267.1" stroke="#000" stroke-width="1.5"/>
<line x1="353.9" y1="266.1" x2="362.5" y2="266.1" stroke="#000" stroke-width="1.5"/>
<rect x="351.8" y="267.9" width="12.9" height="102.3" fill="#8c8c8c" stroke="#000" stroke-width="1.5"/>
<rect x="373.4" y="280.7" width="15.2" height="89.5" fill="#000" stroke="#000" stroke-width="1.5"/>
<line x1="355.8" y1="260.3" x2="383.5" y2="260.3" stroke="#000" stroke-width="2"/>
<text x="370.1" y="261.5" font-size="14.5" text-anchor="middle" stroke="#000" stroke-width="0.2">***</text>
<text x="293.0" y="312.5" font-size="13" text-anchor="middle" textLength="157.0" lengthAdjust="spacingAndGlyphs" transform="rotate(-90 293.0 312.5)" stroke="#000" stroke-width="0.6">% CD11b<tspan font-size="8.1" dy="-4.9">+</tspan><tspan dy="4.9">CD11c</tspan><tspan font-size="8.1" dy="-4.9">−</tspan><tspan dy="4.9"> MDSCs</tspan></text>
<line x1="473.0" y1="247.9" x2="473.0" y2="369.9" stroke="#000" stroke-width="1.5"/>
<line x1="468.0" y1="369.9" x2="473.0" y2="369.9" stroke="#000" stroke-width="1.5"/>
<text x="466.0" y="375.7" font-size="12.5" text-anchor="end" stroke="#000" stroke-width="0.6">0</text>
<line x1="468.0" y1="329.2" x2="473.0" y2="329.2" stroke="#000" stroke-width="1.5"/>
<text x="466.0" y="335.0" font-size="12.5" text-anchor="end" stroke="#000" stroke-width="0.6">20</text>
<line x1="468.0" y1="288.6" x2="473.0" y2="288.6" stroke="#000" stroke-width="1.5"/>
<text x="466.0" y="294.4" font-size="12.5" text-anchor="end" stroke="#000" stroke-width="0.6">40</text>
<line x1="468.0" y1="247.9" x2="473.0" y2="247.9" stroke="#000" stroke-width="1.5"/>
<text x="466.0" y="253.7" font-size="12.5" text-anchor="end" stroke="#000" stroke-width="0.6">60</text>
<line x1="473.0" y1="369.9" x2="519.5" y2="369.9" stroke="#000" stroke-width="1.6"/>
<line x1="485.3" y1="369.9" x2="485.3" y2="374.9" stroke="#000" stroke-width="1.5"/>
<line x1="508.5" y1="369.9" x2="508.5" y2="374.9" stroke="#000" stroke-width="1.5"/>
<line x1="485.1" y1="321.7" x2="485.1" y2="341.0" stroke="#000" stroke-width="1.5"/>
<line x1="480.4" y1="321.7" x2="489.8" y2="321.7" stroke="#000" stroke-width="1.5"/>
<rect x="477.9" y="341.8" width="14.3" height="28.1" fill="#8c8c8c" stroke="#000" stroke-width="1.5"/>
<line x1="508.0" y1="272.9" x2="508.0" y2="299.6" stroke="#000" stroke-width="1.5"/>
<line x1="503.1" y1="272.9" x2="512.9" y2="272.9" stroke="#000" stroke-width="1.5"/>
<rect x="500.6" y="300.3" width="14.9" height="69.6" fill="#000" stroke="#000" stroke-width="1.5"/>
<line x1="483.0" y1="265.6" x2="510.4" y2="265.6" stroke="#000" stroke-width="2"/>
<text x="485.0" y="261.7" font-size="13" textLength="24.4" lengthAdjust="spacingAndGlyphs" stroke="#000" stroke-width="0.6">n.s.</text>
<text x="433.5" y="308.9" font-size="13" text-anchor="middle" textLength="137.4" lengthAdjust="spacingAndGlyphs" transform="rotate(-90 433.5 308.9)" stroke="#000" stroke-width="0.6">CD11b<tspan font-size="8.1" dy="-4.9">+</tspan><tspan dy="4.9">CD11c</tspan><tspan font-size="8.1" dy="-4.9">−</tspan><tspan dy="4.9"> MDSCs</tspan></text>
<text x="448.3" y="308.9" font-size="12" text-anchor="middle" textLength="31.6" lengthAdjust="spacingAndGlyphs" transform="rotate(-90 448.3 308.9)" stroke="#000" stroke-width="0.6">(*10<tspan font-size="7.4" dy="-4.6">4</tspan><tspan dy="4.6">)</tspan></text>
<rect x="49.9" y="389.5" width="12.5" height="12.4" fill="#fff" stroke="#000" stroke-width="1.4"/>
<rect x="49.9" y="405.6" width="12.5" height="10.6" fill="#8c8c8c" stroke="#000" stroke-width="1.4"/>
<rect x="49.9" y="421.7" width="12.5" height="13.0" fill="#000" stroke="#000" stroke-width="1.4"/>
<text x="68.2" y="399.6" font-size="12.3" textLength="76.8" lengthAdjust="spacingAndGlyphs" stroke="#000" stroke-width="0.6">day4-MDSCs</text>
<text x="68.2" y="415.8" font-size="12.3" textLength="66.4" lengthAdjust="spacingAndGlyphs" stroke="#000" stroke-width="0.6">BM-MDSCs</text>
<text x="68.2" y="432.0" font-size="12.3" textLength="84.8" lengthAdjust="spacingAndGlyphs" stroke="#000" stroke-width="0.6">GVHD-MDSCs</text>
<text x="-2.0" y="465.7" font-size="26.5" stroke="#000" stroke-width="0.5">B</text>
<line x1="25.0" y1="468.0" x2="25.0" y2="571.0" stroke="#000" stroke-width="1.8"/>
<text x="18.4" y="537.7" font-size="14.5" text-anchor="middle" textLength="68.4" lengthAdjust="spacingAndGlyphs" transform="rotate(-90 18.4 537.7)" stroke="#000" stroke-width="0.6">% of Max.</text>
<path d="M53.5 565.5 L53.5 529.0 L54.4 529.0 L55.1 529.8 L55.8 532.0 L56.5 531.2 L57.2 529.9 L58.0 526.0 L58.9 524.7 L59.8 524.6 L61.0 529.0 L62.0 530.0 L62.8 527.2 L63.5 525.0 L64.4 523.2 L65.3 522.5 L66.1 522.9 L66.9 521.9 L67.7 522.5 L68.5 521.4 L69.2 516.7 L70.0 516.0 L70.9 515.5 L71.8 511.6 L72.6 507.1 L73.4 502.9 L74.1 501.1 L74.9 497.6 L75.6 495.2 L76.3 493.0 L77.1 492.1 L77.8 489.8 L78.5 488.5 L79.3 485.2 L80.0 483.3 L80.8 480.4 L81.6 477.8 L82.3 483.2 L83.0 487.0 L83.8 489.8 L84.5 492.5 L85.3 495.4 L86.0 500.7 L87.0 522.5 L87.7 524.4 L88.5 524.6 L89.2 526.8 L89.9 527.6 L90.7 531.7 L91.4 535.5 L92.1 537.2 L92.9 538.6 L93.6 542.0 L94.3 541.8 L95.0 544.3 L95.9 547.6 L96.8 550.8 L97.2 555.0 L97.9 556.1 L98.6 556.0 L99.3 556.3 L100.1 557.5 L100.8 558.2 L101.5 558.4 L102.2 558.6 L103.0 559.4 L103.7 560.0 L104.4 559.8 L105.2 559.9 L105.9 560.6 L106.7 560.9 L107.4 561.0 L108.2 561.5 L109.0 560.7 L109.8 561.1 L110.5 561.2 L111.3 561.7 L112.1 561.3 L112.9 562.4 L113.7 562.8 L114.4 562.7 L115.2 563.8 L116.0 563.9 L116.8 563.9 L117.5 564.2 L118.3 564.2 L119.0 564.5 L119.8 563.9 L120.5 564.6 L121.3 564.7 L122.0 564.0 L122.8 564.8 L123.5 564.7 L124.3 565.1 L125.0 565.0 L125.0 565.5Z" fill="#808080"/>
<rect x="52.7" y="472.7" width="91.1" height="92.9" fill="none" stroke="#000" stroke-width="1.6"/>
<text x="47.5" y="569.3" font-size="9.5" text-anchor="end" textLength="4.8" lengthAdjust="spacingAndGlyphs" stroke="#000" stroke-width="0.6">0</text>
<line x1="49.7" y1="565.4" x2="52.7" y2="565.4" stroke="#000" stroke-width="1.3"/>
<text x="47.5" y="551.6" font-size="9.5" text-anchor="end" textLength="10.0" lengthAdjust="spacingAndGlyphs" stroke="#000" stroke-width="0.6">20</text>
<line x1="49.7" y1="547.7" x2="52.7" y2="547.7" stroke="#000" stroke-width="1.3"/>
<text x="47.5" y="533.9" font-size="9.5" text-anchor="end" textLength="10.0" lengthAdjust="spacingAndGlyphs" stroke="#000" stroke-width="0.6">40</text>
<line x1="49.7" y1="530.0" x2="52.7" y2="530.0" stroke="#000" stroke-width="1.3"/>
<text x="47.5" y="516.3" font-size="9.5" text-anchor="end" textLength="10.0" lengthAdjust="spacingAndGlyphs" stroke="#000" stroke-width="0.6">60</text>
<line x1="49.7" y1="512.4" x2="52.7" y2="512.4" stroke="#000" stroke-width="1.3"/>
<text x="47.5" y="498.6" font-size="9.5" text-anchor="end" textLength="10.0" lengthAdjust="spacingAndGlyphs" stroke="#000" stroke-width="0.6">80</text>
<line x1="49.7" y1="494.7" x2="52.7" y2="494.7" stroke="#000" stroke-width="1.3"/>
<text x="47.5" y="480.9" font-size="9.5" text-anchor="end" textLength="15.2" lengthAdjust="spacingAndGlyphs" stroke="#000" stroke-width="0.6">100</text>
<line x1="49.7" y1="477.0" x2="52.7" y2="477.0" stroke="#000" stroke-width="1.3"/>
<line x1="51.4" y1="474.7" x2="52.7" y2="474.7" stroke="#000" stroke-width="0.7"/>
<line x1="51.4" y1="476.9" x2="52.7" y2="476.9" stroke="#000" stroke-width="0.7"/>
<line x1="51.4" y1="479.1" x2="52.7" y2="479.1" stroke="#000" stroke-width="0.7"/>
<line x1="51.4" y1="481.3" x2="52.7" y2="481.3" stroke="#000" stroke-width="0.7"/>
<line x1="51.4" y1="483.5" x2="52.7" y2="483.5" stroke="#000" stroke-width="0.7"/>
<line x1="51.4" y1="485.7" x2="52.7" y2="485.7" stroke="#000" stroke-width="0.7"/>
<line x1="51.4" y1="487.9" x2="52.7" y2="487.9" stroke="#000" stroke-width="0.7"/>
<line x1="51.4" y1="490.1" x2="52.7" y2="490.1" stroke="#000" stroke-width="0.7"/>
<line x1="51.4" y1="492.3" x2="52.7" y2="492.3" stroke="#000" stroke-width="0.7"/>
<line x1="51.4" y1="494.5" x2="52.7" y2="494.5" stroke="#000" stroke-width="0.7"/>
<line x1="51.4" y1="496.7" x2="52.7" y2="496.7" stroke="#000" stroke-width="0.7"/>
<line x1="51.4" y1="498.9" x2="52.7" y2="498.9" stroke="#000" stroke-width="0.7"/>
<line x1="51.4" y1="501.1" x2="52.7" y2="501.1" stroke="#000" stroke-width="0.7"/>
<line x1="51.4" y1="503.3" x2="52.7" y2="503.3" stroke="#000" stroke-width="0.7"/>
<line x1="51.4" y1="505.5" x2="52.7" y2="505.5" stroke="#000" stroke-width="0.7"/>
<line x1="51.4" y1="507.7" x2="52.7" y2="507.7" stroke="#000" stroke-width="0.7"/>
<line x1="51.4" y1="509.9" x2="52.7" y2="509.9" stroke="#000" stroke-width="0.7"/>
<line x1="51.4" y1="512.1" x2="52.7" y2="512.1" stroke="#000" stroke-width="0.7"/>
<line x1="51.4" y1="514.3" x2="52.7" y2="514.3" stroke="#000" stroke-width="0.7"/>
<line x1="51.4" y1="516.5" x2="52.7" y2="516.5" stroke="#000" stroke-width="0.7"/>
<line x1="51.4" y1="518.7" x2="52.7" y2="518.7" stroke="#000" stroke-width="0.7"/>
<line x1="51.4" y1="520.9" x2="52.7" y2="520.9" stroke="#000" stroke-width="0.7"/>
<line x1="51.4" y1="523.1" x2="52.7" y2="523.1" stroke="#000" stroke-width="0.7"/>
<line x1="51.4" y1="525.3" x2="52.7" y2="525.3" stroke="#000" stroke-width="0.7"/>
<line x1="51.4" y1="527.5" x2="52.7" y2="527.5" stroke="#000" stroke-width="0.7"/>
<line x1="51.4" y1="529.7" x2="52.7" y2="529.7" stroke="#000" stroke-width="0.7"/>
<line x1="51.4" y1="531.9" x2="52.7" y2="531.9" stroke="#000" stroke-width="0.7"/>
<line x1="51.4" y1="534.1" x2="52.7" y2="534.1" stroke="#000" stroke-width="0.7"/>
<line x1="51.4" y1="536.3" x2="52.7" y2="536.3" stroke="#000" stroke-width="0.7"/>
<line x1="51.4" y1="538.5" x2="52.7" y2="538.5" stroke="#000" stroke-width="0.7"/>
<line x1="51.4" y1="540.7" x2="52.7" y2="540.7" stroke="#000" stroke-width="0.7"/>
<line x1="51.4" y1="542.9" x2="52.7" y2="542.9" stroke="#000" stroke-width="0.7"/>
<line x1="51.4" y1="545.1" x2="52.7" y2="545.1" stroke="#000" stroke-width="0.7"/>
<line x1="51.4" y1="547.3" x2="52.7" y2="547.3" stroke="#000" stroke-width="0.7"/>
<line x1="51.4" y1="549.5" x2="52.7" y2="549.5" stroke="#000" stroke-width="0.7"/>
<line x1="51.4" y1="551.7" x2="52.7" y2="551.7" stroke="#000" stroke-width="0.7"/>
<line x1="51.4" y1="553.9" x2="52.7" y2="553.9" stroke="#000" stroke-width="0.7"/>
<line x1="51.4" y1="556.1" x2="52.7" y2="556.1" stroke="#000" stroke-width="0.7"/>
<line x1="51.4" y1="558.3" x2="52.7" y2="558.3" stroke="#000" stroke-width="0.7"/>
<line x1="51.4" y1="560.5" x2="52.7" y2="560.5" stroke="#000" stroke-width="0.7"/>
<line x1="51.4" y1="562.7" x2="52.7" y2="562.7" stroke="#000" stroke-width="0.7"/>
<line x1="51.4" y1="564.9" x2="52.7" y2="564.9" stroke="#000" stroke-width="0.7"/>
<line x1="54.7" y1="565.6" x2="54.7" y2="567.1" stroke="#000" stroke-width="0.7"/>
<line x1="57.1" y1="565.6" x2="57.1" y2="567.1" stroke="#000" stroke-width="0.7"/>
<line x1="59.5" y1="565.6" x2="59.5" y2="567.1" stroke="#000" stroke-width="0.7"/>
<line x1="61.9" y1="565.6" x2="61.9" y2="567.1" stroke="#000" stroke-width="0.7"/>
<line x1="64.3" y1="565.6" x2="64.3" y2="567.1" stroke="#000" stroke-width="0.7"/>
<line x1="66.7" y1="565.6" x2="66.7" y2="567.1" stroke="#000" stroke-width="0.7"/>
<line x1="69.1" y1="565.6" x2="69.1" y2="567.1" stroke="#000" stroke-width="0.7"/>
<line x1="71.5" y1="565.6" x2="71.5" y2="567.1" stroke="#000" stroke-width="0.7"/>
<line x1="73.9" y1="565.6" x2="73.9" y2="567.1" stroke="#000" stroke-width="0.7"/>
<line x1="76.3" y1="565.6" x2="76.3" y2="567.1" stroke="#000" stroke-width="0.7"/>
<line x1="78.7" y1="565.6" x2="78.7" y2="567.1" stroke="#000" stroke-width="0.7"/>
<line x1="81.1" y1="565.6" x2="81.1" y2="567.1" stroke="#000" stroke-width="0.7"/>
<line x1="83.5" y1="565.6" x2="83.5" y2="567.1" stroke="#000" stroke-width="0.7"/>
<line x1="85.9" y1="565.6" x2="85.9" y2="567.1" stroke="#000" stroke-width="0.7"/>
<line x1="88.3" y1="565.6" x2="88.3" y2="567.1" stroke="#000" stroke-width="0.7"/>
<line x1="90.7" y1="565.6" x2="90.7" y2="567.1" stroke="#000" stroke-width="0.7"/>
<line x1="93.1" y1="565.6" x2="93.1" y2="567.1" stroke="#000" stroke-width="0.7"/>
<line x1="95.5" y1="565.6" x2="95.5" y2="567.1" stroke="#000" stroke-width="0.7"/>
<line x1="97.9" y1="565.6" x2="97.9" y2="567.1" stroke="#000" stroke-width="0.7"/>
<line x1="100.3" y1="565.6" x2="100.3" y2="567.1" stroke="#000" stroke-width="0.7"/>
<line x1="102.7" y1="565.6" x2="102.7" y2="567.1" stroke="#000" stroke-width="0.7"/>
<line x1="105.1" y1="565.6" x2="105.1" y2="567.1" stroke="#000" stroke-width="0.7"/>
<line x1="107.5" y1="565.6" x2="107.5" y2="567.1" stroke="#000" stroke-width="0.7"/>
<line x1="109.9" y1="565.6" x2="109.9" y2="567.1" stroke="#000" stroke-width="0.7"/>
<line x1="112.3" y1="565.6" x2="112.3" y2="567.1" stroke="#000" stroke-width="0.7"/>
<line x1="114.7" y1="565.6" x2="114.7" y2="567.1" stroke="#000" stroke-width="0.7"/>
<line x1="117.1" y1="565.6" x2="117.1" y2="567.1" stroke="#000" stroke-width="0.7"/>
<line x1="119.5" y1="565.6" x2="119.5" y2="567.1" stroke="#000" stroke-width="0.7"/>
<line x1="121.9" y1="565.6" x2="121.9" y2="567.1" stroke="#000" stroke-width="0.7"/>
<line x1="124.3" y1="565.6" x2="124.3" y2="567.1" stroke="#000" stroke-width="0.7"/>
<line x1="126.7" y1="565.6" x2="126.7" y2="567.1" stroke="#000" stroke-width="0.7"/>
<line x1="129.1" y1="565.6" x2="129.1" y2="567.1" stroke="#000" stroke-width="0.7"/>
<line x1="131.5" y1="565.6" x2="131.5" y2="567.1" stroke="#000" stroke-width="0.7"/>
<line x1="133.9" y1="565.6" x2="133.9" y2="567.1" stroke="#000" stroke-width="0.7"/>
<line x1="136.3" y1="565.6" x2="136.3" y2="567.1" stroke="#000" stroke-width="0.7"/>
<line x1="138.7" y1="565.6" x2="138.7" y2="567.1" stroke="#000" stroke-width="0.7"/>
<line x1="141.1" y1="565.6" x2="141.1" y2="567.1" stroke="#000" stroke-width="0.7"/>
<line x1="143.5" y1="565.6" x2="143.5" y2="567.1" stroke="#000" stroke-width="0.7"/>
<path d="M53.5 545.0 L54.4 545.3 L55.5 545.3 L56.5 545.8 L57.6 546.4 L58.7 546.4 L59.8 546.4 L60.9 547.9 L62.0 548.0 L63.1 548.6 L64.2 546.7 L65.2 543.8 L66.3 542.0 L67.4 541.2 L68.5 539.3 L69.6 537.0 L70.7 535.5 L71.8 533.3 L72.8 531.2 L73.9 528.9 L75.0 524.6 L76.1 519.9 L77.2 518.9 L78.3 514.8 L79.4 510.5 L80.5 505.3 L81.6 500.7 L82.7 495.4 L83.8 493.1 L84.9 487.6 L86.0 482.1 L87.0 478.9 L88.1 482.7 L89.2 485.4 L90.9 495.2 L92.5 511.6 L93.6 520.9 L94.7 527.9 L95.0 542.0 L96.1 543.1 L97.2 546.4 L98.3 549.5 L99.4 553.0 L100.5 553.7 L101.6 555.8 L102.6 557.7 L103.7 558.4 L104.8 560.0 L105.9 559.4 L107.0 560.7 L108.1 561.7 L109.0 562.2 L110.0 562.8 L110.9 562.8 L111.8 562.7 L112.7 563.4 L113.7 563.6 L114.6 563.9 L115.6 563.9 L116.5 563.8 L117.5 564.2 L118.5 564.2 L119.4 564.2 L120.4 564.2 L121.4 564.0 L122.3 564.2 L123.3 564.4 L124.2 564.7 L125.2 564.4 L126.1 564.1 L127.1 564.8 L128.0 564.6 L128.9 565.1 L129.9 564.5 L130.8 564.4 L131.7 564.2 L132.7 564.9 L133.6 565.2 L134.6 564.4 L135.5 564.5 L136.4 564.8 L137.4 564.5 L138.3 564.6 L139.2 564.6 L140.2 564.8 L141.1 565.0 L142.1 564.8 L143.0 564.8" fill="none" stroke="#e3171c" stroke-width="1.9" stroke-linejoin="round"/>
<path d="M53.5 551.9 L54.5 554.2 L55.5 555.3 L56.5 557.3 L57.6 556.9 L58.7 555.2 L59.8 555.0 L60.9 555.1 L62.0 556.1 L63.1 556.2 L64.1 557.3 L65.2 558.0 L66.3 558.4 L67.4 557.9 L68.5 556.6 L69.6 555.6 L70.7 554.0 L71.8 551.8 L72.8 549.2 L73.9 547.0 L75.0 545.3 L76.1 544.3 L77.2 543.1 L78.3 543.2 L79.4 537.3 L80.5 532.3 L81.6 534.9 L82.7 537.7 L83.8 531.4 L84.9 524.6 L86.2 522.7 L87.6 521.4 L89.2 511.6 L90.9 499.6 L92.5 497.4 L93.6 496.2 L94.7 498.5 L95.7 494.6 L96.6 490.9 L98.3 495.2 L99.9 489.8 L101.0 478.3 L102.1 495.2 L103.2 502.9 L104.3 513.8 L105.9 517.0 L107.0 518.3 L108.1 519.2 L109.2 527.9 L110.2 531.6 L111.3 533.4 L112.4 539.3 L113.5 544.3 L114.6 546.4 L115.7 548.9 L116.8 551.9 L117.9 554.7 L118.9 555.8 L120.0 557.3 L121.1 559.5 L122.2 561.0 L123.3 561.7 L124.4 562.4 L125.5 563.6 L126.6 564.4 L127.5 564.5 L128.4 564.5 L129.3 564.5 L130.2 564.5 L131.2 564.4 L132.1 564.0 L133.0 564.4 L133.9 564.2 L134.8 564.4 L135.7 564.3 L136.6 564.6 L137.5 564.6 L138.4 564.5 L139.4 564.5 L140.3 564.4 L141.2 564.3 L142.1 564.4 L143.0 564.4" fill="none" stroke="#1010d8" stroke-width="1.9" stroke-linejoin="round"/>
<line x1="52.9" y1="472.7" x2="52.9" y2="565.6" stroke="#1010d8" stroke-width="2.2"/>
<path d="M167.5 565.5 L167.5 559.0 L168.2 559.0 L169.0 559.6 L169.8 559.6 L170.5 560.1 L171.2 559.4 L172.0 560.6 L172.8 560.1 L173.5 560.3 L174.2 560.7 L175.0 561.0 L175.7 560.7 L176.5 560.9 L177.2 560.5 L177.9 560.2 L178.6 560.2 L179.4 561.0 L180.1 560.4 L180.8 559.8 L181.5 560.2 L182.3 559.4 L183.0 560.0 L183.7 560.7 L184.4 559.2 L185.1 560.1 L185.8 560.0 L186.5 559.1 L187.2 559.8 L187.9 560.1 L188.6 559.8 L189.3 559.7 L190.0 559.5 L190.7 559.1 L191.5 557.8 L192.2 557.0 L193.0 555.8 L193.7 555.4 L194.5 553.5 L195.2 553.7 L196.0 552.0 L196.7 551.4 L197.5 549.1 L198.2 548.7 L199.0 548.3 L199.7 546.3 L200.5 543.5 L201.2 543.1 L202.0 540.5 L202.7 539.4 L203.5 538.0 L204.3 535.4 L205.1 530.1 L205.9 530.1 L206.7 526.1 L207.5 524.5 L208.4 518.4 L209.3 512.1 L210.2 508.4 L211.0 502.7 L211.9 499.3 L212.8 497.2 L213.6 492.2 L214.5 490.0 L215.3 484.1 L216.2 480.1 L216.9 480.6 L217.6 478.5 L218.3 478.1 L219.1 481.0 L219.9 488.2 L221.2 508.4 L222.3 528.6 L223.6 543.4 L224.5 544.4 L225.4 545.6 L226.3 546.1 L227.2 545.5 L228.1 545.9 L229.0 545.4 L230.0 546.9 L231.0 547.4 L232.1 550.2 L233.1 554.1 L233.9 555.0 L234.8 557.4 L235.6 559.1 L236.4 560.9 L237.2 561.4 L238.1 562.6 L239.0 563.5 L239.8 563.6 L240.5 563.7 L241.3 564.2 L242.0 564.5 L242.8 564.6 L243.5 564.9 L244.3 564.7 L245.0 565.0 L245.0 565.5Z" fill="#808080"/>
<rect x="166.8" y="472.7" width="91.0" height="92.9" fill="none" stroke="#000" stroke-width="1.6"/>
<text x="161.6" y="569.3" font-size="9.5" text-anchor="end" textLength="4.8" lengthAdjust="spacingAndGlyphs" stroke="#000" stroke-width="0.6">0</text>
<line x1="163.8" y1="565.4" x2="166.8" y2="565.4" stroke="#000" stroke-width="1.3"/>
<text x="161.6" y="551.6" font-size="9.5" text-anchor="end" textLength="10.0" lengthAdjust="spacingAndGlyphs" stroke="#000" stroke-width="0.6">20</text>
<line x1="163.8" y1="547.7" x2="166.8" y2="547.7" stroke="#000" stroke-width="1.3"/>
<text x="161.6" y="533.9" font-size="9.5" text-anchor="end" textLength="10.0" lengthAdjust="spacingAndGlyphs" stroke="#000" stroke-width="0.6">40</text>
<line x1="163.8" y1="530.0" x2="166.8" y2="530.0" stroke="#000" stroke-width="1.3"/>
<text x="161.6" y="516.3" font-size="9.5" text-anchor="end" textLength="10.0" lengthAdjust="spacingAndGlyphs" stroke="#000" stroke-width="0.6">60</text>
<line x1="163.8" y1="512.4" x2="166.8" y2="512.4" stroke="#000" stroke-width="1.3"/>
<text x="161.6" y="498.6" font-size="9.5" text-anchor="end" textLength="10.0" lengthAdjust="spacingAndGlyphs" stroke="#000" stroke-width="0.6">80</text>
<line x1="163.8" y1="494.7" x2="166.8" y2="494.7" stroke="#000" stroke-width="1.3"/>
<text x="161.6" y="480.9" font-size="9.5" text-anchor="end" textLength="15.2" lengthAdjust="spacingAndGlyphs" stroke="#000" stroke-width="0.6">100</text>
<line x1="163.8" y1="477.0" x2="166.8" y2="477.0" stroke="#000" stroke-width="1.3"/>
<line x1="165.5" y1="474.7" x2="166.8" y2="474.7" stroke="#000" stroke-width="0.7"/>
<line x1="165.5" y1="476.9" x2="166.8" y2="476.9" stroke="#000" stroke-width="0.7"/>
<line x1="165.5" y1="479.1" x2="166.8" y2="479.1" stroke="#000" stroke-width="0.7"/>
<line x1="165.5" y1="481.3" x2="166.8" y2="481.3" stroke="#000" stroke-width="0.7"/>
<line x1="165.5" y1="483.5" x2="166.8" y2="483.5" stroke="#000" stroke-width="0.7"/>
<line x1="165.5" y1="485.7" x2="166.8" y2="485.7" stroke="#000" stroke-width="0.7"/>
<line x1="165.5" y1="487.9" x2="166.8" y2="487.9" stroke="#000" stroke-width="0.7"/>
<line x1="165.5" y1="490.1" x2="166.8" y2="490.1" stroke="#000" stroke-width="0.7"/>
<line x1="165.5" y1="492.3" x2="166.8" y2="492.3" stroke="#000" stroke-width="0.7"/>
<line x1="165.5" y1="494.5" x2="166.8" y2="494.5" stroke="#000" stroke-width="0.7"/>
<line x1="165.5" y1="496.7" x2="166.8" y2="496.7" stroke="#000" stroke-width="0.7"/>
<line x1="165.5" y1="498.9" x2="166.8" y2="498.9" stroke="#000" stroke-width="0.7"/>
<line x1="165.5" y1="501.1" x2="166.8" y2="501.1" stroke="#000" stroke-width="0.7"/>
<line x1="165.5" y1="503.3" x2="166.8" y2="503.3" stroke="#000" stroke-width="0.7"/>
<line x1="165.5" y1="505.5" x2="166.8" y2="505.5" stroke="#000" stroke-width="0.7"/>
<line x1="165.5" y1="507.7" x2="166.8" y2="507.7" stroke="#000" stroke-width="0.7"/>
<line x1="165.5" y1="509.9" x2="166.8" y2="509.9" stroke="#000" stroke-width="0.7"/>
<line x1="165.5" y1="512.1" x2="166.8" y2="512.1" stroke="#000" stroke-width="0.7"/>
<line x1="165.5" y1="514.3" x2="166.8" y2="514.3" stroke="#000" stroke-width="0.7"/>
<line x1="165.5" y1="516.5" x2="166.8" y2="516.5" stroke="#000" stroke-width="0.7"/>
<line x1="165.5" y1="518.7" x2="166.8" y2="518.7" stroke="#000" stroke-width="0.7"/>
<line x1="165.5" y1="520.9" x2="166.8" y2="520.9" stroke="#000" stroke-width="0.7"/>
<line x1="165.5" y1="523.1" x2="166.8" y2="523.1" stroke="#000" stroke-width="0.7"/>
<line x1="165.5" y1="525.3" x2="166.8" y2="525.3" stroke="#000" stroke-width="0.7"/>
<line x1="165.5" y1="527.5" x2="166.8" y2="527.5" stroke="#000" stroke-width="0.7"/>
<line x1="165.5" y1="529.7" x2="166.8" y2="529.7" stroke="#000" stroke-width="0.7"/>
<line x1="165.5" y1="531.9" x2="166.8" y2="531.9" stroke="#000" stroke-width="0.7"/>
<line x1="165.5" y1="534.1" x2="166.8" y2="534.1" stroke="#000" stroke-width="0.7"/>
<line x1="165.5" y1="536.3" x2="166.8" y2="536.3" stroke="#000" stroke-width="0.7"/>
<line x1="165.5" y1="538.5" x2="166.8" y2="538.5" stroke="#000" stroke-width="0.7"/>
<line x1="165.5" y1="540.7" x2="166.8" y2="540.7" stroke="#000" stroke-width="0.7"/>
<line x1="165.5" y1="542.9" x2="166.8" y2="542.9" stroke="#000" stroke-width="0.7"/>
<line x1="165.5" y1="545.1" x2="166.8" y2="545.1" stroke="#000" stroke-width="0.7"/>
<line x1="165.5" y1="547.3" x2="166.8" y2="547.3" stroke="#000" stroke-width="0.7"/>
<line x1="165.5" y1="549.5" x2="166.8" y2="549.5" stroke="#000" stroke-width="0.7"/>
<line x1="165.5" y1="551.7" x2="166.8" y2="551.7" stroke="#000" stroke-width="0.7"/>
<line x1="165.5" y1="553.9" x2="166.8" y2="553.9" stroke="#000" stroke-width="0.7"/>
<line x1="165.5" y1="556.1" x2="166.8" y2="556.1" stroke="#000" stroke-width="0.7"/>
<line x1="165.5" y1="558.3" x2="166.8" y2="558.3" stroke="#000" stroke-width="0.7"/>
<line x1="165.5" y1="560.5" x2="166.8" y2="560.5" stroke="#000" stroke-width="0.7"/>
<line x1="165.5" y1="562.7" x2="166.8" y2="562.7" stroke="#000" stroke-width="0.7"/>
<line x1="165.5" y1="564.9" x2="166.8" y2="564.9" stroke="#000" stroke-width="0.7"/>
<line x1="168.8" y1="565.6" x2="168.8" y2="567.1" stroke="#000" stroke-width="0.7"/>
<line x1="171.2" y1="565.6" x2="171.2" y2="567.1" stroke="#000" stroke-width="0.7"/>
<line x1="173.6" y1="565.6" x2="173.6" y2="567.1" stroke="#000" stroke-width="0.7"/>
<line x1="176.0" y1="565.6" x2="176.0" y2="567.1" stroke="#000" stroke-width="0.7"/>
<line x1="178.4" y1="565.6" x2="178.4" y2="567.1" stroke="#000" stroke-width="0.7"/>
<line x1="180.8" y1="565.6" x2="180.8" y2="567.1" stroke="#000" stroke-width="0.7"/>
<line x1="183.2" y1="565.6" x2="183.2" y2="567.1" stroke="#000" stroke-width="0.7"/>
<line x1="185.6" y1="565.6" x2="185.6" y2="567.1" stroke="#000" stroke-width="0.7"/>
<line x1="188.0" y1="565.6" x2="188.0" y2="567.1" stroke="#000" stroke-width="0.7"/>
<line x1="190.4" y1="565.6" x2="190.4" y2="567.1" stroke="#000" stroke-width="0.7"/>
<line x1="192.8" y1="565.6" x2="192.8" y2="567.1" stroke="#000" stroke-width="0.7"/>
<line x1="195.2" y1="565.6" x2="195.2" y2="567.1" stroke="#000" stroke-width="0.7"/>
<line x1="197.6" y1="565.6" x2="197.6" y2="567.1" stroke="#000" stroke-width="0.7"/>
<line x1="200.0" y1="565.6" x2="200.0" y2="567.1" stroke="#000" stroke-width="0.7"/>
<line x1="202.4" y1="565.6" x2="202.4" y2="567.1" stroke="#000" stroke-width="0.7"/>
<line x1="204.8" y1="565.6" x2="204.8" y2="567.1" stroke="#000" stroke-width="0.7"/>
<line x1="207.2" y1="565.6" x2="207.2" y2="567.1" stroke="#000" stroke-width="0.7"/>
<line x1="209.6" y1="565.6" x2="209.6" y2="567.1" stroke="#000" stroke-width="0.7"/>
<line x1="212.0" y1="565.6" x2="212.0" y2="567.1" stroke="#000" stroke-width="0.7"/>
<line x1="214.4" y1="565.6" x2="214.4" y2="567.1" stroke="#000" stroke-width="0.7"/>
<line x1="216.8" y1="565.6" x2="216.8" y2="567.1" stroke="#000" stroke-width="0.7"/>
<line x1="219.2" y1="565.6" x2="219.2" y2="567.1" stroke="#000" stroke-width="0.7"/>
<line x1="221.6" y1="565.6" x2="221.6" y2="567.1" stroke="#000" stroke-width="0.7"/>
<line x1="224.0" y1="565.6" x2="224.0" y2="567.1" stroke="#000" stroke-width="0.7"/>
<line x1="226.4" y1="565.6" x2="226.4" y2="567.1" stroke="#000" stroke-width="0.7"/>
<line x1="228.8" y1="565.6" x2="228.8" y2="567.1" stroke="#000" stroke-width="0.7"/>
<line x1="231.2" y1="565.6" x2="231.2" y2="567.1" stroke="#000" stroke-width="0.7"/>
<line x1="233.6" y1="565.6" x2="233.6" y2="567.1" stroke="#000" stroke-width="0.7"/>
<line x1="236.0" y1="565.6" x2="236.0" y2="567.1" stroke="#000" stroke-width="0.7"/>
<line x1="238.4" y1="565.6" x2="238.4" y2="567.1" stroke="#000" stroke-width="0.7"/>
<line x1="240.8" y1="565.6" x2="240.8" y2="567.1" stroke="#000" stroke-width="0.7"/>
<line x1="243.2" y1="565.6" x2="243.2" y2="567.1" stroke="#000" stroke-width="0.7"/>
<line x1="245.6" y1="565.6" x2="245.6" y2="567.1" stroke="#000" stroke-width="0.7"/>
<line x1="248.0" y1="565.6" x2="248.0" y2="567.1" stroke="#000" stroke-width="0.7"/>
<line x1="250.4" y1="565.6" x2="250.4" y2="567.1" stroke="#000" stroke-width="0.7"/>
<line x1="252.8" y1="565.6" x2="252.8" y2="567.1" stroke="#000" stroke-width="0.7"/>
<line x1="255.2" y1="565.6" x2="255.2" y2="567.1" stroke="#000" stroke-width="0.7"/>
<line x1="257.6" y1="565.6" x2="257.6" y2="567.1" stroke="#000" stroke-width="0.7"/>
<path d="M167.5 474.0 L167.8 560.0 L168.9 560.5 L169.9 561.2 L170.9 561.0 L172.0 561.0 L173.0 560.9 L174.0 561.5 L175.0 561.8 L176.0 561.6 L177.0 561.4 L178.0 562.2 L179.0 561.5 L180.0 562.0 L180.9 562.1 L181.8 561.8 L182.7 561.3 L183.6 562.0 L184.5 561.6 L185.5 561.0 L186.4 561.5 L187.3 561.1 L188.2 560.5 L189.1 560.8 L190.0 560.9 L191.0 560.2 L191.9 559.6 L192.9 558.7 L193.8 557.8 L194.8 557.2 L195.7 556.2 L196.7 555.5 L197.6 555.0 L198.5 553.3 L199.4 552.3 L200.3 551.3 L201.2 549.3 L202.1 548.8 L203.1 547.0 L204.1 547.1 L205.2 545.0 L206.2 543.4 L207.5 535.7 L208.8 528.6 L210.2 521.5 L211.5 513.8 L212.8 503.9 L214.2 494.9 L215.2 489.1 L216.2 482.8 L217.6 478.8 L219.3 478.8 L220.3 485.5 L221.6 501.6 L223.0 524.5 L224.3 546.1 L225.3 549.7 L226.3 554.1 L227.3 553.9 L228.4 552.6 L229.4 553.8 L230.4 552.8 L231.4 552.7 L232.4 552.3 L233.4 553.2 L234.4 553.5 L235.4 554.1 L236.4 555.2 L237.5 555.5 L238.5 556.8 L239.5 558.0 L240.5 560.2 L241.5 559.4 L242.5 560.9 L243.5 561.7 L244.5 562.2 L245.5 563.0 L246.5 563.6 L247.4 563.3 L248.3 563.7 L249.2 564.4 L250.1 564.5 L251.0 565.1 L251.9 564.9 L252.9 564.7 L253.9 565.0 L255.0 565.2 L256.0 564.8 L257.0 565.0" fill="none" stroke="#e3171c" stroke-width="1.9" stroke-linejoin="round"/>
<path d="M167.8 565.0 L168.7 564.8 L169.7 565.0 L170.6 565.0 L171.5 565.2 L172.4 565.0 L173.4 564.8 L174.3 565.0 L175.2 565.2 L176.1 565.2 L177.1 564.3 L178.0 564.9 L178.9 564.7 L179.8 565.1 L180.8 564.9 L181.7 565.2 L182.6 565.2 L183.5 565.2 L184.4 565.0 L185.4 564.9 L186.3 565.0 L187.2 565.2 L188.2 565.0 L189.1 564.8 L190.0 564.9 L190.9 565.2 L191.8 564.8 L192.8 564.7 L193.7 564.5 L194.6 564.5 L195.5 564.4 L196.4 563.8 L197.3 564.7 L198.3 564.5 L199.2 564.3 L200.1 564.5 L201.0 564.3 L201.9 564.2 L202.9 563.4 L203.8 564.0 L204.7 564.1 L205.6 564.3 L206.5 564.3 L207.4 564.2 L208.4 563.4 L209.3 563.0 L210.2 563.6 L211.2 563.4 L212.1 562.8 L213.1 562.7 L214.0 562.0 L215.0 561.7 L215.9 560.8 L216.9 560.9 L218.0 558.8 L219.2 556.2 L220.3 554.1 L221.4 552.1 L222.5 549.9 L223.6 547.4 L224.7 545.1 L225.9 543.2 L227.0 540.7 L228.1 536.2 L229.3 532.4 L230.4 527.2 L231.8 520.3 L233.1 512.4 L234.1 505.2 L235.1 499.0 L236.1 496.4 L237.1 494.9 L238.1 492.4 L239.1 486.8 L240.5 478.8 L241.8 485.5 L242.8 490.1 L243.8 494.9 L244.9 505.9 L245.9 515.1 L246.9 525.6 L247.9 535.3 L248.9 542.9 L249.9 551.4 L250.9 556.5 L251.9 562.2 L253.2 563.2 L254.6 564.2 L255.6 564.5 L256.5 564.8 L257.5 564.9" fill="none" stroke="#1010d8" stroke-width="1.9" stroke-linejoin="round"/>
<line x1="167.1" y1="494.8" x2="167.1" y2="565.6" stroke="#1010d8" stroke-width="2.2"/>
<line x1="167.1" y1="472.7" x2="167.1" y2="494.8" stroke="#e3171c" stroke-width="2.2"/>
<path d="M285.4 565.5 L285.4 564.4 L286.0 537.7 L287.1 534.5 L288.0 530.5 L288.9 528.7 L289.8 526.8 L290.6 524.8 L291.5 524.8 L292.3 518.5 L293.1 519.2 L293.9 518.3 L294.7 515.9 L295.5 515.6 L296.3 513.8 L297.0 511.3 L297.7 510.4 L298.4 509.7 L299.1 506.1 L300.0 502.1 L300.9 497.8 L301.8 493.0 L302.6 489.1 L303.4 484.3 L304.5 477.8 L305.3 481.3 L306.1 486.5 L307.0 489.8 L307.8 492.0 L308.6 496.1 L309.4 500.7 L310.1 505.6 L310.9 512.3 L311.6 518.1 L312.4 525.5 L313.2 533.4 L314.0 540.6 L314.9 546.4 L315.6 548.2 L316.3 549.7 L317.0 551.9 L317.7 553.5 L318.5 553.9 L319.2 554.0 L319.9 555.1 L320.7 555.1 L321.4 555.1 L322.2 554.8 L323.0 554.3 L323.9 554.1 L324.7 554.0 L325.5 553.5 L326.3 551.9 L327.0 549.7 L327.8 549.6 L328.6 547.5 L329.4 547.5 L330.1 546.7 L330.8 544.7 L331.5 543.7 L332.3 544.0 L333.0 542.9 L333.7 542.1 L334.5 539.7 L335.4 541.2 L336.2 541.8 L337.0 538.8 L337.8 538.7 L338.6 543.3 L339.5 542.3 L340.3 544.3 L341.2 547.1 L342.1 550.6 L343.0 554.0 L343.9 556.2 L344.8 560.4 L345.7 562.8 L346.8 564.4 L346.8 565.5Z" fill="#808080"/>
<rect x="283.3" y="472.7" width="92.0" height="92.9" fill="none" stroke="#000" stroke-width="1.6"/>
<text x="278.1" y="569.3" font-size="9.5" text-anchor="end" textLength="4.8" lengthAdjust="spacingAndGlyphs" stroke="#000" stroke-width="0.6">0</text>
<line x1="280.3" y1="565.4" x2="283.3" y2="565.4" stroke="#000" stroke-width="1.3"/>
<text x="278.1" y="551.6" font-size="9.5" text-anchor="end" textLength="10.0" lengthAdjust="spacingAndGlyphs" stroke="#000" stroke-width="0.6">20</text>
<line x1="280.3" y1="547.7" x2="283.3" y2="547.7" stroke="#000" stroke-width="1.3"/>
<text x="278.1" y="533.9" font-size="9.5" text-anchor="end" textLength="10.0" lengthAdjust="spacingAndGlyphs" stroke="#000" stroke-width="0.6">40</text>
<line x1="280.3" y1="530.0" x2="283.3" y2="530.0" stroke="#000" stroke-width="1.3"/>
<text x="278.1" y="516.3" font-size="9.5" text-anchor="end" textLength="10.0" lengthAdjust="spacingAndGlyphs" stroke="#000" stroke-width="0.6">60</text>
<line x1="280.3" y1="512.4" x2="283.3" y2="512.4" stroke="#000" stroke-width="1.3"/>
<text x="278.1" y="498.6" font-size="9.5" text-anchor="end" textLength="10.0" lengthAdjust="spacingAndGlyphs" stroke="#000" stroke-width="0.6">80</text>
<line x1="280.3" y1="494.7" x2="283.3" y2="494.7" stroke="#000" stroke-width="1.3"/>
<text x="278.1" y="480.9" font-size="9.5" text-anchor="end" textLength="15.2" lengthAdjust="spacingAndGlyphs" stroke="#000" stroke-width="0.6">100</text>
<line x1="280.3" y1="477.0" x2="283.3" y2="477.0" stroke="#000" stroke-width="1.3"/>
<line x1="282.0" y1="474.7" x2="283.3" y2="474.7" stroke="#000" stroke-width="0.7"/>
<line x1="282.0" y1="476.9" x2="283.3" y2="476.9" stroke="#000" stroke-width="0.7"/>
<line x1="282.0" y1="479.1" x2="283.3" y2="479.1" stroke="#000" stroke-width="0.7"/>
<line x1="282.0" y1="481.3" x2="283.3" y2="481.3" stroke="#000" stroke-width="0.7"/>
<line x1="282.0" y1="483.5" x2="283.3" y2="483.5" stroke="#000" stroke-width="0.7"/>
<line x1="282.0" y1="485.7" x2="283.3" y2="485.7" stroke="#000" stroke-width="0.7"/>
<line x1="282.0" y1="487.9" x2="283.3" y2="487.9" stroke="#000" stroke-width="0.7"/>
<line x1="282.0" y1="490.1" x2="283.3" y2="490.1" stroke="#000" stroke-width="0.7"/>
<line x1="282.0" y1="492.3" x2="283.3" y2="492.3" stroke="#000" stroke-width="0.7"/>
<line x1="282.0" y1="494.5" x2="283.3" y2="494.5" stroke="#000" stroke-width="0.7"/>
<line x1="282.0" y1="496.7" x2="283.3" y2="496.7" stroke="#000" stroke-width="0.7"/>
<line x1="282.0" y1="498.9" x2="283.3" y2="498.9" stroke="#000" stroke-width="0.7"/>
<line x1="282.0" y1="501.1" x2="283.3" y2="501.1" stroke="#000" stroke-width="0.7"/>
<line x1="282.0" y1="503.3" x2="283.3" y2="503.3" stroke="#000" stroke-width="0.7"/>
<line x1="282.0" y1="505.5" x2="283.3" y2="505.5" stroke="#000" stroke-width="0.7"/>
<line x1="282.0" y1="507.7" x2="283.3" y2="507.7" stroke="#000" stroke-width="0.7"/>
<line x1="282.0" y1="509.9" x2="283.3" y2="509.9" stroke="#000" stroke-width="0.7"/>
<line x1="282.0" y1="512.1" x2="283.3" y2="512.1" stroke="#000" stroke-width="0.7"/>
<line x1="282.0" y1="514.3" x2="283.3" y2="514.3" stroke="#000" stroke-width="0.7"/>
<line x1="282.0" y1="516.5" x2="283.3" y2="516.5" stroke="#000" stroke-width="0.7"/>
<line x1="282.0" y1="518.7" x2="283.3" y2="518.7" stroke="#000" stroke-width="0.7"/>
<line x1="282.0" y1="520.9" x2="283.3" y2="520.9" stroke="#000" stroke-width="0.7"/>
<line x1="282.0" y1="523.1" x2="283.3" y2="523.1" stroke="#000" stroke-width="0.7"/>
<line x1="282.0" y1="525.3" x2="283.3" y2="525.3" stroke="#000" stroke-width="0.7"/>
<line x1="282.0" y1="527.5" x2="283.3" y2="527.5" stroke="#000" stroke-width="0.7"/>
<line x1="282.0" y1="529.7" x2="283.3" y2="529.7" stroke="#000" stroke-width="0.7"/>
<line x1="282.0" y1="531.9" x2="283.3" y2="531.9" stroke="#000" stroke-width="0.7"/>
<line x1="282.0" y1="534.1" x2="283.3" y2="534.1" stroke="#000" stroke-width="0.7"/>
<line x1="282.0" y1="536.3" x2="283.3" y2="536.3" stroke="#000" stroke-width="0.7"/>
<line x1="282.0" y1="538.5" x2="283.3" y2="538.5" stroke="#000" stroke-width="0.7"/>
<line x1="282.0" y1="540.7" x2="283.3" y2="540.7" stroke="#000" stroke-width="0.7"/>
<line x1="282.0" y1="542.9" x2="283.3" y2="542.9" stroke="#000" stroke-width="0.7"/>
<line x1="282.0" y1="545.1" x2="283.3" y2="545.1" stroke="#000" stroke-width="0.7"/>
<line x1="282.0" y1="547.3" x2="283.3" y2="547.3" stroke="#000" stroke-width="0.7"/>
<line x1="282.0" y1="549.5" x2="283.3" y2="549.5" stroke="#000" stroke-width="0.7"/>
<line x1="282.0" y1="551.7" x2="283.3" y2="551.7" stroke="#000" stroke-width="0.7"/>
<line x1="282.0" y1="553.9" x2="283.3" y2="553.9" stroke="#000" stroke-width="0.7"/>
<line x1="282.0" y1="556.1" x2="283.3" y2="556.1" stroke="#000" stroke-width="0.7"/>
<line x1="282.0" y1="558.3" x2="283.3" y2="558.3" stroke="#000" stroke-width="0.7"/>
<line x1="282.0" y1="560.5" x2="283.3" y2="560.5" stroke="#000" stroke-width="0.7"/>
<line x1="282.0" y1="562.7" x2="283.3" y2="562.7" stroke="#000" stroke-width="0.7"/>
<line x1="282.0" y1="564.9" x2="283.3" y2="564.9" stroke="#000" stroke-width="0.7"/>
<line x1="285.3" y1="565.6" x2="285.3" y2="567.1" stroke="#000" stroke-width="0.7"/>
<line x1="287.7" y1="565.6" x2="287.7" y2="567.1" stroke="#000" stroke-width="0.7"/>
<line x1="290.1" y1="565.6" x2="290.1" y2="567.1" stroke="#000" stroke-width="0.7"/>
<line x1="292.5" y1="565.6" x2="292.5" y2="567.1" stroke="#000" stroke-width="0.7"/>
<line x1="294.9" y1="565.6" x2="294.9" y2="567.1" stroke="#000" stroke-width="0.7"/>
<line x1="297.3" y1="565.6" x2="297.3" y2="567.1" stroke="#000" stroke-width="0.7"/>
<line x1="299.7" y1="565.6" x2="299.7" y2="567.1" stroke="#000" stroke-width="0.7"/>
<line x1="302.1" y1="565.6" x2="302.1" y2="567.1" stroke="#000" stroke-width="0.7"/>
<line x1="304.5" y1="565.6" x2="304.5" y2="567.1" stroke="#000" stroke-width="0.7"/>
<line x1="306.9" y1="565.6" x2="306.9" y2="567.1" stroke="#000" stroke-width="0.7"/>
<line x1="309.3" y1="565.6" x2="309.3" y2="567.1" stroke="#000" stroke-width="0.7"/>
<line x1="311.7" y1="565.6" x2="311.7" y2="567.1" stroke="#000" stroke-width="0.7"/>
<line x1="314.1" y1="565.6" x2="314.1" y2="567.1" stroke="#000" stroke-width="0.7"/>
<line x1="316.5" y1="565.6" x2="316.5" y2="567.1" stroke="#000" stroke-width="0.7"/>
<line x1="318.9" y1="565.6" x2="318.9" y2="567.1" stroke="#000" stroke-width="0.7"/>
<line x1="321.3" y1="565.6" x2="321.3" y2="567.1" stroke="#000" stroke-width="0.7"/>
<line x1="323.7" y1="565.6" x2="323.7" y2="567.1" stroke="#000" stroke-width="0.7"/>
<line x1="326.1" y1="565.6" x2="326.1" y2="567.1" stroke="#000" stroke-width="0.7"/>
<line x1="328.5" y1="565.6" x2="328.5" y2="567.1" stroke="#000" stroke-width="0.7"/>
<line x1="330.9" y1="565.6" x2="330.9" y2="567.1" stroke="#000" stroke-width="0.7"/>
<line x1="333.3" y1="565.6" x2="333.3" y2="567.1" stroke="#000" stroke-width="0.7"/>
<line x1="335.7" y1="565.6" x2="335.7" y2="567.1" stroke="#000" stroke-width="0.7"/>
<line x1="338.1" y1="565.6" x2="338.1" y2="567.1" stroke="#000" stroke-width="0.7"/>
<line x1="340.5" y1="565.6" x2="340.5" y2="567.1" stroke="#000" stroke-width="0.7"/>
<line x1="342.9" y1="565.6" x2="342.9" y2="567.1" stroke="#000" stroke-width="0.7"/>
<line x1="345.3" y1="565.6" x2="345.3" y2="567.1" stroke="#000" stroke-width="0.7"/>
<line x1="347.7" y1="565.6" x2="347.7" y2="567.1" stroke="#000" stroke-width="0.7"/>
<line x1="350.1" y1="565.6" x2="350.1" y2="567.1" stroke="#000" stroke-width="0.7"/>
<line x1="352.5" y1="565.6" x2="352.5" y2="567.1" stroke="#000" stroke-width="0.7"/>
<line x1="354.9" y1="565.6" x2="354.9" y2="567.1" stroke="#000" stroke-width="0.7"/>
<line x1="357.3" y1="565.6" x2="357.3" y2="567.1" stroke="#000" stroke-width="0.7"/>
<line x1="359.7" y1="565.6" x2="359.7" y2="567.1" stroke="#000" stroke-width="0.7"/>
<line x1="362.1" y1="565.6" x2="362.1" y2="567.1" stroke="#000" stroke-width="0.7"/>
<line x1="364.5" y1="565.6" x2="364.5" y2="567.1" stroke="#000" stroke-width="0.7"/>
<line x1="366.9" y1="565.6" x2="366.9" y2="567.1" stroke="#000" stroke-width="0.7"/>
<line x1="369.3" y1="565.6" x2="369.3" y2="567.1" stroke="#000" stroke-width="0.7"/>
<line x1="371.7" y1="565.6" x2="371.7" y2="567.1" stroke="#000" stroke-width="0.7"/>
<line x1="374.1" y1="565.6" x2="374.1" y2="567.1" stroke="#000" stroke-width="0.7"/>
<path d="M284.4 514.8 L285.4 515.8 L286.5 515.9 L288.2 524.6 L289.8 518.1 L290.9 517.1 L292.0 517.1 L293.1 517.0 L294.2 513.8 L295.2 513.1 L296.3 511.6 L297.2 510.2 L298.2 505.7 L299.1 505.0 L300.5 500.3 L301.8 496.3 L302.9 495.9 L304.0 495.2 L305.6 487.6 L307.2 480.0 L308.9 478.3 L310.5 485.4 L312.1 495.2 L313.8 506.1 L315.4 517.0 L317.0 530.1 L318.7 542.1 L320.3 549.7 L321.9 551.9 L323.6 550.8 L324.7 550.7 L325.7 550.1 L326.8 548.6 L328.3 546.4 L329.4 544.6 L330.4 543.0 L331.5 542.1 L332.6 541.9 L333.7 540.7 L334.8 540.2 L335.9 539.9 L337.0 541.5 L338.1 542.7 L339.2 542.1 L340.2 543.4 L341.3 544.3 L343.0 551.9 L343.9 552.3 L344.9 553.2 L345.9 552.5 L346.8 554.0 L347.9 554.8 L349.0 555.2 L350.0 557.5 L351.1 557.3 L352.2 558.4 L353.3 559.0 L354.4 559.7 L355.5 560.6 L356.6 560.0 L357.7 561.4 L358.8 562.0 L359.9 561.7 L361.0 561.9 L362.0 562.7 L363.1 563.1 L364.2 563.3 L365.3 563.1 L366.4 564.1 L367.5 564.5 L368.6 564.4 L369.5 564.5 L370.4 564.5 L371.3 564.8 L372.3 564.2 L373.2 564.7 L374.1 565.0 L375.0 564.8" fill="none" stroke="#e3171c" stroke-width="1.9" stroke-linejoin="round"/>
<path d="M284.4 560.6 L285.5 560.7 L286.5 562.0 L287.6 562.1 L288.7 562.8 L289.8 561.9 L290.9 562.2 L292.0 561.7 L293.1 561.7 L294.2 562.1 L295.2 561.9 L296.3 562.8 L297.4 562.8 L298.5 562.3 L299.6 562.4 L300.7 561.8 L301.8 561.7 L302.9 561.3 L304.0 561.5 L305.0 560.9 L306.1 560.6 L307.2 559.9 L308.3 559.0 L309.4 559.4 L310.5 558.4 L311.6 558.1 L312.7 557.2 L313.8 556.9 L314.9 556.2 L316.0 555.2 L317.0 554.6 L318.1 554.2 L319.2 554.0 L320.3 553.5 L321.4 552.8 L322.5 551.9 L323.6 548.7 L324.7 546.4 L325.0 545.3 L326.1 546.9 L327.2 548.0 L328.3 548.6 L329.4 547.3 L330.4 546.4 L331.5 544.3 L332.6 541.9 L333.7 539.8 L334.8 537.7 L335.9 537.0 L337.0 535.5 L338.6 523.6 L340.0 521.9 L341.3 520.3 L343.0 511.6 L344.6 504.0 L346.2 500.7 L347.9 489.8 L349.2 483.3 L350.3 478.3 L351.1 492.0 L352.2 498.5 L353.5 500.7 L355.0 511.6 L356.1 517.8 L357.1 522.5 L358.8 519.2 L360.4 529.0 L362.0 542.1 L363.1 546.7 L364.2 553.0 L365.3 555.8 L366.4 557.0 L367.5 559.5 L368.6 560.5 L369.7 561.3 L370.8 562.8 L371.9 563.5 L372.9 564.2 L374.0 564.4 L375.0 564.6" fill="none" stroke="#1010d8" stroke-width="1.9" stroke-linejoin="round"/>
<line x1="283.6" y1="472.7" x2="283.6" y2="565.6" stroke="#1010d8" stroke-width="2.2"/>
<path d="M399.9 565.5 L399.9 565.5 L400.4 478.9 L401.2 479.5 L402.1 477.8 L402.9 484.2 L403.7 488.7 L404.4 487.7 L405.2 489.3 L405.9 490.9 L406.7 489.3 L407.5 488.7 L408.4 489.8 L409.2 493.0 L409.9 491.7 L410.6 488.1 L411.3 485.4 L412.1 487.6 L413.0 489.8 L413.7 492.5 L414.5 493.1 L415.2 496.3 L416.1 493.9 L417.0 492.5 L417.9 492.0 L418.7 498.0 L419.5 502.9 L420.2 506.2 L421.0 509.3 L421.7 511.6 L422.4 515.3 L423.2 515.2 L423.9 519.2 L424.6 523.3 L425.3 528.8 L426.0 533.4 L426.9 537.5 L427.7 544.3 L428.4 546.0 L429.2 549.4 L429.9 550.8 L430.6 551.6 L431.3 551.5 L432.0 550.8 L432.7 551.6 L433.5 552.1 L434.2 553.0 L435.1 551.9 L436.0 549.1 L436.9 547.5 L437.6 548.3 L438.3 549.6 L439.0 548.9 L439.7 549.7 L440.5 546.0 L441.3 543.2 L442.1 545.3 L442.9 547.5 L443.6 548.0 L444.3 547.9 L445.1 547.6 L445.8 547.9 L446.5 547.5 L447.2 548.5 L448.0 551.3 L448.7 554.0 L449.5 555.7 L450.4 556.8 L451.2 558.3 L452.0 560.6 L452.7 560.7 L453.4 561.3 L454.1 562.2 L454.9 562.4 L455.6 563.4 L456.3 563.9 L457.0 564.8 L457.8 564.6 L458.5 565.0 L458.5 565.5Z" fill="#808080"/>
<rect x="399.1" y="472.7" width="92.3" height="92.9" fill="none" stroke="#000" stroke-width="1.6"/>
<text x="393.9" y="569.3" font-size="9.5" text-anchor="end" textLength="4.8" lengthAdjust="spacingAndGlyphs" stroke="#000" stroke-width="0.6">0</text>
<line x1="396.1" y1="565.4" x2="399.1" y2="565.4" stroke="#000" stroke-width="1.3"/>
<text x="393.9" y="551.6" font-size="9.5" text-anchor="end" textLength="10.0" lengthAdjust="spacingAndGlyphs" stroke="#000" stroke-width="0.6">20</text>
<line x1="396.1" y1="547.7" x2="399.1" y2="547.7" stroke="#000" stroke-width="1.3"/>
<text x="393.9" y="533.9" font-size="9.5" text-anchor="end" textLength="10.0" lengthAdjust="spacingAndGlyphs" stroke="#000" stroke-width="0.6">40</text>
<line x1="396.1" y1="530.0" x2="399.1" y2="530.0" stroke="#000" stroke-width="1.3"/>
<text x="393.9" y="516.3" font-size="9.5" text-anchor="end" textLength="10.0" lengthAdjust="spacingAndGlyphs" stroke="#000" stroke-width="0.6">60</text>
<line x1="396.1" y1="512.4" x2="399.1" y2="512.4" stroke="#000" stroke-width="1.3"/>
<text x="393.9" y="498.6" font-size="9.5" text-anchor="end" textLength="10.0" lengthAdjust="spacingAndGlyphs" stroke="#000" stroke-width="0.6">80</text>
<line x1="396.1" y1="494.7" x2="399.1" y2="494.7" stroke="#000" stroke-width="1.3"/>
<text x="393.9" y="480.9" font-size="9.5" text-anchor="end" textLength="15.2" lengthAdjust="spacingAndGlyphs" stroke="#000" stroke-width="0.6">100</text>
<line x1="396.1" y1="477.0" x2="399.1" y2="477.0" stroke="#000" stroke-width="1.3"/>
<line x1="397.8" y1="474.7" x2="399.1" y2="474.7" stroke="#000" stroke-width="0.7"/>
<line x1="397.8" y1="476.9" x2="399.1" y2="476.9" stroke="#000" stroke-width="0.7"/>
<line x1="397.8" y1="479.1" x2="399.1" y2="479.1" stroke="#000" stroke-width="0.7"/>
<line x1="397.8" y1="481.3" x2="399.1" y2="481.3" stroke="#000" stroke-width="0.7"/>
<line x1="397.8" y1="483.5" x2="399.1" y2="483.5" stroke="#000" stroke-width="0.7"/>
<line x1="397.8" y1="485.7" x2="399.1" y2="485.7" stroke="#000" stroke-width="0.7"/>
<line x1="397.8" y1="487.9" x2="399.1" y2="487.9" stroke="#000" stroke-width="0.7"/>
<line x1="397.8" y1="490.1" x2="399.1" y2="490.1" stroke="#000" stroke-width="0.7"/>
<line x1="397.8" y1="492.3" x2="399.1" y2="492.3" stroke="#000" stroke-width="0.7"/>
<line x1="397.8" y1="494.5" x2="399.1" y2="494.5" stroke="#000" stroke-width="0.7"/>
<line x1="397.8" y1="496.7" x2="399.1" y2="496.7" stroke="#000" stroke-width="0.7"/>
<line x1="397.8" y1="498.9" x2="399.1" y2="498.9" stroke="#000" stroke-width="0.7"/>
<line x1="397.8" y1="501.1" x2="399.1" y2="501.1" stroke="#000" stroke-width="0.7"/>
<line x1="397.8" y1="503.3" x2="399.1" y2="503.3" stroke="#000" stroke-width="0.7"/>
<line x1="397.8" y1="505.5" x2="399.1" y2="505.5" stroke="#000" stroke-width="0.7"/>
<line x1="397.8" y1="507.7" x2="399.1" y2="507.7" stroke="#000" stroke-width="0.7"/>
<line x1="397.8" y1="509.9" x2="399.1" y2="509.9" stroke="#000" stroke-width="0.7"/>
<line x1="397.8" y1="512.1" x2="399.1" y2="512.1" stroke="#000" stroke-width="0.7"/>
<line x1="397.8" y1="514.3" x2="399.1" y2="514.3" stroke="#000" stroke-width="0.7"/>
<line x1="397.8" y1="516.5" x2="399.1" y2="516.5" stroke="#000" stroke-width="0.7"/>
<line x1="397.8" y1="518.7" x2="399.1" y2="518.7" stroke="#000" stroke-width="0.7"/>
<line x1="397.8" y1="520.9" x2="399.1" y2="520.9" stroke="#000" stroke-width="0.7"/>
<line x1="397.8" y1="523.1" x2="399.1" y2="523.1" stroke="#000" stroke-width="0.7"/>
<line x1="397.8" y1="525.3" x2="399.1" y2="525.3" stroke="#000" stroke-width="0.7"/>
<line x1="397.8" y1="527.5" x2="399.1" y2="527.5" stroke="#000" stroke-width="0.7"/>
<line x1="397.8" y1="529.7" x2="399.1" y2="529.7" stroke="#000" stroke-width="0.7"/>
<line x1="397.8" y1="531.9" x2="399.1" y2="531.9" stroke="#000" stroke-width="0.7"/>
<line x1="397.8" y1="534.1" x2="399.1" y2="534.1" stroke="#000" stroke-width="0.7"/>
<line x1="397.8" y1="536.3" x2="399.1" y2="536.3" stroke="#000" stroke-width="0.7"/>
<line x1="397.8" y1="538.5" x2="399.1" y2="538.5" stroke="#000" stroke-width="0.7"/>
<line x1="397.8" y1="540.7" x2="399.1" y2="540.7" stroke="#000" stroke-width="0.7"/>
<line x1="397.8" y1="542.9" x2="399.1" y2="542.9" stroke="#000" stroke-width="0.7"/>
<line x1="397.8" y1="545.1" x2="399.1" y2="545.1" stroke="#000" stroke-width="0.7"/>
<line x1="397.8" y1="547.3" x2="399.1" y2="547.3" stroke="#000" stroke-width="0.7"/>
<line x1="397.8" y1="549.5" x2="399.1" y2="549.5" stroke="#000" stroke-width="0.7"/>
<line x1="397.8" y1="551.7" x2="399.1" y2="551.7" stroke="#000" stroke-width="0.7"/>
<line x1="397.8" y1="553.9" x2="399.1" y2="553.9" stroke="#000" stroke-width="0.7"/>
<line x1="397.8" y1="556.1" x2="399.1" y2="556.1" stroke="#000" stroke-width="0.7"/>
<line x1="397.8" y1="558.3" x2="399.1" y2="558.3" stroke="#000" stroke-width="0.7"/>
<line x1="397.8" y1="560.5" x2="399.1" y2="560.5" stroke="#000" stroke-width="0.7"/>
<line x1="397.8" y1="562.7" x2="399.1" y2="562.7" stroke="#000" stroke-width="0.7"/>
<line x1="397.8" y1="564.9" x2="399.1" y2="564.9" stroke="#000" stroke-width="0.7"/>
<line x1="401.1" y1="565.6" x2="401.1" y2="567.1" stroke="#000" stroke-width="0.7"/>
<line x1="403.5" y1="565.6" x2="403.5" y2="567.1" stroke="#000" stroke-width="0.7"/>
<line x1="405.9" y1="565.6" x2="405.9" y2="567.1" stroke="#000" stroke-width="0.7"/>
<line x1="408.3" y1="565.6" x2="408.3" y2="567.1" stroke="#000" stroke-width="0.7"/>
<line x1="410.7" y1="565.6" x2="410.7" y2="567.1" stroke="#000" stroke-width="0.7"/>
<line x1="413.1" y1="565.6" x2="413.1" y2="567.1" stroke="#000" stroke-width="0.7"/>
<line x1="415.5" y1="565.6" x2="415.5" y2="567.1" stroke="#000" stroke-width="0.7"/>
<line x1="417.9" y1="565.6" x2="417.9" y2="567.1" stroke="#000" stroke-width="0.7"/>
<line x1="420.3" y1="565.6" x2="420.3" y2="567.1" stroke="#000" stroke-width="0.7"/>
<line x1="422.7" y1="565.6" x2="422.7" y2="567.1" stroke="#000" stroke-width="0.7"/>
<line x1="425.1" y1="565.6" x2="425.1" y2="567.1" stroke="#000" stroke-width="0.7"/>
<line x1="427.5" y1="565.6" x2="427.5" y2="567.1" stroke="#000" stroke-width="0.7"/>
<line x1="429.9" y1="565.6" x2="429.9" y2="567.1" stroke="#000" stroke-width="0.7"/>
<line x1="432.3" y1="565.6" x2="432.3" y2="567.1" stroke="#000" stroke-width="0.7"/>
<line x1="434.7" y1="565.6" x2="434.7" y2="567.1" stroke="#000" stroke-width="0.7"/>
<line x1="437.1" y1="565.6" x2="437.1" y2="567.1" stroke="#000" stroke-width="0.7"/>
<line x1="439.5" y1="565.6" x2="439.5" y2="567.1" stroke="#000" stroke-width="0.7"/>
<line x1="441.9" y1="565.6" x2="441.9" y2="567.1" stroke="#000" stroke-width="0.7"/>
<line x1="444.3" y1="565.6" x2="444.3" y2="567.1" stroke="#000" stroke-width="0.7"/>
<line x1="446.7" y1="565.6" x2="446.7" y2="567.1" stroke="#000" stroke-width="0.7"/>
<line x1="449.1" y1="565.6" x2="449.1" y2="567.1" stroke="#000" stroke-width="0.7"/>
<line x1="451.5" y1="565.6" x2="451.5" y2="567.1" stroke="#000" stroke-width="0.7"/>
<line x1="453.9" y1="565.6" x2="453.9" y2="567.1" stroke="#000" stroke-width="0.7"/>
<line x1="456.3" y1="565.6" x2="456.3" y2="567.1" stroke="#000" stroke-width="0.7"/>
<line x1="458.7" y1="565.6" x2="458.7" y2="567.1" stroke="#000" stroke-width="0.7"/>
<line x1="461.1" y1="565.6" x2="461.1" y2="567.1" stroke="#000" stroke-width="0.7"/>
<line x1="463.5" y1="565.6" x2="463.5" y2="567.1" stroke="#000" stroke-width="0.7"/>
<line x1="465.9" y1="565.6" x2="465.9" y2="567.1" stroke="#000" stroke-width="0.7"/>
<line x1="468.3" y1="565.6" x2="468.3" y2="567.1" stroke="#000" stroke-width="0.7"/>
<line x1="470.7" y1="565.6" x2="470.7" y2="567.1" stroke="#000" stroke-width="0.7"/>
<line x1="473.1" y1="565.6" x2="473.1" y2="567.1" stroke="#000" stroke-width="0.7"/>
<line x1="475.5" y1="565.6" x2="475.5" y2="567.1" stroke="#000" stroke-width="0.7"/>
<line x1="477.9" y1="565.6" x2="477.9" y2="567.1" stroke="#000" stroke-width="0.7"/>
<line x1="480.3" y1="565.6" x2="480.3" y2="567.1" stroke="#000" stroke-width="0.7"/>
<line x1="482.7" y1="565.6" x2="482.7" y2="567.1" stroke="#000" stroke-width="0.7"/>
<line x1="485.1" y1="565.6" x2="485.1" y2="567.1" stroke="#000" stroke-width="0.7"/>
<line x1="487.5" y1="565.6" x2="487.5" y2="567.1" stroke="#000" stroke-width="0.7"/>
<line x1="489.9" y1="565.6" x2="489.9" y2="567.1" stroke="#000" stroke-width="0.7"/>
<path d="M400.4 557.3 L401.5 556.8 L402.6 555.1 L403.7 556.9 L404.8 558.4 L405.9 558.7 L407.0 559.8 L408.1 560.6 L409.2 559.5 L410.2 559.4 L411.3 558.4 L412.4 559.1 L413.5 560.6 L414.6 558.6 L415.7 555.8 L416.8 553.0 L417.9 554.2 L419.0 557.3 L420.1 556.5 L421.1 555.8 L422.2 554.0 L423.3 551.8 L424.4 551.0 L425.5 548.6 L426.6 546.3 L427.7 546.4 L428.8 545.5 L429.9 544.3 L430.8 540.8 L431.7 540.3 L432.6 537.7 L433.7 535.6 L434.8 536.6 L435.9 527.2 L436.9 522.5 L438.6 520.3 L440.2 518.1 L441.8 506.1 L443.5 505.0 L444.4 502.9 L446.0 508.3 L447.6 496.3 L449.3 493.0 L450.4 491.8 L451.4 489.8 L453.1 499.6 L454.7 486.5 L455.8 484.5 L456.9 478.3 L458.5 495.2 L460.2 486.5 L461.2 489.2 L462.3 493.0 L464.0 500.7 L465.6 506.1 L467.2 511.6 L468.9 525.7 L470.5 533.4 L472.1 544.3 L473.0 545.6 L474.0 545.8 L474.9 546.4 L475.9 549.0 L477.0 551.9 L478.1 552.2 L479.2 551.9 L480.3 553.3 L481.4 553.0 L482.5 549.0 L483.6 546.4 L484.7 547.9 L485.8 548.6 L486.9 551.0 L487.9 553.0 L489.0 553.3 L490.1 555.1" fill="none" stroke="#1010d8" stroke-width="1.9" stroke-linejoin="round"/>
<path d="M399.4 563.9 L400.3 564.4 L401.3 564.6 L402.2 563.9 L403.1 564.6 L404.0 564.3 L405.0 564.3 L405.9 564.4 L406.8 564.8 L407.7 564.5 L408.6 564.5 L409.5 564.8 L410.4 564.7 L411.4 564.6 L412.3 564.0 L413.2 564.0 L414.1 564.7 L415.0 564.2 L415.9 564.4 L416.8 564.4 L417.7 564.1 L418.6 564.3 L419.5 563.9 L420.4 564.7 L421.3 563.9 L422.2 564.1 L423.2 564.1 L424.1 564.4 L425.0 563.6 L425.9 564.0 L426.8 563.9 L427.7 563.9 L428.6 563.9 L429.6 563.8 L430.6 563.4 L431.5 563.4 L432.4 563.1 L433.4 563.2 L434.4 562.9 L435.3 562.8 L436.4 562.3 L437.5 562.2 L438.6 562.1 L439.7 561.7 L440.8 561.7 L441.8 560.1 L442.9 559.5 L444.4 559.5 L445.5 558.9 L446.5 558.7 L447.6 556.6 L448.7 556.8 L449.8 555.9 L450.9 556.0 L452.0 556.3 L453.1 556.2 L454.2 557.3 L455.2 556.4 L456.3 556.7 L457.4 556.2 L458.5 556.3 L459.6 555.4 L460.7 555.6 L461.8 556.8 L462.9 557.4 L464.0 557.1 L465.0 556.6 L466.1 557.3 L467.2 556.7 L468.3 554.4 L469.4 554.0 L471.0 544.3 L472.7 537.7 L473.8 533.3 L474.9 526.8 L476.5 511.6 L478.1 495.2 L479.8 487.6 L481.2 478.3 L482.5 486.5 L484.1 489.8 L485.8 509.4 L487.4 522.5 L489.0 538.8 L490.1 549.7 L490.7 555.1" fill="none" stroke="#e3171c" stroke-width="1.9" stroke-linejoin="round"/>
<line x1="399.4" y1="472.7" x2="399.4" y2="565.6" stroke="#1010d8" stroke-width="2.2"/>
<text x="59.1" y="576.7" font-size="8.8" stroke="#000" stroke-width="0.4">0</text>
<text x="65.3" y="576.7" font-size="8.8" stroke="#000" stroke-width="0.4">10<tspan font-size="5.3" dy="-2.9">2</tspan></text>
<text x="89.5" y="576.7" font-size="8.8" stroke="#000" stroke-width="0.4">10<tspan font-size="5.3" dy="-2.9">3</tspan></text>
<text x="110.9" y="576.7" font-size="8.8" stroke="#000" stroke-width="0.4">10<tspan font-size="5.3" dy="-2.9">4</tspan></text>
<text x="132.0" y="576.7" font-size="8.8" stroke="#000" stroke-width="0.4">10<tspan font-size="5.3" dy="-2.9">5</tspan></text>
<text x="173.2" y="576.7" font-size="8.8" stroke="#000" stroke-width="0.4">0</text>
<text x="179.4" y="576.7" font-size="8.8" stroke="#000" stroke-width="0.4">10<tspan font-size="5.3" dy="-2.9">2</tspan></text>
<text x="203.6" y="576.7" font-size="8.8" stroke="#000" stroke-width="0.4">10<tspan font-size="5.3" dy="-2.9">3</tspan></text>
<text x="225.0" y="576.7" font-size="8.8" stroke="#000" stroke-width="0.4">10<tspan font-size="5.3" dy="-2.9">4</tspan></text>
<text x="246.1" y="576.7" font-size="8.8" stroke="#000" stroke-width="0.4">10<tspan font-size="5.3" dy="-2.9">5</tspan></text>
<text x="289.7" y="576.7" font-size="8.8" stroke="#000" stroke-width="0.4">0</text>
<text x="295.9" y="576.7" font-size="8.8" stroke="#000" stroke-width="0.4">10<tspan font-size="5.3" dy="-2.9">2</tspan></text>
<text x="320.1" y="576.7" font-size="8.8" stroke="#000" stroke-width="0.4">10<tspan font-size="5.3" dy="-2.9">3</tspan></text>
<text x="341.5" y="576.7" font-size="8.8" stroke="#000" stroke-width="0.4">10<tspan font-size="5.3" dy="-2.9">4</tspan></text>
<text x="362.6" y="576.7" font-size="8.8" stroke="#000" stroke-width="0.4">10<tspan font-size="5.3" dy="-2.9">5</tspan></text>
<text x="405.5" y="576.7" font-size="8.8" stroke="#000" stroke-width="0.4">0</text>
<text x="411.7" y="576.7" font-size="8.8" stroke="#000" stroke-width="0.4">10<tspan font-size="5.3" dy="-2.9">2</tspan></text>
<text x="435.9" y="576.7" font-size="8.8" stroke="#000" stroke-width="0.4">10<tspan font-size="5.3" dy="-2.9">3</tspan></text>
<text x="457.3" y="576.7" font-size="8.8" stroke="#000" stroke-width="0.4">10<tspan font-size="5.3" dy="-2.9">4</tspan></text>
<text x="478.4" y="576.7" font-size="8.8" stroke="#000" stroke-width="0.4">10<tspan font-size="5.3" dy="-2.9">5</tspan></text>
<text x="66.4" y="599.8" font-size="14" textLength="54.0" lengthAdjust="spacingAndGlyphs" stroke="#000" stroke-width="0.6">CD301b</text>
<text x="213.4" y="599.8" font-size="14" text-anchor="middle" textLength="39.0" lengthAdjust="spacingAndGlyphs" stroke="#000" stroke-width="0.6">F4/80</text>
<text x="324.9" y="599.8" font-size="14" textLength="24.3" lengthAdjust="spacingAndGlyphs" stroke="#000" stroke-width="0.6">I-A<tspan font-size="8.1" dy="-5.9">b</tspan></text>
<text x="434.1" y="599.8" font-size="14" textLength="28.8" lengthAdjust="spacingAndGlyphs" stroke="#000" stroke-width="0.6">Gr-1</text>
<rect x="51.2" y="623.7" width="12.4" height="11.8" fill="#999" stroke="#000" stroke-width="1.4"/>
<rect x="51.2" y="639.5" width="12.4" height="11.1" fill="#e8202a" stroke="#000" stroke-width="1.4"/>
<rect x="51.2" y="654.5" width="12.4" height="13.6" fill="#0000ff" stroke="#000" stroke-width="1.4"/>
<text x="69.5" y="633.8" font-size="12.5" textLength="46.5" lengthAdjust="spacingAndGlyphs" stroke="#000" stroke-width="0.6">Isotype</text>
<text x="68.8" y="649.5" font-size="12.5" textLength="86.7" lengthAdjust="spacingAndGlyphs" stroke="#000" stroke-width="0.6">CD11b<tspan font-size="7.8" dy="-4.8">+</tspan><tspan dy="4.8">CD11c</tspan><tspan font-size="7.8" dy="-4.8">-</tspan></text>
<text x="68.8" y="666.2" font-size="12.5" textLength="88.7" lengthAdjust="spacingAndGlyphs" stroke="#000" stroke-width="0.6">CD11b<tspan font-size="7.8" dy="-4.8">+</tspan><tspan dy="4.8">CD11c</tspan><tspan font-size="7.8" dy="-4.8">+</tspan></text>
<text x="-2.4" y="704.8" font-size="28" stroke="#000" stroke-width="0.5">C</text>
<text x="92.0" y="706.3" font-size="14" textLength="26.9" lengthAdjust="spacingAndGlyphs" stroke="#000" stroke-width="0.5">Klf4</text>
<text x="254.8" y="707.0" font-size="14" textLength="32.9" lengthAdjust="spacingAndGlyphs" stroke="#000" stroke-width="0.5">IRF4</text>
<text x="420.3" y="707.0" font-size="14" textLength="35.7" lengthAdjust="spacingAndGlyphs" stroke="#000" stroke-width="0.5">Batf3</text>
<text x="26.9" y="796.2" font-size="12" text-anchor="middle" textLength="155.7" lengthAdjust="spacingAndGlyphs" transform="rotate(-90 26.9 796.2)" stroke="#000" stroke-width="0.4">relative expression to AIP</text>
<line x1="49.6" y1="733.8" x2="49.6" y2="856.0" stroke="#000" stroke-width="1.7"/>
<line x1="41.9" y1="856.0" x2="49.6" y2="856.0" stroke="#000" stroke-width="1.7"/>
<text x="39.6" y="860.3" font-size="12.7" text-anchor="end" stroke="#000" stroke-width="0.6">0</text>
<line x1="41.9" y1="825.4" x2="49.6" y2="825.4" stroke="#000" stroke-width="1.7"/>
<text x="39.6" y="829.7" font-size="12.7" text-anchor="end" stroke="#000" stroke-width="0.6">2</text>
<line x1="41.9" y1="794.9" x2="49.6" y2="794.9" stroke="#000" stroke-width="1.7"/>
<text x="39.6" y="799.2" font-size="12.7" text-anchor="end" stroke="#000" stroke-width="0.6">4</text>
<line x1="41.9" y1="764.3" x2="49.6" y2="764.3" stroke="#000" stroke-width="1.7"/>
<text x="39.6" y="768.6" font-size="12.7" text-anchor="end" stroke="#000" stroke-width="0.6">6</text>
<line x1="41.9" y1="733.8" x2="49.6" y2="733.8" stroke="#000" stroke-width="1.7"/>
<text x="39.6" y="738.1" font-size="12.7" text-anchor="end" stroke="#000" stroke-width="0.6">8</text>
<line x1="41.9" y1="856.0" x2="159.8" y2="856.0" stroke="#000" stroke-width="1.9"/>
<rect x="54.2" y="821.0" width="18.2" height="35.0" fill="#a0a0a0" stroke="#000" stroke-width="1.5"/>
<line x1="91.2" y1="762.8" x2="91.2" y2="793.0" stroke="#000" stroke-width="1.5"/>
<line x1="85.2" y1="762.8" x2="97.2" y2="762.8" stroke="#000" stroke-width="1.5"/>
<rect x="82.0" y="793.8" width="18.5" height="62.2" fill="#000" stroke="#000" stroke-width="1.5"/>
<line x1="118.1" y1="838.9" x2="118.1" y2="842.2" stroke="#000" stroke-width="1.5"/>
<line x1="112.5" y1="838.9" x2="123.8" y2="838.9" stroke="#000" stroke-width="1.5"/>
<rect x="109.5" y="843.0" width="17.2" height="13.0" fill="#a0a0a0" stroke="#000" stroke-width="1.5"/>
<line x1="146.2" y1="769.1" x2="146.2" y2="785.4" stroke="#000" stroke-width="1.5"/>
<line x1="140.2" y1="769.1" x2="152.2" y2="769.1" stroke="#000" stroke-width="1.5"/>
<rect x="137.0" y="786.2" width="18.5" height="69.8" fill="#000" stroke="#000" stroke-width="1.5"/>
<line x1="65.2" y1="757.0" x2="92.9" y2="757.0" stroke="#000" stroke-width="2"/>
<text x="67.8" y="753.5" font-size="13" textLength="24.2" lengthAdjust="spacingAndGlyphs" stroke="#000" stroke-width="0.45">n.s.</text>
<line x1="89.4" y1="742.6" x2="146.9" y2="742.6" stroke="#000" stroke-width="2"/>
<text x="109.3" y="739.2" font-size="13" textLength="22.0" lengthAdjust="spacingAndGlyphs" stroke="#000" stroke-width="0.45">n.s.</text>
<line x1="119.7" y1="766.0" x2="146.5" y2="766.0" stroke="#000" stroke-width="2"/>
<text x="133.5" y="767.5" font-size="14" text-anchor="middle" stroke="#000" stroke-width="0.2">*</text>
<text x="78.4" y="874.2" font-size="13" text-anchor="middle" stroke="#000" stroke-width="0.45">day4-</text>
<text x="78.4" y="888.3" font-size="13" text-anchor="middle" textLength="43.8" lengthAdjust="spacingAndGlyphs" stroke="#000" stroke-width="0.45">MDSCs</text>
<text x="133.3" y="874.2" font-size="13" text-anchor="middle" stroke="#000" stroke-width="0.45">GVHD-</text>
<text x="133.3" y="888.3" font-size="13" text-anchor="middle" textLength="43.8" lengthAdjust="spacingAndGlyphs" stroke="#000" stroke-width="0.45">MDSCs</text>
<text x="183.5" y="796.2" font-size="12" text-anchor="middle" textLength="155.7" lengthAdjust="spacingAndGlyphs" transform="rotate(-90 183.5 796.2)" stroke="#000" stroke-width="0.4">relative expression to AIP</text>
<line x1="215.6" y1="733.2" x2="215.6" y2="855.7" stroke="#000" stroke-width="1.7"/>
<line x1="207.9" y1="855.7" x2="215.6" y2="855.7" stroke="#000" stroke-width="1.7"/>
<text x="205.6" y="860.0" font-size="12.7" text-anchor="end" stroke="#000" stroke-width="0.6">0</text>
<line x1="207.9" y1="831.2" x2="215.6" y2="831.2" stroke="#000" stroke-width="1.7"/>
<text x="205.6" y="835.5" font-size="12.7" text-anchor="end" stroke="#000" stroke-width="0.6">0.5</text>
<line x1="207.9" y1="806.7" x2="215.6" y2="806.7" stroke="#000" stroke-width="1.7"/>
<text x="205.6" y="811.0" font-size="12.7" text-anchor="end" stroke="#000" stroke-width="0.6">1.0</text>
<line x1="207.9" y1="782.2" x2="215.6" y2="782.2" stroke="#000" stroke-width="1.7"/>
<text x="205.6" y="786.5" font-size="12.7" text-anchor="end" stroke="#000" stroke-width="0.6">1.5</text>
<line x1="207.9" y1="757.7" x2="215.6" y2="757.7" stroke="#000" stroke-width="1.7"/>
<text x="205.6" y="762.0" font-size="12.7" text-anchor="end" stroke="#000" stroke-width="0.6">2.0</text>
<line x1="207.9" y1="733.2" x2="215.6" y2="733.2" stroke="#000" stroke-width="1.7"/>
<text x="205.6" y="737.5" font-size="12.7" text-anchor="end" stroke="#000" stroke-width="0.6">2.5</text>
<line x1="207.9" y1="855.7" x2="325.8" y2="855.7" stroke="#000" stroke-width="1.9"/>
<line x1="230.2" y1="796.9" x2="230.2" y2="801.3" stroke="#000" stroke-width="1.5"/>
<line x1="224.9" y1="796.9" x2="235.6" y2="796.9" stroke="#000" stroke-width="1.5"/>
<rect x="222.1" y="802.1" width="16.4" height="53.6" fill="#a0a0a0" stroke="#000" stroke-width="1.5"/>
<line x1="257.4" y1="752.3" x2="257.4" y2="763.6" stroke="#000" stroke-width="1.5"/>
<line x1="251.3" y1="752.3" x2="263.5" y2="752.3" stroke="#000" stroke-width="1.5"/>
<rect x="248.1" y="764.3" width="18.7" height="91.4" fill="#000" stroke="#000" stroke-width="1.5"/>
<line x1="284.9" y1="825.3" x2="284.9" y2="831.2" stroke="#000" stroke-width="1.5"/>
<line x1="279.1" y1="825.3" x2="290.7" y2="825.3" stroke="#000" stroke-width="1.5"/>
<rect x="276.1" y="832.0" width="17.7" height="23.8" fill="#a0a0a0" stroke="#000" stroke-width="1.5"/>
<line x1="312.5" y1="785.1" x2="312.5" y2="790.3" stroke="#000" stroke-width="1.5"/>
<line x1="306.4" y1="785.1" x2="318.5" y2="785.1" stroke="#000" stroke-width="1.5"/>
<rect x="303.1" y="791.0" width="18.8" height="64.7" fill="#000" stroke="#000" stroke-width="1.5"/>
<line x1="229.8" y1="749.7" x2="256.1" y2="749.7" stroke="#000" stroke-width="2"/>
<text x="242.8" y="750.2" font-size="14" text-anchor="middle" stroke="#000" stroke-width="0.2">*</text>
<line x1="253.5" y1="737.5" x2="311.5" y2="737.5" stroke="#000" stroke-width="2"/>
<text x="273.1" y="732.8" font-size="13" textLength="23.2" lengthAdjust="spacingAndGlyphs" stroke="#000" stroke-width="0.45">n.s.</text>
<line x1="285.2" y1="751.5" x2="312.4" y2="751.5" stroke="#000" stroke-width="2"/>
<text x="298.9" y="751.9" font-size="14" text-anchor="middle" stroke="#000" stroke-width="0.2">*</text>
<text x="244.5" y="874.2" font-size="13" text-anchor="middle" stroke="#000" stroke-width="0.45">day4-</text>
<text x="244.5" y="888.3" font-size="13" text-anchor="middle" textLength="43.8" lengthAdjust="spacingAndGlyphs" stroke="#000" stroke-width="0.45">MDSCs</text>
<text x="299.2" y="874.2" font-size="13" text-anchor="middle" stroke="#000" stroke-width="0.45">GVHD-</text>
<text x="299.2" y="888.3" font-size="13" text-anchor="middle" textLength="43.8" lengthAdjust="spacingAndGlyphs" stroke="#000" stroke-width="0.45">MDSCs</text>
<text x="357.8" y="796.2" font-size="12" text-anchor="middle" textLength="155.7" lengthAdjust="spacingAndGlyphs" transform="rotate(-90 357.8 796.2)" stroke="#000" stroke-width="0.4">relative expression to AIP</text>
<line x1="382.3" y1="733.0" x2="382.3" y2="854.8" stroke="#000" stroke-width="1.7"/>
<line x1="374.6" y1="854.8" x2="382.3" y2="854.8" stroke="#000" stroke-width="1.7"/>
<text x="372.3" y="859.1" font-size="12.7" text-anchor="end" stroke="#000" stroke-width="0.6">0</text>
<line x1="374.6" y1="814.2" x2="382.3" y2="814.2" stroke="#000" stroke-width="1.7"/>
<text x="372.3" y="818.5" font-size="12.7" text-anchor="end" stroke="#000" stroke-width="0.6">1</text>
<line x1="374.6" y1="773.6" x2="382.3" y2="773.6" stroke="#000" stroke-width="1.7"/>
<text x="372.3" y="777.9" font-size="12.7" text-anchor="end" stroke="#000" stroke-width="0.6">2</text>
<line x1="374.6" y1="733.0" x2="382.3" y2="733.0" stroke="#000" stroke-width="1.7"/>
<text x="372.3" y="737.3" font-size="12.7" text-anchor="end" stroke="#000" stroke-width="0.6">3</text>
<line x1="374.6" y1="854.8" x2="493.0" y2="854.8" stroke="#000" stroke-width="1.9"/>
<line x1="396.1" y1="835.7" x2="396.1" y2="838.2" stroke="#000" stroke-width="1.5"/>
<line x1="390.4" y1="835.7" x2="401.9" y2="835.7" stroke="#000" stroke-width="1.5"/>
<rect x="387.2" y="838.9" width="17.8" height="15.9" fill="#a0a0a0" stroke="#000" stroke-width="1.5"/>
<line x1="424.0" y1="753.3" x2="424.0" y2="768.7" stroke="#000" stroke-width="1.5"/>
<line x1="418.1" y1="753.3" x2="429.9" y2="753.3" stroke="#000" stroke-width="1.5"/>
<rect x="414.9" y="769.5" width="18.1" height="85.3" fill="#000" stroke="#000" stroke-width="1.5"/>
<rect x="442.6" y="852.7" width="18.6" height="2.1" fill="#a0a0a0" stroke="#000" stroke-width="1.5"/>
<line x1="478.9" y1="836.9" x2="478.9" y2="838.2" stroke="#000" stroke-width="1.5"/>
<line x1="472.9" y1="836.9" x2="484.9" y2="836.9" stroke="#000" stroke-width="1.5"/>
<rect x="469.6" y="838.9" width="18.5" height="15.9" fill="#000" stroke="#000" stroke-width="1.5"/>
<line x1="397.7" y1="748.3" x2="424.6" y2="748.3" stroke="#000" stroke-width="2"/>
<text x="411.5" y="748.5" font-size="14" text-anchor="middle" stroke="#000" stroke-width="0.2">*</text>
<line x1="423.7" y1="736.9" x2="480.8" y2="736.9" stroke="#000" stroke-width="2"/>
<text x="449.6" y="737.6" font-size="14" text-anchor="middle" stroke="#000" stroke-width="0.2">**</text>
<line x1="452.7" y1="833.5" x2="479.2" y2="833.5" stroke="#000" stroke-width="2"/>
<text x="465.4" y="834.3" font-size="14" text-anchor="middle" stroke="#000" stroke-width="0.2">**</text>
<text x="412.8" y="874.2" font-size="13" text-anchor="middle" stroke="#000" stroke-width="0.45">day4-</text>
<text x="412.8" y="888.3" font-size="13" text-anchor="middle" textLength="43.8" lengthAdjust="spacingAndGlyphs" stroke="#000" stroke-width="0.45">MDSCs</text>
<text x="466.4" y="874.2" font-size="13" text-anchor="middle" stroke="#000" stroke-width="0.45">GVHD-</text>
<text x="466.4" y="888.3" font-size="13" text-anchor="middle" textLength="43.8" lengthAdjust="spacingAndGlyphs" stroke="#000" stroke-width="0.45">MDSCs</text>
<rect x="51.2" y="906.2" width="12.8" height="13.2" fill="#a0a0a0" stroke="#000" stroke-width="1.5"/>
<rect x="51.2" y="922.7" width="12.8" height="16.0" fill="#000" stroke="#000" stroke-width="1.5"/>
<text x="68.6" y="916.6" font-size="12.5" textLength="89.9" lengthAdjust="spacingAndGlyphs" stroke="#000" stroke-width="0.6">CD11b<tspan font-size="7.8" dy="-4.8">+</tspan><tspan dy="4.8">CD11c</tspan><tspan font-size="7.8" dy="-4.8">−</tspan></text>
<text x="68.6" y="933.6" font-size="12.5" textLength="89.9" lengthAdjust="spacingAndGlyphs" stroke="#000" stroke-width="0.6">CD11b<tspan font-size="7.8" dy="-4.8">+</tspan><tspan dy="4.8">CD11c</tspan><tspan font-size="7.8" dy="-4.8">+</tspan></text>
</svg></body></html>
